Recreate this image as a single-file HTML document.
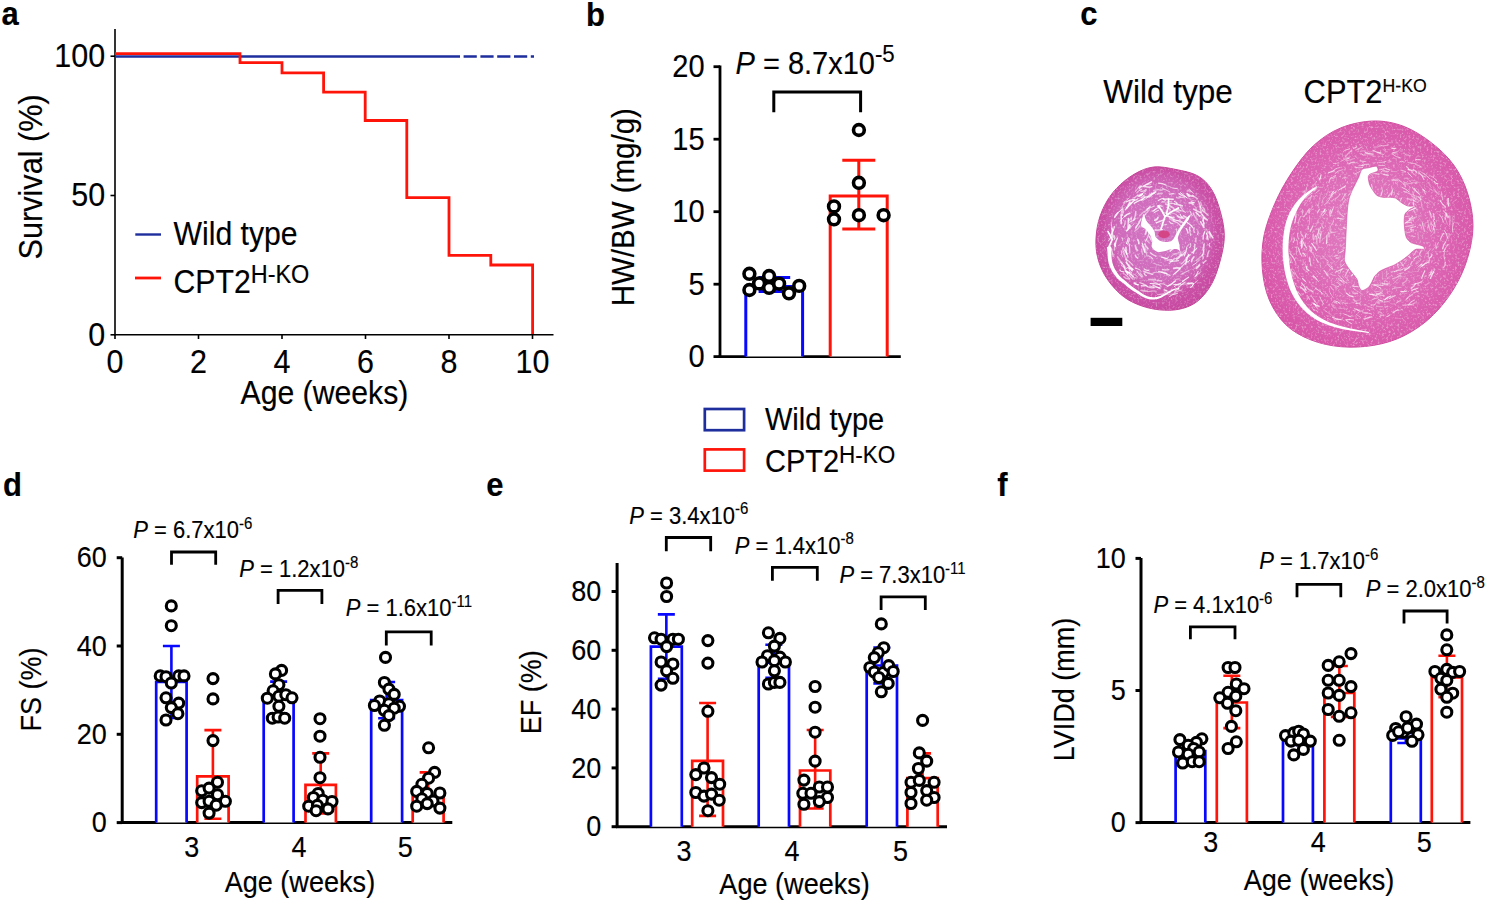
<!DOCTYPE html><html><head><meta charset="utf-8"><title>Figure</title>
<style>html,body{margin:0;padding:0;background:#fff;}svg{display:block;}text{font-family:"Liberation Sans",sans-serif;fill:#000;stroke:#000;stroke-width:0.15px;}</style></head><body>
<svg width="1500" height="908" viewBox="0 0 1500 908">
<rect width="1500" height="908" fill="#fff"/>
<text transform="translate(1.5,25.3) scale(1,1.08)" font-size="31" font-weight="bold" >a</text>
<line x1="115" y1="29" x2="115" y2="335.4" stroke="#000" stroke-width="1.6" />
<line x1="114.2" y1="334.8" x2="553.5" y2="334.8" stroke="#000" stroke-width="1.6" />
<line x1="110.5" y1="56.2" x2="115" y2="56.2" stroke="#000" stroke-width="1.6" />
<line x1="110.5" y1="195.5" x2="115" y2="195.5" stroke="#000" stroke-width="1.6" />
<line x1="110.5" y1="334.8" x2="115" y2="334.8" stroke="#000" stroke-width="1.6" />
<line x1="115" y1="334.8" x2="115" y2="339" stroke="#000" stroke-width="1.6" />
<line x1="198.5" y1="334.8" x2="198.5" y2="339" stroke="#000" stroke-width="1.6" />
<line x1="282" y1="334.8" x2="282" y2="339" stroke="#000" stroke-width="1.6" />
<line x1="365.5" y1="334.8" x2="365.5" y2="339" stroke="#000" stroke-width="1.6" />
<line x1="449" y1="334.8" x2="449" y2="339" stroke="#000" stroke-width="1.6" />
<line x1="532.5" y1="334.8" x2="532.5" y2="339" stroke="#000" stroke-width="1.6" />
<text transform="translate(105.2,67) scale(1,1.08)" font-size="30.5" text-anchor="end" >100</text>
<text transform="translate(105.2,206.3) scale(1,1.08)" font-size="30.5" text-anchor="end" >50</text>
<text transform="translate(105.2,345.6) scale(1,1.08)" font-size="30.5" text-anchor="end" >0</text>
<text transform="translate(115,372.8) scale(1,1.08)" font-size="30.5" text-anchor="middle" >0</text>
<text transform="translate(198.5,372.8) scale(1,1.08)" font-size="30.5" text-anchor="middle" >2</text>
<text transform="translate(282,372.8) scale(1,1.08)" font-size="30.5" text-anchor="middle" >4</text>
<text transform="translate(365.5,372.8) scale(1,1.08)" font-size="30.5" text-anchor="middle" >6</text>
<text transform="translate(449,372.8) scale(1,1.08)" font-size="30.5" text-anchor="middle" >8</text>
<text transform="translate(532.5,372.8) scale(1,1.08)" font-size="30.5" text-anchor="middle" >10</text>
<text transform="translate(324.4,403.8) scale(1,1.08)" font-size="30.2" text-anchor="middle" >Age (weeks)</text>
<text transform="translate(41.7,176.9) rotate(-90) scale(1,1.08)" font-size="30.7" text-anchor="middle">Survival (%)</text>
<path d="M115,56.5 H460" stroke="#1e2e9c" stroke-width="2.3" fill="none"/>
<path d="M463.6,56.5 H534" stroke="#1e2e9c" stroke-width="2.3" fill="none" stroke-dasharray="13.2 3.6"/>
<path d="M115,53.6 H240 V62.7 H282 V72.9 H323.6 V92.1 H365.2 V120.5 H406.8 V197.6 H449 V255.4 H490.8 V265 H532.6 V334" stroke="#ff140a" stroke-width="2.8" fill="none"/>
<line x1="135.3" y1="234.5" x2="161" y2="234.5" stroke="#1e2e9c" stroke-width="2.4" />
<line x1="135" y1="278" x2="161" y2="278" stroke="#ff140a" stroke-width="2.8" />
<text transform="translate(173.5,244.8) scale(1,1.08)" font-size="30.2" >Wild type</text>
<text transform="translate(173.5,293.4) scale(1,1.08)" font-size="30.2">CPT2<tspan font-size="23.5" dy="-9.63">H-KO</tspan></text>
<text transform="translate(586,25.6) scale(1,1.08)" font-size="31" font-weight="bold" >b</text>
<line x1="720" y1="65.5" x2="720" y2="357.8" stroke="#000" stroke-width="2.8" />
<line x1="718.6" y1="356.6" x2="900.8" y2="356.6" stroke="#000" stroke-width="2.8" />
<line x1="713.5" y1="66.7" x2="720" y2="66.7" stroke="#000" stroke-width="2.8" />
<text transform="translate(704.5,77.1) scale(1,1.08)" font-size="29" text-anchor="end" >20</text>
<line x1="713.5" y1="139.2" x2="720" y2="139.2" stroke="#000" stroke-width="2.8" />
<text transform="translate(704.5,149.6) scale(1,1.08)" font-size="29" text-anchor="end" >15</text>
<line x1="713.5" y1="211.7" x2="720" y2="211.7" stroke="#000" stroke-width="2.8" />
<text transform="translate(704.5,222.1) scale(1,1.08)" font-size="29" text-anchor="end" >10</text>
<line x1="713.5" y1="284.2" x2="720" y2="284.2" stroke="#000" stroke-width="2.8" />
<text transform="translate(704.5,294.6) scale(1,1.08)" font-size="29" text-anchor="end" >5</text>
<line x1="713.5" y1="356.6" x2="720" y2="356.6" stroke="#000" stroke-width="2.8" />
<text transform="translate(704.5,367) scale(1,1.08)" font-size="29" text-anchor="end" >0</text>
<text transform="translate(634.2,207.2) rotate(-90) scale(1,1.08)" font-size="29.5" text-anchor="middle">HW/BW (mg/g)</text>
<path d="M745.8,356.6 V286.4 H802.6 V356.6" fill="#fff" stroke="#0808ff" stroke-width="3"/>
<path d="M774.4,277.6 V291.5 M758.6,277.6 H790.2 M758.6,291.5 H790.2" fill="none" stroke="#0808ff" stroke-width="3"/>
<path d="M830.2,356.6 V196.1 H887.2 V356.6" fill="#fff" stroke="#ff140a" stroke-width="3"/>
<path d="M858.8,160.2 V228.9 M842.3,160.2 H875.3 M842.3,228.9 H875.3" fill="none" stroke="#ff140a" stroke-width="3"/>
<circle cx="749.4" cy="273.8" r="5.4" fill="#fff" stroke="#000" stroke-width="3.6"/>
<circle cx="749.4" cy="290" r="5.4" fill="#fff" stroke="#000" stroke-width="3.6"/>
<circle cx="759.1" cy="283.4" r="5.4" fill="#fff" stroke="#000" stroke-width="3.6"/>
<circle cx="769.1" cy="276" r="5.4" fill="#fff" stroke="#000" stroke-width="3.6"/>
<circle cx="769.1" cy="287.8" r="5.4" fill="#fff" stroke="#000" stroke-width="3.6"/>
<circle cx="779.1" cy="283.7" r="5.4" fill="#fff" stroke="#000" stroke-width="3.6"/>
<circle cx="789" cy="293.3" r="5.4" fill="#fff" stroke="#000" stroke-width="3.6"/>
<circle cx="799.2" cy="285.9" r="5.4" fill="#fff" stroke="#000" stroke-width="3.6"/>
<circle cx="858.9" cy="130" r="5.4" fill="#fff" stroke="#000" stroke-width="3.6"/>
<circle cx="858.9" cy="182.8" r="5.4" fill="#fff" stroke="#000" stroke-width="3.6"/>
<circle cx="834" cy="206.4" r="5.4" fill="#fff" stroke="#000" stroke-width="3.6"/>
<circle cx="834" cy="219.3" r="5.4" fill="#fff" stroke="#000" stroke-width="3.6"/>
<circle cx="858.9" cy="215.2" r="5.4" fill="#fff" stroke="#000" stroke-width="3.6"/>
<circle cx="883.6" cy="215.2" r="5.4" fill="#fff" stroke="#000" stroke-width="3.6"/>
<path d="M773.8,112.2 V92 H860.6 V112.2" fill="none" stroke="#000" stroke-width="3"/>
<text transform="translate(735.5,74) scale(1,1.08)" font-size="29"><tspan font-style="italic">P</tspan><tspan> = 8.7x10</tspan><tspan font-size="22.3" dy="-11.57">-5</tspan></text>
<rect x="704.8" y="409" width="39.3" height="21.2" fill="none" stroke="#1e2e9c" stroke-width="2.7"/>
<rect x="704.8" y="449.4" width="39.3" height="21.2" fill="none" stroke="#ff140a" stroke-width="2.7"/>
<text transform="translate(765,429.9) scale(1,1.08)" font-size="29" >Wild type</text>
<text transform="translate(765,472.1) scale(1,1.08)" font-size="29">CPT2<tspan font-size="22.5" dy="-8.52">H-KO</tspan></text>
<text transform="translate(1080.2,25.4) scale(1,1.08)" font-size="31" font-weight="bold" >c</text>
<text transform="translate(1103.3,102.8) scale(1,1.08)" font-size="31.5" >Wild type</text>
<text transform="translate(1303.6,102.5) scale(1,1.08)" font-size="30.9">CPT2<tspan font-size="17.7" dy="-9.54">H-KO</tspan></text>
<rect x="1090.6" y="317.8" width="31.7" height="8.2" fill="#000"/>
<defs><radialGradient id="gs" cx="0.5" cy="0.47" r="0.52"><stop offset="0" stop-color="#d277c4"/><stop offset="0.6" stop-color="#d06bbc"/><stop offset="0.76" stop-color="#cd5eb1"/><stop offset="0.86" stop-color="#ca50a6"/><stop offset="1" stop-color="#c84ba2"/></radialGradient><radialGradient id="gl" cx="0.5" cy="0.5" r="0.53"><stop offset="0" stop-color="#e07cc0"/><stop offset="0.45" stop-color="#de70ba"/><stop offset="0.72" stop-color="#dc63b2"/><stop offset="1" stop-color="#d856a8"/></radialGradient><clipPath id="cs"><path d="M1153.7,167 C1160.63,166.23 1168.65,168.02 1176,169.5 C1183.35,170.98 1191.82,172.48 1197.8,175.9 C1203.78,179.32 1208.08,183.83 1211.9,190 C1215.72,196.17 1218.63,205.27 1220.7,212.9 C1222.77,220.53 1224.3,228.17 1224.3,235.8 C1224.3,243.43 1222.77,250.77 1220.7,258.7 C1218.63,266.63 1215.72,276.35 1211.9,283.4 C1208.08,290.45 1203.08,296.73 1197.8,301 C1192.52,305.27 1186.67,307.53 1180.2,309 C1173.73,310.47 1166.05,310.55 1159,309.8 C1151.95,309.05 1144.35,307.13 1137.9,304.5 C1131.45,301.87 1125.88,298.98 1120.3,294 C1114.72,289.02 1108.37,281.65 1104.4,274.6 C1100.43,267.55 1097.68,259.63 1096.5,251.7 C1095.32,243.77 1095.98,234.65 1097.3,227 C1098.62,219.35 1101.17,212.27 1104.4,205.8 C1107.63,199.33 1111.7,193.48 1116.7,188.2 C1121.7,182.92 1128.23,177.63 1134.4,174.1 C1140.57,170.57 1146.77,167.77 1153.7,167Z"/></clipPath><clipPath id="cl"><path d="M1373.9,121 C1384.45,120.77 1394.47,122.83 1404.1,126.5 C1413.73,130.17 1423.43,136.58 1431.7,143 C1439.97,149.42 1447.75,156.73 1453.7,165 C1459.65,173.27 1464.18,182.5 1467.4,192.6 C1470.62,202.7 1473,214.6 1473,225.6 C1473,236.6 1470.62,248.05 1467.4,258.6 C1464.18,269.15 1459.65,279.27 1453.7,288.9 C1447.75,298.53 1439.97,308.6 1431.7,316.4 C1423.43,324.2 1413.73,330.88 1404.1,335.7 C1394.47,340.52 1384.45,343.47 1373.9,345.3 C1363.35,347.13 1351.35,347.62 1340.8,346.7 C1330.25,345.78 1319.77,343.47 1310.6,339.8 C1301.43,336.13 1292.68,331.35 1285.8,324.7 C1278.92,318.05 1273.2,309.08 1269.3,299.9 C1265.4,290.72 1263.32,280.15 1262.4,269.6 C1261.48,259.05 1261.73,247.6 1263.8,236.6 C1265.87,225.6 1270.22,214.15 1274.8,203.6 C1279.38,193.05 1284.88,182.93 1291.3,173.3 C1297.72,163.67 1305.05,153.37 1313.3,145.8 C1321.55,138.23 1330.7,132.03 1340.8,127.9 C1350.9,123.77 1363.35,121.23 1373.9,121Z"/></clipPath><filter id="spk" x="0" y="0" width="1" height="1" filterUnits="objectBoundingBox"><feTurbulence type="fractalNoise" baseFrequency="0.45" numOctaves="2" seed="11" result="n"/><feColorMatrix in="n" type="matrix" values="0 0 0 0 1  0 0 0 0 1  0 0 0 0 1  0 0 0 -3.2 1.55"/><feComposite in2="SourceGraphic" operator="in"/></filter></defs>
<path d="M1153.7,167 C1160.63,166.23 1168.65,168.02 1176,169.5 C1183.35,170.98 1191.82,172.48 1197.8,175.9 C1203.78,179.32 1208.08,183.83 1211.9,190 C1215.72,196.17 1218.63,205.27 1220.7,212.9 C1222.77,220.53 1224.3,228.17 1224.3,235.8 C1224.3,243.43 1222.77,250.77 1220.7,258.7 C1218.63,266.63 1215.72,276.35 1211.9,283.4 C1208.08,290.45 1203.08,296.73 1197.8,301 C1192.52,305.27 1186.67,307.53 1180.2,309 C1173.73,310.47 1166.05,310.55 1159,309.8 C1151.95,309.05 1144.35,307.13 1137.9,304.5 C1131.45,301.87 1125.88,298.98 1120.3,294 C1114.72,289.02 1108.37,281.65 1104.4,274.6 C1100.43,267.55 1097.68,259.63 1096.5,251.7 C1095.32,243.77 1095.98,234.65 1097.3,227 C1098.62,219.35 1101.17,212.27 1104.4,205.8 C1107.63,199.33 1111.7,193.48 1116.7,188.2 C1121.7,182.92 1128.23,177.63 1134.4,174.1 C1140.57,170.57 1146.77,167.77 1153.7,167Z" fill="url(#gs)" stroke="#c44498" stroke-width="1"/>
<path d="M1153.7,167 C1160.63,166.23 1168.65,168.02 1176,169.5 C1183.35,170.98 1191.82,172.48 1197.8,175.9 C1203.78,179.32 1208.08,183.83 1211.9,190 C1215.72,196.17 1218.63,205.27 1220.7,212.9 C1222.77,220.53 1224.3,228.17 1224.3,235.8 C1224.3,243.43 1222.77,250.77 1220.7,258.7 C1218.63,266.63 1215.72,276.35 1211.9,283.4 C1208.08,290.45 1203.08,296.73 1197.8,301 C1192.52,305.27 1186.67,307.53 1180.2,309 C1173.73,310.47 1166.05,310.55 1159,309.8 C1151.95,309.05 1144.35,307.13 1137.9,304.5 C1131.45,301.87 1125.88,298.98 1120.3,294 C1114.72,289.02 1108.37,281.65 1104.4,274.6 C1100.43,267.55 1097.68,259.63 1096.5,251.7 C1095.32,243.77 1095.98,234.65 1097.3,227 C1098.62,219.35 1101.17,212.27 1104.4,205.8 C1107.63,199.33 1111.7,193.48 1116.7,188.2 C1121.7,182.92 1128.23,177.63 1134.4,174.1 C1140.57,170.57 1146.77,167.77 1153.7,167Z" fill="#fff" opacity="0.35" filter="url(#spk)"/>
<g clip-path="url(#cs)">
<path d="M1135.41,191.39 Q1137.84,188.45 1140.37,185.69" stroke="#fff" stroke-width="1.13" stroke-opacity="0.48" fill="none" stroke-linecap="round"/>
<path d="M1126.84,261.06 Q1125.31,256.46 1123.22,252.14" stroke="#fff" stroke-width="1.68" stroke-opacity="0.47" fill="none" stroke-linecap="round"/>
<path d="M1137.67,284.76 Q1135.71,283.9 1134.18,282.32" stroke="#fff" stroke-width="1.14" stroke-opacity="0.7" fill="none" stroke-linecap="round"/>
<path d="M1124.85,266.37 Q1122.61,264.3 1120.79,261.96" stroke="#fff" stroke-width="1.21" stroke-opacity="0.58" fill="none" stroke-linecap="round"/>
<path d="M1199.64,265.1 Q1198.08,266.86 1196.41,268.53" stroke="#fff" stroke-width="1.59" stroke-opacity="0.78" fill="none" stroke-linecap="round"/>
<path d="M1111.99,230.84 Q1111.62,226.72 1111.19,222.58" stroke="#fff" stroke-width="0.84" stroke-opacity="0.75" fill="none" stroke-linecap="round"/>
<path d="M1194.97,244.33 Q1194.77,249.02 1193.46,253.33" stroke="#fff" stroke-width="1.33" stroke-opacity="0.71" fill="none" stroke-linecap="round"/>
<path d="M1159.56,287.63 Q1154.72,287.43 1150.05,286.26" stroke="#fff" stroke-width="0.85" stroke-opacity="0.77" fill="none" stroke-linecap="round"/>
<path d="M1200.14,205.16 Q1200.42,208.53 1202.95,210.12" stroke="#fff" stroke-width="1.22" stroke-opacity="0.53" fill="none" stroke-linecap="round"/>
<path d="M1127.99,227.38 Q1128.28,222.89 1128.3,218.28" stroke="#fff" stroke-width="1.29" stroke-opacity="0.85" fill="none" stroke-linecap="round"/>
<path d="M1130.29,228.4 Q1130.8,225.82 1133.87,224.21" stroke="#fff" stroke-width="0.94" stroke-opacity="0.53" fill="none" stroke-linecap="round"/>
<path d="M1123.69,202.37 Q1126.64,200.83 1128.6,198.27" stroke="#fff" stroke-width="0.8" stroke-opacity="0.64" fill="none" stroke-linecap="round"/>
<path d="M1145.13,252.49 Q1143.65,247.89 1142.26,243.26" stroke="#fff" stroke-width="1.36" stroke-opacity="0.75" fill="none" stroke-linecap="round"/>
<path d="M1196.48,220.92 Q1198.84,222.88 1200.46,225.14" stroke="#fff" stroke-width="0.86" stroke-opacity="0.48" fill="none" stroke-linecap="round"/>
<path d="M1172.61,187.98 Q1174.88,188.61 1177.35,188.45" stroke="#fff" stroke-width="0.91" stroke-opacity="0.83" fill="none" stroke-linecap="round"/>
<path d="M1115.41,246.15 Q1113.81,244.76 1115.06,242.98" stroke="#fff" stroke-width="1.58" stroke-opacity="0.76" fill="none" stroke-linecap="round"/>
<path d="M1128.44,220.88 Q1129.79,219.32 1131.3,217.85" stroke="#fff" stroke-width="1.5" stroke-opacity="0.6" fill="none" stroke-linecap="round"/>
<path d="M1188.15,197.8 Q1190.23,200.52 1193.96,200.96" stroke="#fff" stroke-width="0.83" stroke-opacity="0.58" fill="none" stroke-linecap="round"/>
<path d="M1132.9,269.46 Q1128.62,266.73 1126.34,262.32" stroke="#fff" stroke-width="1.69" stroke-opacity="0.88" fill="none" stroke-linecap="round"/>
<path d="M1141.41,200.03 Q1143.5,199.27 1144.8,196.94" stroke="#fff" stroke-width="1.36" stroke-opacity="0.86" fill="none" stroke-linecap="round"/>
<path d="M1204.69,231.76 Q1202.66,235.55 1203.13,239.17" stroke="#fff" stroke-width="1.39" stroke-opacity="0.86" fill="none" stroke-linecap="round"/>
<path d="M1198.09,271.39 Q1197.07,274.76 1194.86,276.85" stroke="#fff" stroke-width="1.1" stroke-opacity="0.81" fill="none" stroke-linecap="round"/>
<path d="M1187.22,190.9 Q1189.72,190.22 1191.04,191.66" stroke="#fff" stroke-width="1.53" stroke-opacity="0.52" fill="none" stroke-linecap="round"/>
<path d="M1177.3,215.82 Q1179.56,218.16 1183.7,218.25" stroke="#fff" stroke-width="1.67" stroke-opacity="0.74" fill="none" stroke-linecap="round"/>
<path d="M1156.33,291.24 Q1152.09,290.76 1147.56,291.73" stroke="#fff" stroke-width="1.06" stroke-opacity="0.56" fill="none" stroke-linecap="round"/>
<path d="M1168.49,204.3 Q1171.74,202.84 1174.4,203.78" stroke="#fff" stroke-width="1.12" stroke-opacity="0.66" fill="none" stroke-linecap="round"/>
<path d="M1151.24,193.08 Q1152.97,194.11 1154.26,193.22" stroke="#fff" stroke-width="1.23" stroke-opacity="0.78" fill="none" stroke-linecap="round"/>
<path d="M1164.4,212.77 Q1167.78,212.71 1170.84,214.33" stroke="#fff" stroke-width="0.9" stroke-opacity="0.7" fill="none" stroke-linecap="round"/>
<path d="M1125.42,209.64 Q1128.12,206.42 1131.1,203.45" stroke="#fff" stroke-width="1.48" stroke-opacity="0.86" fill="none" stroke-linecap="round"/>
<path d="M1155.93,256.18 Q1152.85,254.97 1150.36,252.76" stroke="#fff" stroke-width="1.21" stroke-opacity="0.69" fill="none" stroke-linecap="round"/>
<path d="M1112.18,231.88 Q1113.31,230.33 1111.9,228.39" stroke="#fff" stroke-width="1.4" stroke-opacity="0.8" fill="none" stroke-linecap="round"/>
<path d="M1189.8,260.37 Q1189.05,262.24 1186.24,262.2" stroke="#fff" stroke-width="1" stroke-opacity="0.88" fill="none" stroke-linecap="round"/>
<path d="M1145.51,241.17 Q1148.41,236.67 1149.28,231.99" stroke="#fff" stroke-width="1.19" stroke-opacity="0.68" fill="none" stroke-linecap="round"/>
<path d="M1137.34,195.71 Q1140.52,196.22 1142.34,194.2" stroke="#fff" stroke-width="1.3" stroke-opacity="0.65" fill="none" stroke-linecap="round"/>
<path d="M1200.47,202.03 Q1201.32,203.79 1201.86,205.83" stroke="#fff" stroke-width="1.43" stroke-opacity="0.49" fill="none" stroke-linecap="round"/>
<path d="M1206.51,229.12 Q1208.03,231.62 1207.01,234.47" stroke="#fff" stroke-width="1.04" stroke-opacity="0.51" fill="none" stroke-linecap="round"/>
<path d="M1162.03,201.57 Q1163.81,202.4 1165.65,200.52" stroke="#fff" stroke-width="0.98" stroke-opacity="0.59" fill="none" stroke-linecap="round"/>
<path d="M1137.51,276.95 Q1136.05,274.68 1133.45,273.97" stroke="#fff" stroke-width="1.11" stroke-opacity="0.46" fill="none" stroke-linecap="round"/>
<path d="M1190.73,243.6 Q1191.44,246.04 1189.65,247.78" stroke="#fff" stroke-width="0.9" stroke-opacity="0.82" fill="none" stroke-linecap="round"/>
<path d="M1202.56,219.92 Q1204.52,222.63 1203.77,226.35" stroke="#fff" stroke-width="1.11" stroke-opacity="0.82" fill="none" stroke-linecap="round"/>
<path d="M1188.36,255.34 Q1185.79,256.96 1185.28,260.29" stroke="#fff" stroke-width="0.92" stroke-opacity="0.48" fill="none" stroke-linecap="round"/>
<path d="M1189.21,202.86 Q1191.83,202.71 1193.16,204.13" stroke="#fff" stroke-width="1.58" stroke-opacity="0.75" fill="none" stroke-linecap="round"/>
<path d="M1130.65,203.28 Q1133.19,202.38 1134.41,199.9" stroke="#fff" stroke-width="1.2" stroke-opacity="0.57" fill="none" stroke-linecap="round"/>
<path d="M1161.55,202.28 Q1166.38,202.34 1171.28,201.53" stroke="#fff" stroke-width="0.8" stroke-opacity="0.62" fill="none" stroke-linecap="round"/>
<path d="M1122.54,240.55 Q1123.42,239.04 1121.83,237.6" stroke="#fff" stroke-width="1.16" stroke-opacity="0.47" fill="none" stroke-linecap="round"/>
<path d="M1126.61,253.95 Q1125.81,250.77 1125.9,247.29" stroke="#fff" stroke-width="1.44" stroke-opacity="0.85" fill="none" stroke-linecap="round"/>
<path d="M1143.27,217.49 Q1145.9,213.02 1149.29,209.65" stroke="#fff" stroke-width="1.38" stroke-opacity="0.47" fill="none" stroke-linecap="round"/>
<path d="M1179.97,268.97 Q1176.7,271.86 1173.38,274.62" stroke="#fff" stroke-width="1.25" stroke-opacity="0.83" fill="none" stroke-linecap="round"/>
<path d="M1175.03,294.62 Q1171.03,293.69 1167.25,294.38" stroke="#fff" stroke-width="0.83" stroke-opacity="0.51" fill="none" stroke-linecap="round"/>
<path d="M1204.51,243.26 Q1203.85,246.87 1202.13,250.26" stroke="#fff" stroke-width="1.24" stroke-opacity="0.45" fill="none" stroke-linecap="round"/>
<path d="M1200.84,271.63 Q1198.78,274.19 1196.06,276.07" stroke="#fff" stroke-width="0.86" stroke-opacity="0.78" fill="none" stroke-linecap="round"/>
<path d="M1131.65,273.01 Q1129.44,272.17 1129.23,269.29" stroke="#fff" stroke-width="1.24" stroke-opacity="0.62" fill="none" stroke-linecap="round"/>
<path d="M1161.71,265.87 Q1157.63,265.05 1153.72,263.39" stroke="#fff" stroke-width="0.87" stroke-opacity="0.52" fill="none" stroke-linecap="round"/>
<path d="M1130.68,275.03 Q1129.97,272.08 1127.22,271.24" stroke="#fff" stroke-width="0.85" stroke-opacity="0.57" fill="none" stroke-linecap="round"/>
<path d="M1185.08,263.08 Q1182.41,265.88 1179.68,268.61" stroke="#fff" stroke-width="1.22" stroke-opacity="0.66" fill="none" stroke-linecap="round"/>
<path d="M1160.01,284.68 Q1155.27,283.4 1150.31,283.48" stroke="#fff" stroke-width="0.99" stroke-opacity="0.88" fill="none" stroke-linecap="round"/>
<path d="M1123.97,251.96 Q1122.13,250.43 1122.89,248.11" stroke="#fff" stroke-width="0.92" stroke-opacity="0.82" fill="none" stroke-linecap="round"/>
<path d="M1165.39,292.8 Q1161.49,294.84 1157.65,294.49" stroke="#fff" stroke-width="1.24" stroke-opacity="0.46" fill="none" stroke-linecap="round"/>
<path d="M1152.31,210.98 Q1154.27,210.64 1155.9,209.25" stroke="#fff" stroke-width="1.56" stroke-opacity="0.45" fill="none" stroke-linecap="round"/>
<path d="M1131.13,221.72 Q1133.31,220.01 1135.95,218.58" stroke="#fff" stroke-width="1.12" stroke-opacity="0.64" fill="none" stroke-linecap="round"/>
<path d="M1126.84,207.86 Q1128.64,205.21 1129.89,202.03" stroke="#fff" stroke-width="1.66" stroke-opacity="0.85" fill="none" stroke-linecap="round"/>
<path d="M1203.86,254.06 Q1200.4,257.16 1196.68,260.12" stroke="#fff" stroke-width="1.45" stroke-opacity="0.47" fill="none" stroke-linecap="round"/>
<path d="M1189.64,227.27 Q1189.47,231.54 1190.55,235.49" stroke="#fff" stroke-width="0.84" stroke-opacity="0.87" fill="none" stroke-linecap="round"/>
<path d="M1113.07,237.11 Q1112.06,234.38 1112.47,231.74" stroke="#fff" stroke-width="1.68" stroke-opacity="0.57" fill="none" stroke-linecap="round"/>
<path d="M1177.24,208.43 Q1179.81,210.81 1183.43,211.49" stroke="#fff" stroke-width="0.95" stroke-opacity="0.54" fill="none" stroke-linecap="round"/>
<path d="M1129.86,252.93 Q1129.77,248.26 1129.17,243.75" stroke="#fff" stroke-width="1.17" stroke-opacity="0.69" fill="none" stroke-linecap="round"/>
<path d="M1143.57,216.62 Q1143.78,214.2 1145.76,213.97" stroke="#fff" stroke-width="0.91" stroke-opacity="0.68" fill="none" stroke-linecap="round"/>
<path d="M1178.98,289.2 Q1176.77,289.49 1174.95,291.23" stroke="#fff" stroke-width="1.16" stroke-opacity="0.65" fill="none" stroke-linecap="round"/>
<path d="M1209.2,231.5 Q1210.65,234.61 1212.74,237.67" stroke="#fff" stroke-width="1.63" stroke-opacity="0.82" fill="none" stroke-linecap="round"/>
<path d="M1115,245.28 Q1115.57,241.64 1117.45,237.9" stroke="#fff" stroke-width="1.38" stroke-opacity="0.79" fill="none" stroke-linecap="round"/>
<path d="M1177.14,209.8 Q1179.2,210.03 1180.86,210.96" stroke="#fff" stroke-width="1.43" stroke-opacity="0.5" fill="none" stroke-linecap="round"/>
<path d="M1169.07,221.2 Q1170.32,223.72 1172.92,223.64" stroke="#fff" stroke-width="1.07" stroke-opacity="0.66" fill="none" stroke-linecap="round"/>
<path d="M1208.77,232.65 Q1210.83,234.78 1210.12,237.09" stroke="#fff" stroke-width="1.43" stroke-opacity="0.59" fill="none" stroke-linecap="round"/>
<path d="M1133,265.35 Q1130.51,261.48 1125.75,259.25" stroke="#fff" stroke-width="1.1" stroke-opacity="0.64" fill="none" stroke-linecap="round"/>
<path d="M1180.36,192.63 Q1183.74,195.27 1187.1,197.94" stroke="#fff" stroke-width="0.98" stroke-opacity="0.89" fill="none" stroke-linecap="round"/>
<path d="M1138.56,284.72 Q1135.95,284.77 1134.12,283.47" stroke="#fff" stroke-width="1.07" stroke-opacity="0.88" fill="none" stroke-linecap="round"/>
<path d="M1157.6,194.08 Q1159.82,193.25 1162.12,193.42" stroke="#fff" stroke-width="1.65" stroke-opacity="0.52" fill="none" stroke-linecap="round"/>
<path d="M1143.04,200.58 Q1147.28,198.66 1150.53,194.24" stroke="#fff" stroke-width="0.85" stroke-opacity="0.63" fill="none" stroke-linecap="round"/>
<path d="M1179.22,219.31 Q1180.68,221.74 1183.61,222.82" stroke="#fff" stroke-width="0.8" stroke-opacity="0.58" fill="none" stroke-linecap="round"/>
<path d="M1120.01,221.11 Q1123.19,218.02 1126,214.74" stroke="#fff" stroke-width="0.84" stroke-opacity="0.66" fill="none" stroke-linecap="round"/>
<path d="M1121.15,223.65 Q1121.41,219.13 1121.18,214.38" stroke="#fff" stroke-width="1.53" stroke-opacity="0.8" fill="none" stroke-linecap="round"/>
<path d="M1133.15,276.38 Q1129.82,273.22 1125.54,271.05" stroke="#fff" stroke-width="1.66" stroke-opacity="0.73" fill="none" stroke-linecap="round"/>
<path d="M1132.14,270.83 Q1131.09,268.31 1127.87,267.84" stroke="#fff" stroke-width="1.48" stroke-opacity="0.86" fill="none" stroke-linecap="round"/>
<path d="M1126.61,230.95 Q1129.5,228.65 1130.56,225.84" stroke="#fff" stroke-width="1.52" stroke-opacity="0.78" fill="none" stroke-linecap="round"/>
<path d="M1171.61,213.02 Q1174.46,213.04 1176.6,214.6" stroke="#fff" stroke-width="0.87" stroke-opacity="0.54" fill="none" stroke-linecap="round"/>
<path d="M1191.06,201.85 Q1192.82,202.19 1194.38,202.78" stroke="#fff" stroke-width="1.09" stroke-opacity="0.89" fill="none" stroke-linecap="round"/>
<path d="M1186.39,228.66 Q1187.55,230.72 1188.03,232.99" stroke="#fff" stroke-width="1.41" stroke-opacity="0.79" fill="none" stroke-linecap="round"/>
<path d="M1206.16,260.58 Q1204.21,261.57 1203.33,263.18" stroke="#fff" stroke-width="1.31" stroke-opacity="0.62" fill="none" stroke-linecap="round"/>
<path d="M1188.6,194.63 Q1190.26,196.31 1193.05,196.26" stroke="#fff" stroke-width="1.6" stroke-opacity="0.71" fill="none" stroke-linecap="round"/>
<path d="M1135.67,227.84 Q1138.9,223.96 1140.74,219.28" stroke="#fff" stroke-width="1.53" stroke-opacity="0.74" fill="none" stroke-linecap="round"/>
<path d="M1161.08,286.09 Q1157.35,282.6 1153.27,281.84" stroke="#fff" stroke-width="1.06" stroke-opacity="0.5" fill="none" stroke-linecap="round"/>
<path d="M1147.12,291.08 Q1143.79,291.47 1141.03,290.29" stroke="#fff" stroke-width="1.65" stroke-opacity="0.5" fill="none" stroke-linecap="round"/>
<path d="M1174.52,254.21 Q1172.17,254.59 1170.85,256.85" stroke="#fff" stroke-width="0.98" stroke-opacity="0.56" fill="none" stroke-linecap="round"/>
<path d="M1174.53,258.36 Q1172.89,259.58 1171.68,261.74" stroke="#fff" stroke-width="1.41" stroke-opacity="0.53" fill="none" stroke-linecap="round"/>
<path d="M1132.69,198.18 Q1137.1,197.15 1140.11,193.91" stroke="#fff" stroke-width="0.89" stroke-opacity="0.63" fill="none" stroke-linecap="round"/>
<path d="M1168.41,257.42 Q1166.92,258.85 1165.2,259.13" stroke="#fff" stroke-width="1.17" stroke-opacity="0.58" fill="none" stroke-linecap="round"/>
<path d="M1137.57,250.4 Q1135.4,248.28 1135.27,245.4" stroke="#fff" stroke-width="1.7" stroke-opacity="0.61" fill="none" stroke-linecap="round"/>
<path d="M1123.69,271.93 Q1120.76,271.71 1119.71,270" stroke="#fff" stroke-width="1.18" stroke-opacity="0.82" fill="none" stroke-linecap="round"/>
<path d="M1153.86,190.38 Q1155.34,189.79 1156.95,190.04" stroke="#fff" stroke-width="1.62" stroke-opacity="0.49" fill="none" stroke-linecap="round"/>
<path d="M1172.9,218.97 Q1175.64,220.48 1179.13,220.94" stroke="#fff" stroke-width="1.27" stroke-opacity="0.87" fill="none" stroke-linecap="round"/>
<path d="M1108.57,240.95 Q1111.31,237.06 1112.24,233.14" stroke="#fff" stroke-width="0.91" stroke-opacity="0.87" fill="none" stroke-linecap="round"/>
<path d="M1177.84,284.73 Q1175.56,283.94 1173.72,284.77" stroke="#fff" stroke-width="1.16" stroke-opacity="0.83" fill="none" stroke-linecap="round"/>
<path d="M1123.59,227.3 Q1125.44,224.47 1125.17,220.87" stroke="#fff" stroke-width="1.02" stroke-opacity="0.78" fill="none" stroke-linecap="round"/>
<path d="M1169.98,275.43 Q1168.2,274.03 1166.76,274.9" stroke="#fff" stroke-width="1.34" stroke-opacity="0.7" fill="none" stroke-linecap="round"/>
<path d="M1174.09,209.21 Q1176.54,210.93 1179.19,212.25" stroke="#fff" stroke-width="1.39" stroke-opacity="0.65" fill="none" stroke-linecap="round"/>
<path d="M1129.73,278.85 Q1127.23,275.34 1123.4,273.23" stroke="#fff" stroke-width="1.23" stroke-opacity="0.5" fill="none" stroke-linecap="round"/>
<path d="M1112.67,230.29 Q1112.89,228.48 1113.16,226.69" stroke="#fff" stroke-width="0.84" stroke-opacity="0.74" fill="none" stroke-linecap="round"/>
<path d="M1195.99,238.35 Q1195.52,240.02 1195.77,241.73" stroke="#fff" stroke-width="1.66" stroke-opacity="0.51" fill="none" stroke-linecap="round"/>
<path d="M1192.23,283.15 Q1190.05,283.36 1187.89,283.61" stroke="#fff" stroke-width="1.66" stroke-opacity="0.86" fill="none" stroke-linecap="round"/>
<path d="M1142.64,276.58 Q1141.69,274.4 1140.05,273.39" stroke="#fff" stroke-width="1.53" stroke-opacity="0.51" fill="none" stroke-linecap="round"/>
<path d="M1121.46,207.35 Q1124.19,205.43 1124.79,201.72" stroke="#fff" stroke-width="0.96" stroke-opacity="0.52" fill="none" stroke-linecap="round"/>
<path d="M1166.99,258.6 Q1164.34,258.03 1161.67,257.13" stroke="#fff" stroke-width="1.32" stroke-opacity="0.85" fill="none" stroke-linecap="round"/>
<path d="M1173.32,221.06 Q1178,222.23 1180.65,225.54" stroke="#fff" stroke-width="1.32" stroke-opacity="0.61" fill="none" stroke-linecap="round"/>
<path d="M1194.16,228.04 Q1192.91,230.49 1194.28,232.28" stroke="#fff" stroke-width="1.54" stroke-opacity="0.56" fill="none" stroke-linecap="round"/>
<path d="M1173.21,259.94 Q1170.91,260.46 1169.54,263.61" stroke="#fff" stroke-width="0.93" stroke-opacity="0.73" fill="none" stroke-linecap="round"/>
<path d="M1154.06,244.22 Q1152.54,240.05 1149.42,236.2" stroke="#fff" stroke-width="1.39" stroke-opacity="0.46" fill="none" stroke-linecap="round"/>
<path d="M1127.12,253.31 Q1124.81,250.45 1123.2,247.36" stroke="#fff" stroke-width="1.23" stroke-opacity="0.51" fill="none" stroke-linecap="round"/>
<path d="M1182.02,289.91 Q1177.87,290.74 1174.1,292.92" stroke="#fff" stroke-width="0.81" stroke-opacity="0.74" fill="none" stroke-linecap="round"/>
<path d="M1164.68,216.28 Q1168.69,215.76 1172.05,217.77" stroke="#fff" stroke-width="1.46" stroke-opacity="0.56" fill="none" stroke-linecap="round"/>
<path d="M1162.19,225.64 Q1164.52,224.14 1166.66,224.31" stroke="#fff" stroke-width="0.81" stroke-opacity="0.7" fill="none" stroke-linecap="round"/>
<path d="M1122.78,257.01 Q1121.12,254.17 1121.22,250.65" stroke="#fff" stroke-width="0.96" stroke-opacity="0.59" fill="none" stroke-linecap="round"/>
<path d="M1159.04,272.78 Q1156.19,271.76 1152.88,273.07" stroke="#fff" stroke-width="1.01" stroke-opacity="0.47" fill="none" stroke-linecap="round"/>
<path d="M1141.85,277.11 Q1139.03,274.58 1136.91,270.99" stroke="#fff" stroke-width="1.04" stroke-opacity="0.7" fill="none" stroke-linecap="round"/>
<path d="M1155.56,279.73 Q1152.12,280 1148.9,279.45" stroke="#fff" stroke-width="1.67" stroke-opacity="0.55" fill="none" stroke-linecap="round"/>
<path d="M1125.89,202.04 Q1129.28,200.17 1133.66,199.4" stroke="#fff" stroke-width="1.09" stroke-opacity="0.85" fill="none" stroke-linecap="round"/>
<path d="M1134.32,203.27 Q1138.17,200.67 1142.66,199.04" stroke="#fff" stroke-width="1.4" stroke-opacity="0.89" fill="none" stroke-linecap="round"/>
<path d="M1160.04,288.64 Q1156.53,286.72 1152.96,285.18" stroke="#fff" stroke-width="1.45" stroke-opacity="0.71" fill="none" stroke-linecap="round"/>
<path d="M1133.75,200.3 Q1135.15,196.24 1137.92,194.24" stroke="#fff" stroke-width="0.93" stroke-opacity="0.46" fill="none" stroke-linecap="round"/>
<path d="M1139.49,188.43 Q1140.34,186.73 1141.66,186.08" stroke="#fff" stroke-width="1.37" stroke-opacity="0.76" fill="none" stroke-linecap="round"/>
<path d="M1168.7,216 Q1172.46,217.83 1175.22,221.79" stroke="#fff" stroke-width="0.86" stroke-opacity="0.84" fill="none" stroke-linecap="round"/>
<path d="M1180.82,283.06 Q1177.19,283.67 1174.28,286.57" stroke="#fff" stroke-width="0.89" stroke-opacity="0.79" fill="none" stroke-linecap="round"/>
<path d="M1122.31,215.53 Q1123.32,212.96 1123.09,209.62" stroke="#fff" stroke-width="1.05" stroke-opacity="0.77" fill="none" stroke-linecap="round"/>
<path d="M1139.67,215.78 Q1142.89,211.98 1147.4,209.85" stroke="#fff" stroke-width="1.36" stroke-opacity="0.46" fill="none" stroke-linecap="round"/>
<path d="M1193.21,213.14 Q1194.58,216.99 1197.38,219.9" stroke="#fff" stroke-width="1.58" stroke-opacity="0.49" fill="none" stroke-linecap="round"/>
<path d="M1161.45,280.95 Q1159.35,280.32 1157.17,280.61" stroke="#fff" stroke-width="1.55" stroke-opacity="0.57" fill="none" stroke-linecap="round"/>
<path d="M1126.65,268.67 Q1123.61,267.13 1121.23,265.1" stroke="#fff" stroke-width="0.87" stroke-opacity="0.8" fill="none" stroke-linecap="round"/>
<path d="M1188.59,277.2 Q1185.45,279.11 1182.61,281.55" stroke="#fff" stroke-width="1.16" stroke-opacity="0.85" fill="none" stroke-linecap="round"/>
<path d="M1156.29,222.89 Q1160.57,221.28 1164.81,219.44" stroke="#fff" stroke-width="1.28" stroke-opacity="0.79" fill="none" stroke-linecap="round"/>
<path d="M1193.95,256.86 Q1191.89,258.69 1191.51,261.72" stroke="#fff" stroke-width="1.56" stroke-opacity="0.75" fill="none" stroke-linecap="round"/>
<path d="M1189.19,189.05 Q1191.45,191.01 1193.46,193.37" stroke="#fff" stroke-width="0.91" stroke-opacity="0.66" fill="none" stroke-linecap="round"/>
<path d="M1117.89,212.53 Q1121.85,210.63 1124.08,207.58" stroke="#fff" stroke-width="0.94" stroke-opacity="0.56" fill="none" stroke-linecap="round"/>
<path d="M1138.84,243.54 Q1139.16,241.43 1137.63,239.59" stroke="#fff" stroke-width="1.68" stroke-opacity="0.78" fill="none" stroke-linecap="round"/>
<path d="M1189.8,226.96 Q1189.09,229.47 1190.63,231.25" stroke="#fff" stroke-width="0.99" stroke-opacity="0.62" fill="none" stroke-linecap="round"/>
<path d="M1199.92,263.76 Q1197.5,265.95 1195.26,268.29" stroke="#fff" stroke-width="0.93" stroke-opacity="0.72" fill="none" stroke-linecap="round"/>
<path d="M1152.63,274.36 Q1148.14,273.01 1143.81,271.25" stroke="#fff" stroke-width="1.47" stroke-opacity="0.64" fill="none" stroke-linecap="round"/>
<path d="M1127.76,274.23 Q1125.26,270.52 1123.66,266.04" stroke="#fff" stroke-width="1.57" stroke-opacity="0.76" fill="none" stroke-linecap="round"/>
<path d="M1137.67,258.14 Q1135.81,257.21 1135.33,255.29" stroke="#fff" stroke-width="1.44" stroke-opacity="0.73" fill="none" stroke-linecap="round"/>
<path d="M1127.24,230.33 Q1128.72,227.57 1129.68,224.64" stroke="#fff" stroke-width="1.41" stroke-opacity="0.87" fill="none" stroke-linecap="round"/>
<path d="M1122.21,263.99 Q1119.92,260.45 1117.58,256.93" stroke="#fff" stroke-width="1.68" stroke-opacity="0.47" fill="none" stroke-linecap="round"/>
<path d="M1162.14,188.1 Q1165.94,189.91 1169.74,191.84" stroke="#fff" stroke-width="0.89" stroke-opacity="0.71" fill="none" stroke-linecap="round"/>
<path d="M1168.93,269.57 Q1165.73,270.41 1162.35,269.29" stroke="#fff" stroke-width="1.27" stroke-opacity="0.63" fill="none" stroke-linecap="round"/>
<path d="M1183.71,215.95 Q1186.27,216.8 1187.76,218.62" stroke="#fff" stroke-width="1.65" stroke-opacity="0.69" fill="none" stroke-linecap="round"/>
<path d="M1144.66,197.54 Q1146.25,196.41 1148.53,197.01" stroke="#fff" stroke-width="1.37" stroke-opacity="0.66" fill="none" stroke-linecap="round"/>
<path d="M1163.46,199.25 Q1168.39,198.86 1173.2,199.29" stroke="#fff" stroke-width="1.54" stroke-opacity="0.82" fill="none" stroke-linecap="round"/>
<path d="M1153.43,210.86 Q1156.1,208.06 1159.21,207.2" stroke="#fff" stroke-width="1.12" stroke-opacity="0.83" fill="none" stroke-linecap="round"/>
<path d="M1129.69,222.89 Q1131.51,221.16 1131.66,218.54" stroke="#fff" stroke-width="0.8" stroke-opacity="0.77" fill="none" stroke-linecap="round"/>
<path d="M1130.52,203.67 Q1132.58,202.14 1134.36,200.29" stroke="#fff" stroke-width="1.37" stroke-opacity="0.75" fill="none" stroke-linecap="round"/>
<path d="M1202.77,255.86 Q1203.96,258.01 1202.72,258.97" stroke="#fff" stroke-width="1.39" stroke-opacity="0.56" fill="none" stroke-linecap="round"/>
<path d="M1128.82,278.99 Q1125.54,278.75 1123.89,276.72" stroke="#fff" stroke-width="1.51" stroke-opacity="0.53" fill="none" stroke-linecap="round"/>
<path d="M1199.95,259.55 Q1197.17,263.06 1192.75,265.36" stroke="#fff" stroke-width="0.98" stroke-opacity="0.76" fill="none" stroke-linecap="round"/>
<path d="M1167.23,273.86 Q1164.34,273.11 1161.44,272.03" stroke="#fff" stroke-width="1.04" stroke-opacity="0.56" fill="none" stroke-linecap="round"/>
<path d="M1114.34,239.12 Q1115.37,237.42 1114.28,235.71" stroke="#fff" stroke-width="1.24" stroke-opacity="0.67" fill="none" stroke-linecap="round"/>
<path d="M1166.93,290.61 Q1165.45,290.12 1163.98,289.83" stroke="#fff" stroke-width="1.31" stroke-opacity="0.75" fill="none" stroke-linecap="round"/>
<path d="M1203.96,217.58 Q1202.75,221.04 1203.89,223.51" stroke="#fff" stroke-width="1.37" stroke-opacity="0.74" fill="none" stroke-linecap="round"/>
<path d="M1190.47,254.73 Q1187.96,256.05 1186.1,257.85" stroke="#fff" stroke-width="1.23" stroke-opacity="0.69" fill="none" stroke-linecap="round"/>
<path d="M1192.47,195.4 Q1195.08,196.96 1197.49,198.78" stroke="#fff" stroke-width="1.54" stroke-opacity="0.58" fill="none" stroke-linecap="round"/>
<path d="M1200.63,221.84 Q1202.3,224.65 1203.94,227.46" stroke="#fff" stroke-width="1.68" stroke-opacity="0.74" fill="none" stroke-linecap="round"/>
<path d="M1195.87,212.4 Q1197.93,214.11 1199.55,216.11" stroke="#fff" stroke-width="1.37" stroke-opacity="0.8" fill="none" stroke-linecap="round"/>
<path d="M1209.62,243.21 Q1208.21,244.67 1209.74,246.56" stroke="#fff" stroke-width="0.97" stroke-opacity="0.86" fill="none" stroke-linecap="round"/>
<path d="M1178.54,260.59 Q1174.44,261.27 1170.04,261.34" stroke="#fff" stroke-width="1.36" stroke-opacity="0.73" fill="none" stroke-linecap="round"/>
<path d="M1186.66,248.45 Q1185.92,252.42 1184.34,255.86" stroke="#fff" stroke-width="1.21" stroke-opacity="0.79" fill="none" stroke-linecap="round"/>
<path d="M1147.47,286.32 Q1143.92,283.8 1139.81,282.62" stroke="#fff" stroke-width="1.07" stroke-opacity="0.64" fill="none" stroke-linecap="round"/>
<path d="M1134.67,231.26 Q1138.46,228.96 1139.74,225.74" stroke="#fff" stroke-width="1.31" stroke-opacity="0.47" fill="none" stroke-linecap="round"/>
<path d="M1147.11,256.18 Q1146.03,251.49 1144.84,246.89" stroke="#fff" stroke-width="1.17" stroke-opacity="0.5" fill="none" stroke-linecap="round"/>
<path d="M1176.84,197.44 Q1178.33,198.7 1180.89,197.18" stroke="#fff" stroke-width="1.42" stroke-opacity="0.5" fill="none" stroke-linecap="round"/>
<path d="M1129.44,272.6 Q1126.87,272.32 1125.48,270.9" stroke="#fff" stroke-width="1.44" stroke-opacity="0.83" fill="none" stroke-linecap="round"/>
<path d="M1179.95,268.16 Q1176.53,267.61 1173.73,268.4" stroke="#fff" stroke-width="1.67" stroke-opacity="0.77" fill="none" stroke-linecap="round"/>
<path d="M1181.2,282.83 Q1179.89,284.36 1178.11,284.6" stroke="#fff" stroke-width="0.95" stroke-opacity="0.84" fill="none" stroke-linecap="round"/>
<path d="M1144.54,251.95 Q1144.4,248.58 1142.41,246.26" stroke="#fff" stroke-width="1.52" stroke-opacity="0.61" fill="none" stroke-linecap="round"/>
<path d="M1180.98,254.79 Q1179.47,257.58 1176.86,259.05" stroke="#fff" stroke-width="1.65" stroke-opacity="0.8" fill="none" stroke-linecap="round"/>
<path d="M1167.55,207.75 Q1169.06,208.16 1170.33,209.76" stroke="#fff" stroke-width="1.54" stroke-opacity="0.6" fill="none" stroke-linecap="round"/>
<path d="M1203.48,250.37 Q1203.83,253.25 1201.99,255.31" stroke="#fff" stroke-width="1.14" stroke-opacity="0.76" fill="none" stroke-linecap="round"/>
<path d="M1177.43,293.38 Q1173.14,293.49 1169.38,296.55" stroke="#fff" stroke-width="1.04" stroke-opacity="0.64" fill="none" stroke-linecap="round"/>
<path d="M1175.28,280.94 Q1171.66,284.51 1167.66,286.11" stroke="#fff" stroke-width="1.53" stroke-opacity="0.84" fill="none" stroke-linecap="round"/>
<path d="M1165.62,204.04 Q1169.7,205.56 1173.56,208.17" stroke="#fff" stroke-width="1.62" stroke-opacity="0.61" fill="none" stroke-linecap="round"/>
<path d="M1128.04,257.18 Q1127.22,253.32 1124.78,250.15" stroke="#fff" stroke-width="1.03" stroke-opacity="0.79" fill="none" stroke-linecap="round"/>
<path d="M1197.9,230.85 Q1198.48,232.52 1197.45,234.44" stroke="#fff" stroke-width="1.01" stroke-opacity="0.71" fill="none" stroke-linecap="round"/>
<path d="M1169.65,194.21 Q1171.93,193.42 1173.98,193.82" stroke="#fff" stroke-width="1.13" stroke-opacity="0.7" fill="none" stroke-linecap="round"/>
<path d="M1149.08,242.53 Q1146.47,241.14 1146.8,239.19" stroke="#fff" stroke-width="1.14" stroke-opacity="0.5" fill="none" stroke-linecap="round"/>
<path d="M1179.35,278.93 Q1177.21,278.99 1175.38,279.93" stroke="#fff" stroke-width="1.27" stroke-opacity="0.46" fill="none" stroke-linecap="round"/>
<path d="M1206.32,233.07 Q1208.02,236.42 1208.05,239.82" stroke="#fff" stroke-width="1.18" stroke-opacity="0.88" fill="none" stroke-linecap="round"/>
<path d="M1197.87,280.36 Q1193.77,282.79 1191.24,287.5" stroke="#fff" stroke-width="0.98" stroke-opacity="0.53" fill="none" stroke-linecap="round"/>
<path d="M1170.69,292.29 Q1167.84,292.56 1164.78,290.37" stroke="#fff" stroke-width="0.86" stroke-opacity="0.72" fill="none" stroke-linecap="round"/>
<path d="M1143.03,186.46 Q1147.23,183.94 1151.54,181.79" stroke="#fff" stroke-width="1.38" stroke-opacity="0.88" fill="none" stroke-linecap="round"/>
<path d="M1179.56,221.4 Q1183.19,222.28 1184.62,224.88" stroke="#fff" stroke-width="1.69" stroke-opacity="0.55" fill="none" stroke-linecap="round"/>
<path d="M1188.76,254.65 Q1186.39,258.64 1185.62,264.04" stroke="#fff" stroke-width="1.48" stroke-opacity="0.87" fill="none" stroke-linecap="round"/>
<path d="M1180.64,206.99 Q1182.32,210.63 1185.37,212.34" stroke="#fff" stroke-width="1.09" stroke-opacity="0.57" fill="none" stroke-linecap="round"/>
<path d="M1112.76,237.78 Q1113.44,235.78 1111.97,233.68" stroke="#fff" stroke-width="1.41" stroke-opacity="0.46" fill="none" stroke-linecap="round"/>
<path d="M1187.17,193.57 Q1187.74,195.58 1189.16,196.15" stroke="#fff" stroke-width="1.64" stroke-opacity="0.84" fill="none" stroke-linecap="round"/>
<path d="M1176.42,228.93 Q1176.74,231.62 1177.19,234.25" stroke="#fff" stroke-width="1.37" stroke-opacity="0.51" fill="none" stroke-linecap="round"/>
<path d="M1188.92,244.42 Q1187.05,245.81 1186.5,247.62" stroke="#fff" stroke-width="1.17" stroke-opacity="0.52" fill="none" stroke-linecap="round"/>
<path d="M1136.65,192.86 Q1138.71,189.88 1141.85,189.06" stroke="#fff" stroke-width="0.9" stroke-opacity="0.89" fill="none" stroke-linecap="round"/>
<path d="M1178.83,196.4 Q1181.6,197.81 1184.99,197.91" stroke="#fff" stroke-width="0.98" stroke-opacity="0.61" fill="none" stroke-linecap="round"/>
<path d="M1138.57,187.2 Q1140.04,186.94 1141.56,186.83" stroke="#fff" stroke-width="0.97" stroke-opacity="0.65" fill="none" stroke-linecap="round"/>
<path d="M1167.53,185.95 Q1169.6,186.09 1171.5,187.49" stroke="#fff" stroke-width="0.98" stroke-opacity="0.49" fill="none" stroke-linecap="round"/>
<path d="M1157.6,206.11 Q1159.76,205.49 1162.04,206.12" stroke="#fff" stroke-width="1.53" stroke-opacity="0.71" fill="none" stroke-linecap="round"/>
<path d="M1187.15,222.59 Q1190.98,224.88 1193.13,227.97" stroke="#fff" stroke-width="1.1" stroke-opacity="0.83" fill="none" stroke-linecap="round"/>
<path d="M1207.52,235.95 Q1206.91,237.4 1206.44,238.86" stroke="#fff" stroke-width="1.58" stroke-opacity="0.57" fill="none" stroke-linecap="round"/>
<path d="M1140.75,191.19 Q1143.98,191.72 1146.09,189.51" stroke="#fff" stroke-width="1.27" stroke-opacity="0.65" fill="none" stroke-linecap="round"/>
<path d="M1158.54,183.16 Q1162.38,183.15 1166.25,185.33" stroke="#fff" stroke-width="1.09" stroke-opacity="0.77" fill="none" stroke-linecap="round"/>
<path d="M1146.45,275.51 Q1144.64,275.51 1144.04,273.07" stroke="#fff" stroke-width="1.25" stroke-opacity="0.68" fill="none" stroke-linecap="round"/>
<path d="M1175.95,247.59 Q1172.31,248.43 1170.26,251.05" stroke="#fff" stroke-width="1.58" stroke-opacity="0.77" fill="none" stroke-linecap="round"/>
<path d="M1144.77,186.39 Q1148.63,187.57 1151.91,186.73" stroke="#fff" stroke-width="1.32" stroke-opacity="0.79" fill="none" stroke-linecap="round"/>
<path d="M1153.53,287.45 Q1149.9,288.19 1146.94,286.38" stroke="#fff" stroke-width="1.5" stroke-opacity="0.6" fill="none" stroke-linecap="round"/>
<path d="M1124.66,216.47 Q1126.45,214.35 1129.78,213.23" stroke="#fff" stroke-width="1.62" stroke-opacity="0.82" fill="none" stroke-linecap="round"/>
<path d="M1152.73,258.92 Q1151.15,256.26 1148.16,255.77" stroke="#fff" stroke-width="1.19" stroke-opacity="0.68" fill="none" stroke-linecap="round"/>
<path d="M1174.72,204.05 Q1178.55,204.84 1182.26,205.85" stroke="#fff" stroke-width="1.63" stroke-opacity="0.73" fill="none" stroke-linecap="round"/>
<path d="M1127.6,244.17 Q1129.16,241.24 1129.45,238.43" stroke="#fff" stroke-width="1.07" stroke-opacity="0.74" fill="none" stroke-linecap="round"/>
<path d="M1113.1,256.56 Q1112.56,251.68 1110.67,247.17" stroke="#fff" stroke-width="1.22" stroke-opacity="0.69" fill="none" stroke-linecap="round"/>
<path d="M1146.86,209.9 Q1148.4,208.05 1150.05,206.44" stroke="#fff" stroke-width="1.56" stroke-opacity="0.72" fill="none" stroke-linecap="round"/>
<path d="M1171.56,259.66 Q1169.34,259.76 1167.17,260.08" stroke="#fff" stroke-width="1.29" stroke-opacity="0.73" fill="none" stroke-linecap="round"/>
<path d="M1154.36,212.45 Q1156.42,211.3 1158.5,210.23" stroke="#fff" stroke-width="1.14" stroke-opacity="0.71" fill="none" stroke-linecap="round"/>
<path d="M1136.26,277.75 Q1133.61,278.16 1132.27,276.77" stroke="#fff" stroke-width="1.2" stroke-opacity="0.48" fill="none" stroke-linecap="round"/>
<path d="M1145.67,233.87 Q1146.81,230.18 1146.47,225.76" stroke="#fff" stroke-width="1.66" stroke-opacity="0.78" fill="none" stroke-linecap="round"/>
<path d="M1114.68,217.36 Q1115.93,214.97 1117.82,212.89" stroke="#fff" stroke-width="1.56" stroke-opacity="0.82" fill="none" stroke-linecap="round"/>
<path d="M1166.65,273.48 Q1162.67,272.42 1158.69,271.51" stroke="#fff" stroke-width="1.51" stroke-opacity="0.77" fill="none" stroke-linecap="round"/>
<path d="M1196.68,248.4 Q1194.55,250.74 1192.03,252.92" stroke="#fff" stroke-width="1.18" stroke-opacity="0.8" fill="none" stroke-linecap="round"/>
<path d="M1208.86,251.02 Q1207.92,253.69 1207.22,256.44" stroke="#fff" stroke-width="1.45" stroke-opacity="0.58" fill="none" stroke-linecap="round"/>
<path d="M1148.09,248.61 Q1145.66,246.69 1144.76,244" stroke="#fff" stroke-width="1.56" stroke-opacity="0.67" fill="none" stroke-linecap="round"/>
<path d="M1151.04,194.61 Q1153.2,193.08 1155.45,192" stroke="#fff" stroke-width="1.32" stroke-opacity="0.49" fill="none" stroke-linecap="round"/>
<path d="M1142.72,254.61 Q1141.78,252.22 1141.71,249.24" stroke="#fff" stroke-width="1.27" stroke-opacity="0.49" fill="none" stroke-linecap="round"/>
<path d="M1155.02,230 Q1158.92,230.27 1162.39,229.71" stroke="#fff" stroke-width="1.28" stroke-opacity="0.82" fill="none" stroke-linecap="round"/>
<path d="M1114.74,215.8 Q1118.29,212.4 1121.9,209.04" stroke="#fff" stroke-width="0.9" stroke-opacity="0.85" fill="none" stroke-linecap="round"/>
<path d="M1189.61,283.73 Q1184.57,283.96 1179.72,284.62" stroke="#fff" stroke-width="0.94" stroke-opacity="0.58" fill="none" stroke-linecap="round"/>
<path d="M1179.64,252.31 Q1177.31,253.43 1174.42,253.94" stroke="#fff" stroke-width="0.84" stroke-opacity="0.64" fill="none" stroke-linecap="round"/>
<path d="M1193.64,209.09 Q1196.7,211.17 1200.68,212.51" stroke="#fff" stroke-width="1.56" stroke-opacity="0.71" fill="none" stroke-linecap="round"/>
<path d="M1178.98,193.64 Q1181.6,195.72 1184.79,196.53" stroke="#fff" stroke-width="1.38" stroke-opacity="0.69" fill="none" stroke-linecap="round"/>
<path d="M1146.99,184.39 Q1149.34,185.49 1151.09,184.31" stroke="#fff" stroke-width="0.89" stroke-opacity="0.53" fill="none" stroke-linecap="round"/>
<path d="M1166.79,285.52 Q1163.27,283.23 1159.76,283.57" stroke="#fff" stroke-width="0.81" stroke-opacity="0.8" fill="none" stroke-linecap="round"/>
<path d="M1140.3,270.19 Q1138.2,268.62 1135.22,268.14" stroke="#fff" stroke-width="0.89" stroke-opacity="0.86" fill="none" stroke-linecap="round"/>
<path d="M1167.94,216.05 Q1170.45,218.07 1173.89,217.6" stroke="#fff" stroke-width="1.6" stroke-opacity="0.71" fill="none" stroke-linecap="round"/>
<path d="M1174.53,201.5 Q1176.12,201.6 1176.99,203.71" stroke="#fff" stroke-width="1.08" stroke-opacity="0.85" fill="none" stroke-linecap="round"/>
<path d="M1199.99,206.84 Q1200.76,210.37 1201.55,213.89" stroke="#fff" stroke-width="1.65" stroke-opacity="0.56" fill="none" stroke-linecap="round"/>
<path d="M1148.48,270.3 Q1145.79,270.59 1144.15,268.89" stroke="#fff" stroke-width="1.24" stroke-opacity="0.81" fill="none" stroke-linecap="round"/>
<path d="M1138.33,196.51 Q1142.22,193.47 1146.28,190.77" stroke="#fff" stroke-width="0.9" stroke-opacity="0.69" fill="none" stroke-linecap="round"/>
<path d="M1200.4,215.46 Q1201.47,217.46 1203.68,218.85" stroke="#fff" stroke-width="1.01" stroke-opacity="0.47" fill="none" stroke-linecap="round"/>
<path d="M1180.08,214.18 Q1180.62,216.7 1182.7,217.33" stroke="#fff" stroke-width="1.04" stroke-opacity="0.83" fill="none" stroke-linecap="round"/>
<path d="M1111,234.33 Q1113.84,230.46 1114.66,226.27" stroke="#fff" stroke-width="1.12" stroke-opacity="0.78" fill="none" stroke-linecap="round"/>
<path d="M1158.16,200.61 Q1160.99,198.84 1163.88,198.3" stroke="#fff" stroke-width="1.03" stroke-opacity="0.85" fill="none" stroke-linecap="round"/>
<path d="M1169.56,218.35 Q1171.23,220.33 1173.62,220.75" stroke="#fff" stroke-width="1.59" stroke-opacity="0.51" fill="none" stroke-linecap="round"/>
<path d="M1132.99,279.3 Q1130.93,277.36 1129.13,275.11" stroke="#fff" stroke-width="1.08" stroke-opacity="0.63" fill="none" stroke-linecap="round"/>
<path d="M1202.29,210.44 Q1205.42,212.75 1208.22,215.25" stroke="#fff" stroke-width="1.13" stroke-opacity="0.68" fill="none" stroke-linecap="round"/>
<path d="M1134.5,200.11 Q1136.65,199.87 1138.06,198.56" stroke="#fff" stroke-width="1.16" stroke-opacity="0.86" fill="none" stroke-linecap="round"/>
<path d="M1185.28,259.83 Q1183.67,262.13 1181.43,263.7" stroke="#fff" stroke-width="1.43" stroke-opacity="0.56" fill="none" stroke-linecap="round"/>
<path d="M1202.19,214.57 Q1203.68,217.8 1207.23,220" stroke="#fff" stroke-width="1.62" stroke-opacity="0.78" fill="none" stroke-linecap="round"/>
<path d="M1121.31,213.07 Q1122.29,210.6 1122.32,207.49" stroke="#fff" stroke-width="1.37" stroke-opacity="0.53" fill="none" stroke-linecap="round"/>
<path d="M1203.9,244.41 Q1203.59,248.37 1203.67,252.43" stroke="#fff" stroke-width="1.42" stroke-opacity="0.61" fill="none" stroke-linecap="round"/>
<path d="M1195.05,206.39 Q1195.97,207.67 1196.41,209.39" stroke="#fff" stroke-width="0.84" stroke-opacity="0.56" fill="none" stroke-linecap="round"/>
<path d="M1193.54,283.37 Q1192.74,286.49 1190.53,287.32" stroke="#fff" stroke-width="1.18" stroke-opacity="0.87" fill="none" stroke-linecap="round"/>
<path d="M1188.85,270.56 Q1184.81,272.35 1180.92,274.39" stroke="#fff" stroke-width="0.85" stroke-opacity="0.76" fill="none" stroke-linecap="round"/>
<path d="M1153.57,244.24 Q1150.47,240.23 1148.92,235.96" stroke="#fff" stroke-width="0.84" stroke-opacity="0.77" fill="none" stroke-linecap="round"/>
<path d="M1198.39,201.06 Q1199.78,204.02 1200.56,207.53" stroke="#fff" stroke-width="1.29" stroke-opacity="0.56" fill="none" stroke-linecap="round"/>
<path d="M1147.04,197.32 Q1148.91,195.17 1151.17,194.21" stroke="#fff" stroke-width="1.4" stroke-opacity="0.56" fill="none" stroke-linecap="round"/>
<path d="M1126.43,243.5 Q1127.84,240.56 1128.35,237.69" stroke="#fff" stroke-width="1.07" stroke-opacity="0.85" fill="none" stroke-linecap="round"/>
<path d="M1114.39,250.09 Q1114.49,247.46 1114.88,244.78" stroke="#fff" stroke-width="1.48" stroke-opacity="0.53" fill="none" stroke-linecap="round"/>
<path d="M1184.12,250.55 Q1182.47,253.1 1179.24,254.43" stroke="#fff" stroke-width="0.9" stroke-opacity="0.58" fill="none" stroke-linecap="round"/>
<path d="M1141.21,197.52 Q1142.97,197.29 1143.93,195.44" stroke="#fff" stroke-width="1.43" stroke-opacity="0.65" fill="none" stroke-linecap="round"/>
<path d="M1154.82,220.21 Q1156.87,220.22 1157.97,217.46" stroke="#fff" stroke-width="1.69" stroke-opacity="0.79" fill="none" stroke-linecap="round"/>
<path d="M1111.17,239.73 Q1110.28,236.81 1109.64,233.89" stroke="#fff" stroke-width="0.81" stroke-opacity="0.86" fill="none" stroke-linecap="round"/>
<path d="M1182.89,254.07 Q1178.38,256.07 1174.84,259.21" stroke="#fff" stroke-width="1.02" stroke-opacity="0.51" fill="none" stroke-linecap="round"/>
<path d="M1202.79,207.42 Q1204.65,208.72 1204.81,211.21" stroke="#fff" stroke-width="1.63" stroke-opacity="0.53" fill="none" stroke-linecap="round"/>
<path d="M1190.5,211.69 Q1190.96,214 1192.24,215.61" stroke="#fff" stroke-width="1.13" stroke-opacity="0.7" fill="none" stroke-linecap="round"/>
<path d="M1146.03,285.66 Q1143.62,285.91 1141.36,285.79" stroke="#fff" stroke-width="1.37" stroke-opacity="0.82" fill="none" stroke-linecap="round"/>
<path d="M1157.79,189.44 Q1160.41,190.75 1162.89,189.53" stroke="#fff" stroke-width="1.42" stroke-opacity="0.52" fill="none" stroke-linecap="round"/>
<path d="M1149.53,196.78 Q1152.43,193.25 1155.8,191.72" stroke="#fff" stroke-width="1.57" stroke-opacity="0.8" fill="none" stroke-linecap="round"/>
<path d="M1147.31,208.81 Q1150.96,207.67 1154.44,206.09" stroke="#fff" stroke-width="1.1" stroke-opacity="0.65" fill="none" stroke-linecap="round"/>
<path d="M1185.26,282.03 Q1181.4,284.39 1178,287.89" stroke="#fff" stroke-width="1.2" stroke-opacity="0.7" fill="none" stroke-linecap="round"/>
<path d="M1139.54,195.97 Q1141.04,195.01 1142.44,193.84" stroke="#fff" stroke-width="1.67" stroke-opacity="0.86" fill="none" stroke-linecap="round"/>
<path d="M1184.66,252.11 Q1184.01,254.84 1181.24,255.86" stroke="#fff" stroke-width="1.23" stroke-opacity="0.74" fill="none" stroke-linecap="round"/>
<path d="M1133.68,220.51 Q1135.49,216.61 1135.83,211.57" stroke="#fff" stroke-width="1.41" stroke-opacity="0.65" fill="none" stroke-linecap="round"/>
</g>
<path d="M1373.9,121 C1384.45,120.77 1394.47,122.83 1404.1,126.5 C1413.73,130.17 1423.43,136.58 1431.7,143 C1439.97,149.42 1447.75,156.73 1453.7,165 C1459.65,173.27 1464.18,182.5 1467.4,192.6 C1470.62,202.7 1473,214.6 1473,225.6 C1473,236.6 1470.62,248.05 1467.4,258.6 C1464.18,269.15 1459.65,279.27 1453.7,288.9 C1447.75,298.53 1439.97,308.6 1431.7,316.4 C1423.43,324.2 1413.73,330.88 1404.1,335.7 C1394.47,340.52 1384.45,343.47 1373.9,345.3 C1363.35,347.13 1351.35,347.62 1340.8,346.7 C1330.25,345.78 1319.77,343.47 1310.6,339.8 C1301.43,336.13 1292.68,331.35 1285.8,324.7 C1278.92,318.05 1273.2,309.08 1269.3,299.9 C1265.4,290.72 1263.32,280.15 1262.4,269.6 C1261.48,259.05 1261.73,247.6 1263.8,236.6 C1265.87,225.6 1270.22,214.15 1274.8,203.6 C1279.38,193.05 1284.88,182.93 1291.3,173.3 C1297.72,163.67 1305.05,153.37 1313.3,145.8 C1321.55,138.23 1330.7,132.03 1340.8,127.9 C1350.9,123.77 1363.35,121.23 1373.9,121Z" fill="url(#gl)" stroke="#d04c9f" stroke-width="1"/>
<path d="M1373.9,121 C1384.45,120.77 1394.47,122.83 1404.1,126.5 C1413.73,130.17 1423.43,136.58 1431.7,143 C1439.97,149.42 1447.75,156.73 1453.7,165 C1459.65,173.27 1464.18,182.5 1467.4,192.6 C1470.62,202.7 1473,214.6 1473,225.6 C1473,236.6 1470.62,248.05 1467.4,258.6 C1464.18,269.15 1459.65,279.27 1453.7,288.9 C1447.75,298.53 1439.97,308.6 1431.7,316.4 C1423.43,324.2 1413.73,330.88 1404.1,335.7 C1394.47,340.52 1384.45,343.47 1373.9,345.3 C1363.35,347.13 1351.35,347.62 1340.8,346.7 C1330.25,345.78 1319.77,343.47 1310.6,339.8 C1301.43,336.13 1292.68,331.35 1285.8,324.7 C1278.92,318.05 1273.2,309.08 1269.3,299.9 C1265.4,290.72 1263.32,280.15 1262.4,269.6 C1261.48,259.05 1261.73,247.6 1263.8,236.6 C1265.87,225.6 1270.22,214.15 1274.8,203.6 C1279.38,193.05 1284.88,182.93 1291.3,173.3 C1297.72,163.67 1305.05,153.37 1313.3,145.8 C1321.55,138.23 1330.7,132.03 1340.8,127.9 C1350.9,123.77 1363.35,121.23 1373.9,121Z" fill="#fff" opacity="0.4" filter="url(#spk)"/>
<g clip-path="url(#cl)">
<path d="M1343.19,250.83 Q1340.57,252.17 1338.3,253.33" stroke="#fff" stroke-width="0.88" stroke-opacity="0.36" fill="none" stroke-linecap="round"/>
<path d="M1373.85,147.25 Q1377.84,147.55 1381.82,145.43" stroke="#fff" stroke-width="0.97" stroke-opacity="0.43" fill="none" stroke-linecap="round"/>
<path d="M1310.57,252.04 Q1309.86,250.33 1309.66,248.48" stroke="#fff" stroke-width="0.66" stroke-opacity="0.5" fill="none" stroke-linecap="round"/>
<path d="M1445.76,241.95 Q1443.11,245.04 1442.73,248.58" stroke="#fff" stroke-width="1.29" stroke-opacity="0.66" fill="none" stroke-linecap="round"/>
<path d="M1340.87,161.24 Q1344.6,158.9 1349.03,158.06" stroke="#fff" stroke-width="0.7" stroke-opacity="0.69" fill="none" stroke-linecap="round"/>
<path d="M1385.3,168.31 Q1387.53,169.32 1389.83,169.9" stroke="#fff" stroke-width="1.22" stroke-opacity="0.61" fill="none" stroke-linecap="round"/>
<path d="M1448.35,244.47 Q1445.1,247.83 1443.79,251.65" stroke="#fff" stroke-width="1.12" stroke-opacity="0.47" fill="none" stroke-linecap="round"/>
<path d="M1424.82,270.96 Q1422.94,274.33 1421.61,278.23" stroke="#fff" stroke-width="1.12" stroke-opacity="0.77" fill="none" stroke-linecap="round"/>
<path d="M1379.69,302.93 Q1377.98,302.77 1376.28,301.55" stroke="#fff" stroke-width="0.78" stroke-opacity="0.4" fill="none" stroke-linecap="round"/>
<path d="M1359.72,309.92 Q1356.87,308.79 1353.26,310.43" stroke="#fff" stroke-width="0.68" stroke-opacity="0.7" fill="none" stroke-linecap="round"/>
<path d="M1301.45,248.46 Q1301.77,246.03 1301.39,243.72" stroke="#fff" stroke-width="0.7" stroke-opacity="0.74" fill="none" stroke-linecap="round"/>
<path d="M1377.19,272.96 Q1375.87,275.17 1374.4,280.29" stroke="#fff" stroke-width="0.84" stroke-opacity="0.38" fill="none" stroke-linecap="round"/>
<path d="M1371.8,316.88 Q1368.18,317.1 1364.35,319.21" stroke="#fff" stroke-width="1.17" stroke-opacity="0.64" fill="none" stroke-linecap="round"/>
<path d="M1346.93,229.06 Q1345.39,228.41 1343.22,227.7" stroke="#fff" stroke-width="1.21" stroke-opacity="0.61" fill="none" stroke-linecap="round"/>
<path d="M1342.98,201.87 Q1344.45,201.16 1345.19,199.78" stroke="#fff" stroke-width="0.61" stroke-opacity="0.53" fill="none" stroke-linecap="round"/>
<path d="M1294.51,274.29 Q1293.11,272.44 1291.71,270.59" stroke="#fff" stroke-width="0.78" stroke-opacity="0.58" fill="none" stroke-linecap="round"/>
<path d="M1384.5,295.84 Q1380.48,295.39 1376.44,294.15" stroke="#fff" stroke-width="1.04" stroke-opacity="0.48" fill="none" stroke-linecap="round"/>
<path d="M1323.63,304.14 Q1321.36,300.92 1319.77,296.87" stroke="#fff" stroke-width="0.81" stroke-opacity="0.68" fill="none" stroke-linecap="round"/>
<path d="M1418.01,232.46 Q1418.3,235.87 1418.28,239.26" stroke="#fff" stroke-width="0.88" stroke-opacity="0.33" fill="none" stroke-linecap="round"/>
<path d="M1330.58,197.39 Q1333.72,194.2 1336.26,190.5" stroke="#fff" stroke-width="0.77" stroke-opacity="0.42" fill="none" stroke-linecap="round"/>
<path d="M1382.58,191.22 Q1382.12,189.85 1381.76,187.29" stroke="#fff" stroke-width="0.82" stroke-opacity="0.66" fill="none" stroke-linecap="round"/>
<path d="M1301.7,256.16 Q1299.25,252.22 1298.39,247.87" stroke="#fff" stroke-width="0.9" stroke-opacity="0.73" fill="none" stroke-linecap="round"/>
<path d="M1408.11,169.69 Q1410.89,170 1413.38,170.86" stroke="#fff" stroke-width="1.2" stroke-opacity="0.62" fill="none" stroke-linecap="round"/>
<path d="M1306.1,290.39 Q1304.84,285.89 1301.56,282.88" stroke="#fff" stroke-width="1.17" stroke-opacity="0.74" fill="none" stroke-linecap="round"/>
<path d="M1302.06,246.31 Q1300.77,242.36 1302,238.06" stroke="#fff" stroke-width="0.75" stroke-opacity="0.46" fill="none" stroke-linecap="round"/>
<path d="M1422.27,265.69 Q1419.84,267.15 1418.15,269.24" stroke="#fff" stroke-width="0.64" stroke-opacity="0.51" fill="none" stroke-linecap="round"/>
<path d="M1336.09,231.98 Q1332.96,232.58 1329.61,233.18" stroke="#fff" stroke-width="0.61" stroke-opacity="0.76" fill="none" stroke-linecap="round"/>
<path d="M1413.32,194.47 Q1414.14,196.05 1416.48,196.11" stroke="#fff" stroke-width="1.14" stroke-opacity="0.34" fill="none" stroke-linecap="round"/>
<path d="M1433.24,213.46 Q1433.99,216.48 1434.42,219.58" stroke="#fff" stroke-width="1.06" stroke-opacity="0.6" fill="none" stroke-linecap="round"/>
<path d="M1333.53,290.01 Q1331.58,288.87 1330.62,286.52" stroke="#fff" stroke-width="1.14" stroke-opacity="0.45" fill="none" stroke-linecap="round"/>
<path d="M1422.25,199.69 Q1426.09,202.41 1428.63,205.94" stroke="#fff" stroke-width="0.66" stroke-opacity="0.31" fill="none" stroke-linecap="round"/>
<path d="M1337.43,155.2 Q1338.83,153.57 1341.37,154.2" stroke="#fff" stroke-width="0.71" stroke-opacity="0.31" fill="none" stroke-linecap="round"/>
<path d="M1422.89,172.86 Q1426.53,175.44 1429.65,178.64" stroke="#fff" stroke-width="0.84" stroke-opacity="0.7" fill="none" stroke-linecap="round"/>
<path d="M1392.22,171.46 Q1394.42,171.77 1396.72,171.69" stroke="#fff" stroke-width="0.76" stroke-opacity="0.4" fill="none" stroke-linecap="round"/>
<path d="M1424.42,264.97 Q1421.61,265.54 1420.15,267.14" stroke="#fff" stroke-width="1" stroke-opacity="0.38" fill="none" stroke-linecap="round"/>
<path d="M1321.97,292.85 Q1319.05,290.27 1315.4,288.4" stroke="#fff" stroke-width="0.94" stroke-opacity="0.75" fill="none" stroke-linecap="round"/>
<path d="M1298.09,277.95 Q1296.22,275.21 1294.77,272.26" stroke="#fff" stroke-width="1.22" stroke-opacity="0.4" fill="none" stroke-linecap="round"/>
<path d="M1448.21,198.5 Q1447.6,202.7 1448.75,206.16" stroke="#fff" stroke-width="1.2" stroke-opacity="0.8" fill="none" stroke-linecap="round"/>
<path d="M1295.54,288.26 Q1293.7,287.42 1292.78,285.98" stroke="#fff" stroke-width="0.66" stroke-opacity="0.47" fill="none" stroke-linecap="round"/>
<path d="M1430.28,275.4 Q1428.61,276.08 1428.15,277.82" stroke="#fff" stroke-width="0.9" stroke-opacity="0.35" fill="none" stroke-linecap="round"/>
<path d="M1330.69,320.19 Q1329.59,318.34 1327.42,318.4" stroke="#fff" stroke-width="0.9" stroke-opacity="0.39" fill="none" stroke-linecap="round"/>
<path d="M1403.26,153.1 Q1406.34,155.48 1410.23,155.68" stroke="#fff" stroke-width="0.85" stroke-opacity="0.55" fill="none" stroke-linecap="round"/>
<path d="M1409.85,266.55 Q1407.68,268.85 1404.8,270.26" stroke="#fff" stroke-width="1.29" stroke-opacity="0.74" fill="none" stroke-linecap="round"/>
<path d="M1412.17,209.1 Q1414.78,210.4 1414.95,213.14" stroke="#fff" stroke-width="0.87" stroke-opacity="0.49" fill="none" stroke-linecap="round"/>
<path d="M1345.61,156.51 Q1348.63,152.98 1351.87,150.06" stroke="#fff" stroke-width="1.25" stroke-opacity="0.43" fill="none" stroke-linecap="round"/>
<path d="M1332.97,269.04 Q1329.57,267.69 1328.45,264.66" stroke="#fff" stroke-width="0.6" stroke-opacity="0.67" fill="none" stroke-linecap="round"/>
<path d="M1443.74,233.28 Q1441.35,236.08 1440.54,239" stroke="#fff" stroke-width="1.04" stroke-opacity="0.67" fill="none" stroke-linecap="round"/>
<path d="M1344.32,283.35 Q1341.99,282.01 1340.05,280.12" stroke="#fff" stroke-width="1.07" stroke-opacity="0.46" fill="none" stroke-linecap="round"/>
<path d="M1309.44,261.54 Q1309.49,259.22 1309.4,256.95" stroke="#fff" stroke-width="1.11" stroke-opacity="0.56" fill="none" stroke-linecap="round"/>
<path d="M1375.64,304.06 Q1373.43,305.54 1371.33,305.08" stroke="#fff" stroke-width="0.92" stroke-opacity="0.62" fill="none" stroke-linecap="round"/>
<path d="M1346.63,309.17 Q1343.13,307.87 1338.76,308.45" stroke="#fff" stroke-width="0.78" stroke-opacity="0.35" fill="none" stroke-linecap="round"/>
<path d="M1340.23,303.7 Q1338.13,301.21 1334.79,300.87" stroke="#fff" stroke-width="0.88" stroke-opacity="0.8" fill="none" stroke-linecap="round"/>
<path d="M1405.85,222.68 Q1409.51,222.18 1411.69,222.14" stroke="#fff" stroke-width="0.7" stroke-opacity="0.64" fill="none" stroke-linecap="round"/>
<path d="M1341.81,237.95 Q1340.15,238.44 1337.54,239.09" stroke="#fff" stroke-width="0.87" stroke-opacity="0.31" fill="none" stroke-linecap="round"/>
<path d="M1305.54,251.22 Q1304.06,249.93 1303.86,248.33" stroke="#fff" stroke-width="0.79" stroke-opacity="0.46" fill="none" stroke-linecap="round"/>
<path d="M1314.54,310.56 Q1312.64,310.09 1312.12,307.97" stroke="#fff" stroke-width="0.74" stroke-opacity="0.51" fill="none" stroke-linecap="round"/>
<path d="M1429.51,257.85 Q1429.11,260.37 1429.01,263.05" stroke="#fff" stroke-width="0.86" stroke-opacity="0.66" fill="none" stroke-linecap="round"/>
<path d="M1322.58,215.87 Q1325,213.22 1326.58,210.27" stroke="#fff" stroke-width="0.87" stroke-opacity="0.59" fill="none" stroke-linecap="round"/>
<path d="M1341.92,268.99 Q1340.29,271.78 1339.72,273.46" stroke="#fff" stroke-width="0.87" stroke-opacity="0.56" fill="none" stroke-linecap="round"/>
<path d="M1362.42,311.05 Q1359.47,311.63 1357.05,309.93" stroke="#fff" stroke-width="0.91" stroke-opacity="0.55" fill="none" stroke-linecap="round"/>
<path d="M1373.52,308.23 Q1370.21,306.83 1366.85,306.02" stroke="#fff" stroke-width="0.63" stroke-opacity="0.64" fill="none" stroke-linecap="round"/>
<path d="M1382.61,293.27 Q1379.03,293.78 1375.48,295.96" stroke="#fff" stroke-width="0.65" stroke-opacity="0.71" fill="none" stroke-linecap="round"/>
<path d="M1410.49,229.84 Q1411.9,229.98 1413.81,230.09" stroke="#fff" stroke-width="1.01" stroke-opacity="0.8" fill="none" stroke-linecap="round"/>
<path d="M1315.86,193.04 Q1317.51,191.56 1319.44,190.27" stroke="#fff" stroke-width="0.96" stroke-opacity="0.51" fill="none" stroke-linecap="round"/>
<path d="M1380.7,196.25 Q1381.32,194.65 1382.05,191.81" stroke="#fff" stroke-width="1.1" stroke-opacity="0.7" fill="none" stroke-linecap="round"/>
<path d="M1383.53,302.08 Q1380.58,302.24 1377.59,301.36" stroke="#fff" stroke-width="0.81" stroke-opacity="0.41" fill="none" stroke-linecap="round"/>
<path d="M1351.55,268.35 Q1349.4,270.16 1347.92,271.07" stroke="#fff" stroke-width="0.71" stroke-opacity="0.33" fill="none" stroke-linecap="round"/>
<path d="M1437.32,185.41 Q1438.05,187.6 1439.66,189.13" stroke="#fff" stroke-width="0.99" stroke-opacity="0.38" fill="none" stroke-linecap="round"/>
<path d="M1344.05,264.19 Q1343.31,264.79 1340.8,267.06" stroke="#fff" stroke-width="0.93" stroke-opacity="0.66" fill="none" stroke-linecap="round"/>
<path d="M1354.21,272.9 Q1353.51,273.25 1351.65,275.56" stroke="#fff" stroke-width="1.25" stroke-opacity="0.8" fill="none" stroke-linecap="round"/>
<path d="M1321.72,202.76 Q1322.53,198.87 1325.55,196.31" stroke="#fff" stroke-width="0.67" stroke-opacity="0.54" fill="none" stroke-linecap="round"/>
<path d="M1444.28,252.8 Q1443.34,255.55 1444.43,259.04" stroke="#fff" stroke-width="0.79" stroke-opacity="0.75" fill="none" stroke-linecap="round"/>
<path d="M1331.63,224.52 Q1333.5,222.68 1333.48,220.44" stroke="#fff" stroke-width="1.15" stroke-opacity="0.45" fill="none" stroke-linecap="round"/>
<path d="M1428.4,252.54 Q1428.39,255.44 1428.3,258.31" stroke="#fff" stroke-width="0.67" stroke-opacity="0.62" fill="none" stroke-linecap="round"/>
<path d="M1291.02,253.87 Q1289.71,251.56 1289.36,249.03" stroke="#fff" stroke-width="0.71" stroke-opacity="0.38" fill="none" stroke-linecap="round"/>
<path d="M1361.78,154.36 Q1363.75,155.77 1365.3,154.92" stroke="#fff" stroke-width="0.95" stroke-opacity="0.57" fill="none" stroke-linecap="round"/>
<path d="M1297.66,244.79 Q1297.84,241.75 1296.22,238.92" stroke="#fff" stroke-width="0.88" stroke-opacity="0.4" fill="none" stroke-linecap="round"/>
<path d="M1444.31,230.42 Q1447.27,234.3 1447.58,238.09" stroke="#fff" stroke-width="0.94" stroke-opacity="0.7" fill="none" stroke-linecap="round"/>
<path d="M1382.69,274.32 Q1382.42,275.46 1382.37,278.68" stroke="#fff" stroke-width="0.78" stroke-opacity="0.32" fill="none" stroke-linecap="round"/>
<path d="M1347.59,238.16 Q1346.45,237.72 1342.86,237.72" stroke="#fff" stroke-width="1" stroke-opacity="0.42" fill="none" stroke-linecap="round"/>
<path d="M1390.88,296.08 Q1387.66,297.2 1384.66,299.82" stroke="#fff" stroke-width="1.02" stroke-opacity="0.79" fill="none" stroke-linecap="round"/>
<path d="M1410.61,304.58 Q1408.06,304.76 1405.59,305.15" stroke="#fff" stroke-width="1.24" stroke-opacity="0.31" fill="none" stroke-linecap="round"/>
<path d="M1316.98,288.46 Q1314.32,286.31 1310.95,284.76" stroke="#fff" stroke-width="0.7" stroke-opacity="0.4" fill="none" stroke-linecap="round"/>
<path d="M1305.11,198.37 Q1307.88,195.31 1312.21,193.07" stroke="#fff" stroke-width="0.94" stroke-opacity="0.55" fill="none" stroke-linecap="round"/>
<path d="M1422.11,263.12 Q1421.48,265.26 1419.2,266.14" stroke="#fff" stroke-width="1.15" stroke-opacity="0.35" fill="none" stroke-linecap="round"/>
<path d="M1412.87,197.93 Q1413.88,199.47 1414.11,201.7" stroke="#fff" stroke-width="1.12" stroke-opacity="0.37" fill="none" stroke-linecap="round"/>
<path d="M1317.49,311.08 Q1315.55,310.12 1313.45,309.36" stroke="#fff" stroke-width="0.77" stroke-opacity="0.55" fill="none" stroke-linecap="round"/>
<path d="M1408.43,210.9 Q1412.47,209.17 1415.59,208.05" stroke="#fff" stroke-width="1.26" stroke-opacity="0.71" fill="none" stroke-linecap="round"/>
<path d="M1402.29,309.27 Q1400.08,310.71 1397.34,310.21" stroke="#fff" stroke-width="1.16" stroke-opacity="0.3" fill="none" stroke-linecap="round"/>
<path d="M1305.38,204.33 Q1307.97,201.09 1309.41,197.34" stroke="#fff" stroke-width="0.66" stroke-opacity="0.44" fill="none" stroke-linecap="round"/>
<path d="M1406.61,221.19 Q1408.99,221.14 1413.52,220.34" stroke="#fff" stroke-width="1.08" stroke-opacity="0.32" fill="none" stroke-linecap="round"/>
<path d="M1335.01,173.52 Q1338.07,170.61 1342.42,169.69" stroke="#fff" stroke-width="0.88" stroke-opacity="0.55" fill="none" stroke-linecap="round"/>
<path d="M1360.36,303.99 Q1358.45,302.53 1355.9,303.37" stroke="#fff" stroke-width="0.99" stroke-opacity="0.73" fill="none" stroke-linecap="round"/>
<path d="M1400.1,261.5 Q1401.96,264.05 1403.18,265.75" stroke="#fff" stroke-width="1.24" stroke-opacity="0.55" fill="none" stroke-linecap="round"/>
<path d="M1360.24,292.72 Q1356.44,291.22 1353.15,288.32" stroke="#fff" stroke-width="0.62" stroke-opacity="0.46" fill="none" stroke-linecap="round"/>
<path d="M1421.66,264.36 Q1419.31,265.39 1417.94,267.21" stroke="#fff" stroke-width="0.98" stroke-opacity="0.51" fill="none" stroke-linecap="round"/>
<path d="M1434.24,272.43 Q1432.41,274.07 1429.59,274.94" stroke="#fff" stroke-width="1.08" stroke-opacity="0.44" fill="none" stroke-linecap="round"/>
<path d="M1296.34,254.79 Q1296.94,250.71 1296.64,246.84" stroke="#fff" stroke-width="0.7" stroke-opacity="0.56" fill="none" stroke-linecap="round"/>
<path d="M1415.47,159.28 Q1417.6,160.05 1420.32,159.77" stroke="#fff" stroke-width="0.87" stroke-opacity="0.78" fill="none" stroke-linecap="round"/>
<path d="M1303.6,196.22 Q1304.6,193.76 1304.32,190.64" stroke="#fff" stroke-width="0.88" stroke-opacity="0.49" fill="none" stroke-linecap="round"/>
<path d="M1360.2,311.6 Q1357.36,309.4 1354.25,308.27" stroke="#fff" stroke-width="0.71" stroke-opacity="0.68" fill="none" stroke-linecap="round"/>
<path d="M1405.63,289.68 Q1404.13,292.02 1401.63,292.05" stroke="#fff" stroke-width="0.97" stroke-opacity="0.44" fill="none" stroke-linecap="round"/>
<path d="M1391.32,179.99 Q1395.42,178.69 1398.92,179.25" stroke="#fff" stroke-width="1" stroke-opacity="0.48" fill="none" stroke-linecap="round"/>
<path d="M1381.45,290.85 Q1377.92,292.04 1374.4,291.39" stroke="#fff" stroke-width="0.68" stroke-opacity="0.45" fill="none" stroke-linecap="round"/>
<path d="M1399.31,275.45 Q1396.39,278.42 1392.5,278.93" stroke="#fff" stroke-width="1.12" stroke-opacity="0.47" fill="none" stroke-linecap="round"/>
<path d="M1347.59,303.24 Q1344.61,303.86 1342.56,302.47" stroke="#fff" stroke-width="0.97" stroke-opacity="0.56" fill="none" stroke-linecap="round"/>
<path d="M1371.59,313.95 Q1368.18,312.99 1364.71,312.62" stroke="#fff" stroke-width="1" stroke-opacity="0.44" fill="none" stroke-linecap="round"/>
<path d="M1406.83,291.05 Q1404.31,292.3 1400.83,291.36" stroke="#fff" stroke-width="1.12" stroke-opacity="0.71" fill="none" stroke-linecap="round"/>
<path d="M1291.45,283.25 Q1290.64,279.59 1288.65,276.59" stroke="#fff" stroke-width="0.65" stroke-opacity="0.6" fill="none" stroke-linecap="round"/>
<path d="M1434.24,181.38 Q1435.06,183.41 1437.73,183.86" stroke="#fff" stroke-width="1.07" stroke-opacity="0.79" fill="none" stroke-linecap="round"/>
<path d="M1428.52,199.94 Q1432.21,201.69 1434.13,204.44" stroke="#fff" stroke-width="0.83" stroke-opacity="0.3" fill="none" stroke-linecap="round"/>
<path d="M1392.63,152.75 Q1394.88,152.48 1397.2,151.88" stroke="#fff" stroke-width="0.99" stroke-opacity="0.7" fill="none" stroke-linecap="round"/>
<path d="M1393.75,199.94 Q1394.59,198.52 1396.17,195.58" stroke="#fff" stroke-width="1.16" stroke-opacity="0.4" fill="none" stroke-linecap="round"/>
<path d="M1416.35,250.68 Q1415.22,253.15 1413.63,255.35" stroke="#fff" stroke-width="0.76" stroke-opacity="0.73" fill="none" stroke-linecap="round"/>
<path d="M1360.18,151.24 Q1362.93,150.57 1365.9,151.13" stroke="#fff" stroke-width="0.92" stroke-opacity="0.47" fill="none" stroke-linecap="round"/>
<path d="M1302.43,214.28 Q1301.71,211.75 1302.36,209.58" stroke="#fff" stroke-width="0.96" stroke-opacity="0.52" fill="none" stroke-linecap="round"/>
<path d="M1305.51,281.31 Q1303.88,279.93 1302.56,278.35" stroke="#fff" stroke-width="1.09" stroke-opacity="0.79" fill="none" stroke-linecap="round"/>
<path d="M1392.55,180.49 Q1395.24,180.16 1397.68,180.58" stroke="#fff" stroke-width="1.29" stroke-opacity="0.45" fill="none" stroke-linecap="round"/>
<path d="M1430.95,222.13 Q1430.8,223.86 1432.7,225.29" stroke="#fff" stroke-width="1.14" stroke-opacity="0.54" fill="none" stroke-linecap="round"/>
<path d="M1428.22,224.84 Q1428.6,228.57 1431.33,232.14" stroke="#fff" stroke-width="0.99" stroke-opacity="0.55" fill="none" stroke-linecap="round"/>
<path d="M1415.66,203.89 Q1415.72,208.29 1417.63,211.51" stroke="#fff" stroke-width="0.61" stroke-opacity="0.41" fill="none" stroke-linecap="round"/>
<path d="M1428.3,224.07 Q1428.04,225.65 1427.58,227.25" stroke="#fff" stroke-width="0.65" stroke-opacity="0.46" fill="none" stroke-linecap="round"/>
<path d="M1398.48,278.64 Q1396.66,281.2 1394.36,282.49" stroke="#fff" stroke-width="0.64" stroke-opacity="0.54" fill="none" stroke-linecap="round"/>
<path d="M1348.34,269.63 Q1346.41,273.23 1345.03,276.12" stroke="#fff" stroke-width="1.08" stroke-opacity="0.54" fill="none" stroke-linecap="round"/>
<path d="M1308.35,212.7 Q1310.19,209.42 1312.79,206.38" stroke="#fff" stroke-width="1.12" stroke-opacity="0.32" fill="none" stroke-linecap="round"/>
<path d="M1408.05,162.59 Q1411.94,163.16 1415.8,163.8" stroke="#fff" stroke-width="0.67" stroke-opacity="0.69" fill="none" stroke-linecap="round"/>
<path d="M1382.47,306.64 Q1379.48,306.66 1376.48,306.11" stroke="#fff" stroke-width="1.16" stroke-opacity="0.34" fill="none" stroke-linecap="round"/>
<path d="M1322.82,211.85 Q1325.01,211.12 1324.53,209.33" stroke="#fff" stroke-width="1.18" stroke-opacity="0.71" fill="none" stroke-linecap="round"/>
<path d="M1355.81,150.19 Q1358.9,148.78 1361.9,146.95" stroke="#fff" stroke-width="0.68" stroke-opacity="0.79" fill="none" stroke-linecap="round"/>
<path d="M1327.51,294.47 Q1325.22,294.17 1324.8,291.68" stroke="#fff" stroke-width="1.14" stroke-opacity="0.3" fill="none" stroke-linecap="round"/>
<path d="M1405.78,254.31 Q1408.02,255.97 1410.68,257.98" stroke="#fff" stroke-width="1.03" stroke-opacity="0.62" fill="none" stroke-linecap="round"/>
<path d="M1439.42,214.6 Q1442.7,217.94 1443.4,221.85" stroke="#fff" stroke-width="0.91" stroke-opacity="0.65" fill="none" stroke-linecap="round"/>
<path d="M1314.51,191.13 Q1316.61,189.52 1316.71,186.54" stroke="#fff" stroke-width="0.91" stroke-opacity="0.79" fill="none" stroke-linecap="round"/>
<path d="M1319.27,179.96 Q1320.73,177.92 1321.02,174.77" stroke="#fff" stroke-width="1.22" stroke-opacity="0.76" fill="none" stroke-linecap="round"/>
<path d="M1333.74,298.07 Q1331.1,295.59 1329.52,291.69" stroke="#fff" stroke-width="0.97" stroke-opacity="0.35" fill="none" stroke-linecap="round"/>
<path d="M1434,189.26 Q1436.33,191.73 1438.48,194.33" stroke="#fff" stroke-width="1.28" stroke-opacity="0.38" fill="none" stroke-linecap="round"/>
<path d="M1298.39,223.23 Q1298.79,219.74 1300.66,216.48" stroke="#fff" stroke-width="1.13" stroke-opacity="0.42" fill="none" stroke-linecap="round"/>
<path d="M1406.46,166.5 Q1408.14,167.83 1409.45,169.94" stroke="#fff" stroke-width="1.01" stroke-opacity="0.63" fill="none" stroke-linecap="round"/>
<path d="M1390.28,276.45 Q1388.02,276.58 1386.34,279.23" stroke="#fff" stroke-width="0.61" stroke-opacity="0.48" fill="none" stroke-linecap="round"/>
<path d="M1403.5,181.8 Q1406.58,183.75 1410.89,183.64" stroke="#fff" stroke-width="0.81" stroke-opacity="0.5" fill="none" stroke-linecap="round"/>
<path d="M1404.63,223.58 Q1408.83,220.98 1410.6,219.26" stroke="#fff" stroke-width="0.84" stroke-opacity="0.72" fill="none" stroke-linecap="round"/>
<path d="M1431.96,270.1 Q1430.74,271.82 1431.01,274.67" stroke="#fff" stroke-width="1.23" stroke-opacity="0.38" fill="none" stroke-linecap="round"/>
<path d="M1399.72,161.84 Q1402.12,160.39 1403.58,161.69" stroke="#fff" stroke-width="0.87" stroke-opacity="0.63" fill="none" stroke-linecap="round"/>
<path d="M1380.78,171.99 Q1382.44,170.33 1383.94,170.78" stroke="#fff" stroke-width="0.69" stroke-opacity="0.78" fill="none" stroke-linecap="round"/>
<path d="M1340.17,285.6 Q1339.43,283.5 1337.79,282.6" stroke="#fff" stroke-width="0.86" stroke-opacity="0.56" fill="none" stroke-linecap="round"/>
<path d="M1428.78,183.06 Q1429.41,185.94 1431.28,187.72" stroke="#fff" stroke-width="0.74" stroke-opacity="0.41" fill="none" stroke-linecap="round"/>
<path d="M1341.2,206.16 Q1342.45,202.75 1345.42,200.76" stroke="#fff" stroke-width="0.64" stroke-opacity="0.63" fill="none" stroke-linecap="round"/>
<path d="M1353.54,148.35 Q1355.14,147.79 1356.7,147.05" stroke="#fff" stroke-width="1.26" stroke-opacity="0.58" fill="none" stroke-linecap="round"/>
<path d="M1307.55,272.36 Q1304.36,271.31 1303.73,268.89" stroke="#fff" stroke-width="0.94" stroke-opacity="0.39" fill="none" stroke-linecap="round"/>
<path d="M1372.53,173.68 Q1375.5,173.38 1378.51,173.99" stroke="#fff" stroke-width="0.7" stroke-opacity="0.7" fill="none" stroke-linecap="round"/>
<path d="M1440.26,200.76 Q1442.2,204.32 1445.64,207.23" stroke="#fff" stroke-width="1.02" stroke-opacity="0.75" fill="none" stroke-linecap="round"/>
<path d="M1421.68,248.62 Q1420.61,252.89 1418.57,256.68" stroke="#fff" stroke-width="0.61" stroke-opacity="0.77" fill="none" stroke-linecap="round"/>
<path d="M1310.16,231.4 Q1311.51,228.67 1312.82,225.94" stroke="#fff" stroke-width="1.29" stroke-opacity="0.61" fill="none" stroke-linecap="round"/>
<path d="M1354.66,174.07 Q1358.64,172.34 1362.46,170.07" stroke="#fff" stroke-width="0.84" stroke-opacity="0.63" fill="none" stroke-linecap="round"/>
<path d="M1315.68,226.52 Q1317.78,223.65 1317.73,220.49" stroke="#fff" stroke-width="0.77" stroke-opacity="0.36" fill="none" stroke-linecap="round"/>
<path d="M1290.41,241.99 Q1292.59,238.76 1292.13,235.73" stroke="#fff" stroke-width="0.76" stroke-opacity="0.38" fill="none" stroke-linecap="round"/>
<path d="M1351.31,323.59 Q1348.09,322.81 1345.73,319.42" stroke="#fff" stroke-width="0.79" stroke-opacity="0.77" fill="none" stroke-linecap="round"/>
<path d="M1445.96,212.74 Q1446.61,215.6 1445.47,218.89" stroke="#fff" stroke-width="1.06" stroke-opacity="0.56" fill="none" stroke-linecap="round"/>
<path d="M1378.98,162.52 Q1382.46,162.76 1386.04,161.42" stroke="#fff" stroke-width="0.86" stroke-opacity="0.56" fill="none" stroke-linecap="round"/>
<path d="M1420.59,259.84 Q1419.24,262.43 1416.44,263.94" stroke="#fff" stroke-width="0.61" stroke-opacity="0.54" fill="none" stroke-linecap="round"/>
<path d="M1407.59,278.59 Q1405.84,282.25 1402.76,283.5" stroke="#fff" stroke-width="1.15" stroke-opacity="0.42" fill="none" stroke-linecap="round"/>
<path d="M1303.5,216.92 Q1306.8,213.54 1308.55,209.75" stroke="#fff" stroke-width="1.11" stroke-opacity="0.48" fill="none" stroke-linecap="round"/>
<path d="M1403.63,292.99 Q1401.79,293.29 1400.57,295.18" stroke="#fff" stroke-width="0.79" stroke-opacity="0.32" fill="none" stroke-linecap="round"/>
<path d="M1408.87,220.42 Q1409.4,220.19 1412.64,218.94" stroke="#fff" stroke-width="1.07" stroke-opacity="0.38" fill="none" stroke-linecap="round"/>
<path d="M1396.83,260.7 Q1397.15,263.45 1398.41,267.75" stroke="#fff" stroke-width="1.14" stroke-opacity="0.45" fill="none" stroke-linecap="round"/>
<path d="M1318.03,309.22 Q1315.55,307.3 1314.5,303.64" stroke="#fff" stroke-width="1.01" stroke-opacity="0.4" fill="none" stroke-linecap="round"/>
<path d="M1413.54,182.15 Q1414.63,183.27 1416.89,182.83" stroke="#fff" stroke-width="1.09" stroke-opacity="0.3" fill="none" stroke-linecap="round"/>
<path d="M1406.27,177.71 Q1408.86,180.75 1411.95,182.98" stroke="#fff" stroke-width="0.94" stroke-opacity="0.39" fill="none" stroke-linecap="round"/>
<path d="M1410.72,169.96 Q1412.78,173.82 1416.08,175.6" stroke="#fff" stroke-width="1.01" stroke-opacity="0.4" fill="none" stroke-linecap="round"/>
<path d="M1414.45,300.01 Q1410.93,301.36 1408.46,304.92" stroke="#fff" stroke-width="1.06" stroke-opacity="0.58" fill="none" stroke-linecap="round"/>
<path d="M1381.71,145.87 Q1385.01,146.07 1388.44,144.84" stroke="#fff" stroke-width="0.9" stroke-opacity="0.57" fill="none" stroke-linecap="round"/>
<path d="M1413.09,169.4 Q1415.25,170.38 1416.81,172.35" stroke="#fff" stroke-width="1.03" stroke-opacity="0.75" fill="none" stroke-linecap="round"/>
<path d="M1304.48,194.56 Q1306.39,191.73 1306.52,187.89" stroke="#fff" stroke-width="0.76" stroke-opacity="0.69" fill="none" stroke-linecap="round"/>
<path d="M1326.65,195.73 Q1327.36,192 1328.59,188.67" stroke="#fff" stroke-width="0.66" stroke-opacity="0.32" fill="none" stroke-linecap="round"/>
<path d="M1366.43,154.1 Q1370.6,155.25 1374.76,156.17" stroke="#fff" stroke-width="0.74" stroke-opacity="0.36" fill="none" stroke-linecap="round"/>
<path d="M1340.72,285.1 Q1339.54,281.74 1336.91,280.24" stroke="#fff" stroke-width="0.65" stroke-opacity="0.49" fill="none" stroke-linecap="round"/>
<path d="M1400.91,170.19 Q1403.44,170.49 1405.48,171.97" stroke="#fff" stroke-width="1.14" stroke-opacity="0.49" fill="none" stroke-linecap="round"/>
<path d="M1395.39,182.72 Q1396.95,182.73 1397.63,185.03" stroke="#fff" stroke-width="0.69" stroke-opacity="0.53" fill="none" stroke-linecap="round"/>
<path d="M1391.39,187.8 Q1393.1,187.94 1394.28,189.6" stroke="#fff" stroke-width="0.91" stroke-opacity="0.34" fill="none" stroke-linecap="round"/>
<path d="M1324.84,295.01 Q1323.91,293.35 1321.28,293.63" stroke="#fff" stroke-width="0.71" stroke-opacity="0.57" fill="none" stroke-linecap="round"/>
<path d="M1300.99,295.57 Q1299.87,292.96 1296.97,291.73" stroke="#fff" stroke-width="0.77" stroke-opacity="0.79" fill="none" stroke-linecap="round"/>
<path d="M1452.99,223.34 Q1452.2,227.74 1452.68,232.07" stroke="#fff" stroke-width="0.93" stroke-opacity="0.66" fill="none" stroke-linecap="round"/>
<path d="M1332.04,178.42 Q1332.84,175.81 1335.49,175.49" stroke="#fff" stroke-width="0.7" stroke-opacity="0.73" fill="none" stroke-linecap="round"/>
<path d="M1417.82,196.61 Q1419.99,197.49 1420.67,199.59" stroke="#fff" stroke-width="1.2" stroke-opacity="0.59" fill="none" stroke-linecap="round"/>
<path d="M1317.61,206.07 Q1318.74,203.73 1319.22,201.07" stroke="#fff" stroke-width="0.68" stroke-opacity="0.41" fill="none" stroke-linecap="round"/>
<path d="M1419,172.73 Q1422.43,174.99 1424.05,179.58" stroke="#fff" stroke-width="1.11" stroke-opacity="0.68" fill="none" stroke-linecap="round"/>
<path d="M1430.96,175.93 Q1434.35,177.44 1436.29,180.37" stroke="#fff" stroke-width="0.69" stroke-opacity="0.57" fill="none" stroke-linecap="round"/>
<path d="M1334.92,308.12 Q1332.71,307.11 1331.58,304.3" stroke="#fff" stroke-width="1.22" stroke-opacity="0.37" fill="none" stroke-linecap="round"/>
<path d="M1406.53,267.76 Q1405.05,268.37 1403.39,268.76" stroke="#fff" stroke-width="0.92" stroke-opacity="0.47" fill="none" stroke-linecap="round"/>
<path d="M1332.88,178.61 Q1334.99,178.39 1335.31,175.95" stroke="#fff" stroke-width="1.16" stroke-opacity="0.41" fill="none" stroke-linecap="round"/>
<path d="M1415.89,164.51 Q1418.95,165.01 1421.06,167.07" stroke="#fff" stroke-width="1.27" stroke-opacity="0.45" fill="none" stroke-linecap="round"/>
<path d="M1414.14,188.27 Q1416.11,192.17 1419.71,194.35" stroke="#fff" stroke-width="1.01" stroke-opacity="0.71" fill="none" stroke-linecap="round"/>
<path d="M1353.59,319.88 Q1350.22,319.33 1346.6,319.56" stroke="#fff" stroke-width="0.85" stroke-opacity="0.78" fill="none" stroke-linecap="round"/>
<path d="M1411.84,218.53 Q1414.39,217.54 1415.16,217.27" stroke="#fff" stroke-width="1.15" stroke-opacity="0.48" fill="none" stroke-linecap="round"/>
<path d="M1312.39,291.39 Q1308.34,289.84 1306.06,286.82" stroke="#fff" stroke-width="1.29" stroke-opacity="0.52" fill="none" stroke-linecap="round"/>
<path d="M1346.57,282.71 Q1342.9,280.73 1338.53,279.72" stroke="#fff" stroke-width="0.83" stroke-opacity="0.67" fill="none" stroke-linecap="round"/>
<path d="M1301.77,247.43 Q1302.8,244.26 1301.71,241.43" stroke="#fff" stroke-width="1.27" stroke-opacity="0.8" fill="none" stroke-linecap="round"/>
<path d="M1382.51,301.15 Q1380.57,300.63 1378.63,299.81" stroke="#fff" stroke-width="1.13" stroke-opacity="0.73" fill="none" stroke-linecap="round"/>
<path d="M1377.09,152.42 Q1380.32,153.66 1383.57,154.44" stroke="#fff" stroke-width="1.02" stroke-opacity="0.43" fill="none" stroke-linecap="round"/>
<path d="M1319.79,218.8 Q1321.71,216.19 1321.27,212.91" stroke="#fff" stroke-width="0.6" stroke-opacity="0.47" fill="none" stroke-linecap="round"/>
<path d="M1414.97,288.37 Q1413.41,289.95 1411.79,291.44" stroke="#fff" stroke-width="0.72" stroke-opacity="0.6" fill="none" stroke-linecap="round"/>
<path d="M1389.45,283.84 Q1385.8,284.31 1381.96,283.52" stroke="#fff" stroke-width="0.79" stroke-opacity="0.72" fill="none" stroke-linecap="round"/>
<path d="M1431.37,272.4 Q1430.54,274.2 1429.07,275.49" stroke="#fff" stroke-width="1.3" stroke-opacity="0.47" fill="none" stroke-linecap="round"/>
<path d="M1421.9,175.54 Q1423.67,176.53 1425.79,177.11" stroke="#fff" stroke-width="1.03" stroke-opacity="0.45" fill="none" stroke-linecap="round"/>
<path d="M1329.06,236.92 Q1329.09,234.87 1328.75,232.83" stroke="#fff" stroke-width="1.28" stroke-opacity="0.54" fill="none" stroke-linecap="round"/>
<path d="M1305.17,256.21 Q1305.31,254.23 1303.01,253" stroke="#fff" stroke-width="1.09" stroke-opacity="0.78" fill="none" stroke-linecap="round"/>
<path d="M1349.5,202.68 Q1346.95,200.51 1345.21,199.15" stroke="#fff" stroke-width="0.87" stroke-opacity="0.38" fill="none" stroke-linecap="round"/>
<path d="M1445.27,248.96 Q1445.09,250.41 1443.59,251.5" stroke="#fff" stroke-width="0.85" stroke-opacity="0.61" fill="none" stroke-linecap="round"/>
<path d="M1386.93,271.35 Q1386.69,274 1386.39,276.36" stroke="#fff" stroke-width="0.88" stroke-opacity="0.39" fill="none" stroke-linecap="round"/>
<path d="M1330.66,232.23 Q1329.29,229.18 1330.27,226.27" stroke="#fff" stroke-width="0.84" stroke-opacity="0.57" fill="none" stroke-linecap="round"/>
<path d="M1346.54,255.64 Q1344.23,258.25 1341.32,261.33" stroke="#fff" stroke-width="0.87" stroke-opacity="0.48" fill="none" stroke-linecap="round"/>
<path d="M1319.49,199.85 Q1320,195.71 1321.48,192.18" stroke="#fff" stroke-width="0.62" stroke-opacity="0.4" fill="none" stroke-linecap="round"/>
<path d="M1420.96,282.51 Q1416.95,283.66 1412.75,284.56" stroke="#fff" stroke-width="1.25" stroke-opacity="0.34" fill="none" stroke-linecap="round"/>
<path d="M1305.84,292.79 Q1304,289.09 1300.22,286.88" stroke="#fff" stroke-width="1.21" stroke-opacity="0.68" fill="none" stroke-linecap="round"/>
<path d="M1412.36,261.56 Q1410.86,262.56 1410.77,264.87" stroke="#fff" stroke-width="1.03" stroke-opacity="0.64" fill="none" stroke-linecap="round"/>
<path d="M1342.54,178.45 Q1343.94,176.91 1346.9,177.9" stroke="#fff" stroke-width="1.09" stroke-opacity="0.39" fill="none" stroke-linecap="round"/>
<path d="M1337.64,288.42 Q1336,287.81 1335.01,286.34" stroke="#fff" stroke-width="0.62" stroke-opacity="0.52" fill="none" stroke-linecap="round"/>
<path d="M1430.8,248.75 Q1429.25,251.04 1427.13,253.12" stroke="#fff" stroke-width="0.84" stroke-opacity="0.5" fill="none" stroke-linecap="round"/>
<path d="M1344.03,278.1 Q1342.6,277.56 1342.22,275.67" stroke="#fff" stroke-width="0.96" stroke-opacity="0.3" fill="none" stroke-linecap="round"/>
<path d="M1429.58,211.07 Q1431.13,214.25 1431.38,217.85" stroke="#fff" stroke-width="0.89" stroke-opacity="0.78" fill="none" stroke-linecap="round"/>
<path d="M1391.5,194.99 Q1392.36,191.26 1392.42,189.81" stroke="#fff" stroke-width="1.15" stroke-opacity="0.69" fill="none" stroke-linecap="round"/>
<path d="M1403.86,191.27 Q1407.49,192.57 1410.73,194.4" stroke="#fff" stroke-width="0.71" stroke-opacity="0.73" fill="none" stroke-linecap="round"/>
<path d="M1444.51,217.3 Q1446.57,220.6 1447.27,224.13" stroke="#fff" stroke-width="1.05" stroke-opacity="0.35" fill="none" stroke-linecap="round"/>
<path d="M1308.89,270.61 Q1306.46,269.26 1306.26,266.75" stroke="#fff" stroke-width="1.26" stroke-opacity="0.8" fill="none" stroke-linecap="round"/>
<path d="M1360.66,317.51 Q1358.5,315.83 1356.3,314.31" stroke="#fff" stroke-width="0.68" stroke-opacity="0.67" fill="none" stroke-linecap="round"/>
<path d="M1292.95,276.03 Q1292.81,274.43 1292.88,272.71" stroke="#fff" stroke-width="1.12" stroke-opacity="0.37" fill="none" stroke-linecap="round"/>
<path d="M1316.09,305.95 Q1315.67,303.99 1313.63,303.91" stroke="#fff" stroke-width="1.2" stroke-opacity="0.75" fill="none" stroke-linecap="round"/>
<path d="M1412.32,196.17 Q1415.14,199.19 1419.59,200.76" stroke="#fff" stroke-width="1.17" stroke-opacity="0.36" fill="none" stroke-linecap="round"/>
<path d="M1302.36,236.26 Q1300.27,233.91 1300.75,231.51" stroke="#fff" stroke-width="0.93" stroke-opacity="0.69" fill="none" stroke-linecap="round"/>
<path d="M1427.25,261.47 Q1424.67,263.28 1422.36,265.28" stroke="#fff" stroke-width="0.67" stroke-opacity="0.76" fill="none" stroke-linecap="round"/>
<path d="M1433.62,271.53 Q1431.97,274.86 1430.5,278.32" stroke="#fff" stroke-width="1.18" stroke-opacity="0.78" fill="none" stroke-linecap="round"/>
<path d="M1345.98,159.64 Q1347.73,158.88 1349.47,158.08" stroke="#fff" stroke-width="0.79" stroke-opacity="0.48" fill="none" stroke-linecap="round"/>
<path d="M1382.18,291.92 Q1379.1,294.11 1375.98,293.99" stroke="#fff" stroke-width="0.86" stroke-opacity="0.78" fill="none" stroke-linecap="round"/>
<path d="M1345.39,243.03 Q1344.32,244.26 1341.59,246.1" stroke="#fff" stroke-width="0.69" stroke-opacity="0.44" fill="none" stroke-linecap="round"/>
<path d="M1340.62,256.93 Q1338.93,257.09 1335.96,258.08" stroke="#fff" stroke-width="1.28" stroke-opacity="0.33" fill="none" stroke-linecap="round"/>
<path d="M1305.27,237.33 Q1305.23,235.56 1306.2,233.74" stroke="#fff" stroke-width="1.08" stroke-opacity="0.76" fill="none" stroke-linecap="round"/>
<path d="M1387.98,306.48 Q1386.44,306.1 1385.12,307.63" stroke="#fff" stroke-width="1.18" stroke-opacity="0.35" fill="none" stroke-linecap="round"/>
<path d="M1449.01,235.19 Q1447.55,237.34 1446.65,239.53" stroke="#fff" stroke-width="1.09" stroke-opacity="0.33" fill="none" stroke-linecap="round"/>
<path d="M1343.06,268.54 Q1338.05,271.41 1335.15,272.2" stroke="#fff" stroke-width="1.04" stroke-opacity="0.63" fill="none" stroke-linecap="round"/>
<path d="M1298.37,287.28 Q1295.33,285.53 1294.3,282.46" stroke="#fff" stroke-width="0.78" stroke-opacity="0.37" fill="none" stroke-linecap="round"/>
<path d="M1388.31,301.53 Q1386.37,301.98 1384.38,301.99" stroke="#fff" stroke-width="0.99" stroke-opacity="0.51" fill="none" stroke-linecap="round"/>
<path d="M1313.22,293.82 Q1312.83,291.3 1311.3,289.81" stroke="#fff" stroke-width="0.66" stroke-opacity="0.54" fill="none" stroke-linecap="round"/>
<path d="M1342.02,199.95 Q1343.66,196.36 1346.01,193.5" stroke="#fff" stroke-width="1.18" stroke-opacity="0.53" fill="none" stroke-linecap="round"/>
<path d="M1387.94,162.19 Q1389.53,162.33 1391.28,161.47" stroke="#fff" stroke-width="0.66" stroke-opacity="0.62" fill="none" stroke-linecap="round"/>
<path d="M1348.62,191.16 Q1352.02,191.28 1354.6,190.1" stroke="#fff" stroke-width="0.71" stroke-opacity="0.45" fill="none" stroke-linecap="round"/>
<path d="M1409.63,219.11 Q1410.09,218.24 1412.62,216.47" stroke="#fff" stroke-width="1.19" stroke-opacity="0.62" fill="none" stroke-linecap="round"/>
<path d="M1295.94,263.68 Q1295.84,261.94 1294.81,260.53" stroke="#fff" stroke-width="0.67" stroke-opacity="0.67" fill="none" stroke-linecap="round"/>
<path d="M1411.4,235.78 Q1413.15,236.23 1415.3,236.72" stroke="#fff" stroke-width="1.06" stroke-opacity="0.35" fill="none" stroke-linecap="round"/>
<path d="M1309.46,213 Q1308.77,210.75 1309.15,208.82" stroke="#fff" stroke-width="1.3" stroke-opacity="0.47" fill="none" stroke-linecap="round"/>
<path d="M1319.84,274.05 Q1318,272.69 1317.09,270.69" stroke="#fff" stroke-width="0.9" stroke-opacity="0.38" fill="none" stroke-linecap="round"/>
<path d="M1361.82,165.46 Q1365.09,163.88 1368.71,164.12" stroke="#fff" stroke-width="0.8" stroke-opacity="0.77" fill="none" stroke-linecap="round"/>
<path d="M1433.77,225.96 Q1432.82,227.95 1434.11,229.79" stroke="#fff" stroke-width="1.08" stroke-opacity="0.65" fill="none" stroke-linecap="round"/>
<path d="M1387.72,284.28 Q1385.13,283.79 1382.64,284.08" stroke="#fff" stroke-width="1.1" stroke-opacity="0.44" fill="none" stroke-linecap="round"/>
<path d="M1392.76,154.34 Q1396.22,157.19 1400.23,157.8" stroke="#fff" stroke-width="0.87" stroke-opacity="0.64" fill="none" stroke-linecap="round"/>
<path d="M1341.19,319.65 Q1336.35,319.52 1332.56,317.17" stroke="#fff" stroke-width="1.15" stroke-opacity="0.73" fill="none" stroke-linecap="round"/>
<path d="M1378.51,165.24 Q1381.54,165.85 1384.62,165.48" stroke="#fff" stroke-width="0.86" stroke-opacity="0.56" fill="none" stroke-linecap="round"/>
<path d="M1383.93,170.91 Q1386.24,171.22 1388.55,171.55" stroke="#fff" stroke-width="0.89" stroke-opacity="0.63" fill="none" stroke-linecap="round"/>
<path d="M1301.16,243.34 Q1300.85,241.11 1301.74,238.72" stroke="#fff" stroke-width="1.15" stroke-opacity="0.56" fill="none" stroke-linecap="round"/>
<path d="M1321.38,214.64 Q1323.61,211.76 1325.73,208.84" stroke="#fff" stroke-width="1.11" stroke-opacity="0.41" fill="none" stroke-linecap="round"/>
<path d="M1324.39,204.91 Q1327.68,202.57 1329.46,199.35" stroke="#fff" stroke-width="0.76" stroke-opacity="0.69" fill="none" stroke-linecap="round"/>
<path d="M1403.49,272.55 Q1399.94,273.01 1397.02,274.67" stroke="#fff" stroke-width="0.64" stroke-opacity="0.48" fill="none" stroke-linecap="round"/>
<path d="M1309.45,198.38 Q1310.06,196.71 1311.93,195.7" stroke="#fff" stroke-width="0.94" stroke-opacity="0.48" fill="none" stroke-linecap="round"/>
<path d="M1317.91,234.35 Q1318.19,230.94 1320.56,227.58" stroke="#fff" stroke-width="1.21" stroke-opacity="0.52" fill="none" stroke-linecap="round"/>
<path d="M1348.28,195.28 Q1351.68,192.73 1353.94,188.48" stroke="#fff" stroke-width="0.8" stroke-opacity="0.76" fill="none" stroke-linecap="round"/>
<path d="M1441.33,191.82 Q1441.8,195.93 1442.64,199.82" stroke="#fff" stroke-width="0.73" stroke-opacity="0.69" fill="none" stroke-linecap="round"/>
<path d="M1452.34,217.52 Q1451.8,220.32 1452.72,222.89" stroke="#fff" stroke-width="0.61" stroke-opacity="0.5" fill="none" stroke-linecap="round"/>
<path d="M1342.59,294.45 Q1340.5,293.13 1338.8,291.18" stroke="#fff" stroke-width="0.73" stroke-opacity="0.31" fill="none" stroke-linecap="round"/>
<path d="M1402.43,257.59 Q1405.16,259.66 1406.4,260.21" stroke="#fff" stroke-width="1.24" stroke-opacity="0.42" fill="none" stroke-linecap="round"/>
<path d="M1332.84,269.13 Q1331.83,265.77 1328.99,263.75" stroke="#fff" stroke-width="0.75" stroke-opacity="0.46" fill="none" stroke-linecap="round"/>
<path d="M1430.45,178.97 Q1434.16,180.77 1435.72,184.53" stroke="#fff" stroke-width="0.64" stroke-opacity="0.49" fill="none" stroke-linecap="round"/>
<path d="M1310.8,265.86 Q1310.25,262.11 1309.96,258.24" stroke="#fff" stroke-width="0.87" stroke-opacity="0.7" fill="none" stroke-linecap="round"/>
<path d="M1418.27,216.79 Q1420.8,220.43 1423.56,224.02" stroke="#fff" stroke-width="0.75" stroke-opacity="0.3" fill="none" stroke-linecap="round"/>
<path d="M1343.06,219.21 Q1339.53,218.43 1337.13,218.06" stroke="#fff" stroke-width="0.96" stroke-opacity="0.79" fill="none" stroke-linecap="round"/>
<path d="M1298.54,239.18 Q1296.96,236.3 1297.54,233.3" stroke="#fff" stroke-width="0.75" stroke-opacity="0.74" fill="none" stroke-linecap="round"/>
<path d="M1335.4,199.1 Q1338.23,197.14 1340.09,194.33" stroke="#fff" stroke-width="0.66" stroke-opacity="0.78" fill="none" stroke-linecap="round"/>
<path d="M1329.37,198.62 Q1331.58,195.28 1333.4,191.63" stroke="#fff" stroke-width="1.27" stroke-opacity="0.48" fill="none" stroke-linecap="round"/>
<path d="M1343.68,158.41 Q1347.13,157.71 1350.45,156.71" stroke="#fff" stroke-width="0.88" stroke-opacity="0.42" fill="none" stroke-linecap="round"/>
<path d="M1427.72,220.35 Q1429.46,224.1 1429.81,228.06" stroke="#fff" stroke-width="0.62" stroke-opacity="0.41" fill="none" stroke-linecap="round"/>
<path d="M1359.87,165.8 Q1361.74,165.02 1363.88,165.36" stroke="#fff" stroke-width="0.78" stroke-opacity="0.62" fill="none" stroke-linecap="round"/>
<path d="M1291.66,261.29 Q1291.61,259.2 1290.49,257.44" stroke="#fff" stroke-width="0.99" stroke-opacity="0.37" fill="none" stroke-linecap="round"/>
<path d="M1395.15,295.59 Q1392.24,296.86 1389.41,298.47" stroke="#fff" stroke-width="1.18" stroke-opacity="0.58" fill="none" stroke-linecap="round"/>
<path d="M1420.53,200.35 Q1421.81,202.62 1421.48,205.96" stroke="#fff" stroke-width="1.06" stroke-opacity="0.35" fill="none" stroke-linecap="round"/>
<path d="M1411.94,180.01 Q1416.32,180.6 1419.53,182.78" stroke="#fff" stroke-width="0.96" stroke-opacity="0.31" fill="none" stroke-linecap="round"/>
<path d="M1449.92,216.32 Q1449.99,220.3 1449.86,224.3" stroke="#fff" stroke-width="1.2" stroke-opacity="0.4" fill="none" stroke-linecap="round"/>
<path d="M1391.87,148.27 Q1393.72,148.92 1395.83,148.27" stroke="#fff" stroke-width="1.24" stroke-opacity="0.75" fill="none" stroke-linecap="round"/>
<path d="M1356.89,302.13 Q1354.81,301.5 1353.32,299.09" stroke="#fff" stroke-width="1.11" stroke-opacity="0.41" fill="none" stroke-linecap="round"/>
<path d="M1405.92,226.59 Q1408.78,225.9 1413.44,224.86" stroke="#fff" stroke-width="1.27" stroke-opacity="0.44" fill="none" stroke-linecap="round"/>
<path d="M1316.65,279.59 Q1315.27,277.37 1312.52,276.14" stroke="#fff" stroke-width="1.27" stroke-opacity="0.48" fill="none" stroke-linecap="round"/>
<path d="M1335.19,169.23 Q1337.32,167.94 1339.95,167.45" stroke="#fff" stroke-width="0.88" stroke-opacity="0.56" fill="none" stroke-linecap="round"/>
<path d="M1411.1,198.86 Q1414.04,201.18 1418.01,202.62" stroke="#fff" stroke-width="1.04" stroke-opacity="0.54" fill="none" stroke-linecap="round"/>
<path d="M1343.62,250.49 Q1343.09,250.89 1339.92,252.71" stroke="#fff" stroke-width="1.16" stroke-opacity="0.43" fill="none" stroke-linecap="round"/>
<path d="M1438.45,242.5 Q1436.25,245.37 1436.25,248.74" stroke="#fff" stroke-width="1.14" stroke-opacity="0.45" fill="none" stroke-linecap="round"/>
<path d="M1407.97,304.43 Q1405.69,306.26 1402.47,305.55" stroke="#fff" stroke-width="0.73" stroke-opacity="0.35" fill="none" stroke-linecap="round"/>
<path d="M1443.76,206.99 Q1445.12,208.49 1446.03,210.15" stroke="#fff" stroke-width="0.73" stroke-opacity="0.54" fill="none" stroke-linecap="round"/>
<path d="M1369.83,310.62 Q1368.59,308.97 1367.13,309.11" stroke="#fff" stroke-width="0.63" stroke-opacity="0.68" fill="none" stroke-linecap="round"/>
<path d="M1309.49,299.35 Q1308.83,296.73 1306.97,295.22" stroke="#fff" stroke-width="1" stroke-opacity="0.62" fill="none" stroke-linecap="round"/>
<path d="M1342.34,229.61 Q1340.1,229.28 1339,229.03" stroke="#fff" stroke-width="0.71" stroke-opacity="0.58" fill="none" stroke-linecap="round"/>
<path d="M1313.78,191.29 Q1314.41,188.25 1316.48,186.19" stroke="#fff" stroke-width="1.11" stroke-opacity="0.36" fill="none" stroke-linecap="round"/>
<path d="M1412.63,294.2 Q1408.62,295.87 1405.82,300.04" stroke="#fff" stroke-width="1.13" stroke-opacity="0.51" fill="none" stroke-linecap="round"/>
<path d="M1359.95,160.84 Q1362.7,161.48 1365.34,161.59" stroke="#fff" stroke-width="1.06" stroke-opacity="0.58" fill="none" stroke-linecap="round"/>
<path d="M1316.35,250.18 Q1314.4,246.72 1311.69,243.44" stroke="#fff" stroke-width="1.22" stroke-opacity="0.79" fill="none" stroke-linecap="round"/>
<path d="M1397.99,309.76 Q1395.38,310.7 1393.03,312.8" stroke="#fff" stroke-width="1.1" stroke-opacity="0.66" fill="none" stroke-linecap="round"/>
<path d="M1306.5,269.36 Q1306.78,265.43 1304.47,262.72" stroke="#fff" stroke-width="0.91" stroke-opacity="0.46" fill="none" stroke-linecap="round"/>
<path d="M1387.43,198.73 Q1387.99,197.61 1388.91,195.26" stroke="#fff" stroke-width="1.15" stroke-opacity="0.45" fill="none" stroke-linecap="round"/>
<path d="M1379.16,303.79 Q1377.37,302.1 1375.55,302.99" stroke="#fff" stroke-width="1.26" stroke-opacity="0.31" fill="none" stroke-linecap="round"/>
<path d="M1413.51,202.71 Q1414.89,204.21 1416.26,205.72" stroke="#fff" stroke-width="0.89" stroke-opacity="0.36" fill="none" stroke-linecap="round"/>
<path d="M1373.41,193.04 Q1372.52,188.93 1371.59,184.43" stroke="#fff" stroke-width="0.76" stroke-opacity="0.78" fill="none" stroke-linecap="round"/>
<path d="M1332.82,269.85 Q1329.55,267.31 1327.51,263.87" stroke="#fff" stroke-width="0.8" stroke-opacity="0.35" fill="none" stroke-linecap="round"/>
<path d="M1357.49,293.27 Q1355.15,293.22 1352.84,293.06" stroke="#fff" stroke-width="0.9" stroke-opacity="0.77" fill="none" stroke-linecap="round"/>
<path d="M1387.49,281.7 Q1385.65,280.17 1384.19,280.95" stroke="#fff" stroke-width="0.81" stroke-opacity="0.66" fill="none" stroke-linecap="round"/>
<path d="M1289.48,229.33 Q1289.9,227.88 1288.66,226.35" stroke="#fff" stroke-width="0.66" stroke-opacity="0.35" fill="none" stroke-linecap="round"/>
<path d="M1302.96,239.7 Q1303.61,237.82 1303.76,235.97" stroke="#fff" stroke-width="0.78" stroke-opacity="0.42" fill="none" stroke-linecap="round"/>
<path d="M1389.83,314.95 Q1388.33,316.42 1386.69,316.73" stroke="#fff" stroke-width="1.01" stroke-opacity="0.66" fill="none" stroke-linecap="round"/>
<path d="M1321.07,235.2 Q1321.56,233.13 1320.75,231.09" stroke="#fff" stroke-width="1.01" stroke-opacity="0.45" fill="none" stroke-linecap="round"/>
<path d="M1320.73,267.71 Q1320.29,266 1319.82,264.31" stroke="#fff" stroke-width="0.76" stroke-opacity="0.36" fill="none" stroke-linecap="round"/>
<path d="M1413.16,202.76 Q1413.38,205.79 1414.7,208.01" stroke="#fff" stroke-width="1.29" stroke-opacity="0.75" fill="none" stroke-linecap="round"/>
<path d="M1319.59,306.2 Q1315.6,305.94 1313.54,303.39" stroke="#fff" stroke-width="1.05" stroke-opacity="0.7" fill="none" stroke-linecap="round"/>
<path d="M1317.9,261.94 Q1316.39,260.35 1316.04,258.22" stroke="#fff" stroke-width="0.67" stroke-opacity="0.63" fill="none" stroke-linecap="round"/>
<path d="M1400.39,275.05 Q1399.77,277.37 1397.96,277.21" stroke="#fff" stroke-width="0.87" stroke-opacity="0.51" fill="none" stroke-linecap="round"/>
<path d="M1343.86,280.82 Q1341.47,277.9 1338.72,275.44" stroke="#fff" stroke-width="1" stroke-opacity="0.56" fill="none" stroke-linecap="round"/>
<path d="M1422.82,280.76 Q1419.53,283.25 1414.81,283.97" stroke="#fff" stroke-width="0.79" stroke-opacity="0.69" fill="none" stroke-linecap="round"/>
<path d="M1342.77,304.23 Q1339.75,301.75 1337.22,298.39" stroke="#fff" stroke-width="0.72" stroke-opacity="0.38" fill="none" stroke-linecap="round"/>
<path d="M1379.62,169.58 Q1381.95,169.89 1384.42,168.12" stroke="#fff" stroke-width="1.1" stroke-opacity="0.41" fill="none" stroke-linecap="round"/>
<path d="M1438.34,192.2 Q1440.37,195.63 1443.59,198.36" stroke="#fff" stroke-width="0.88" stroke-opacity="0.31" fill="none" stroke-linecap="round"/>
<path d="M1312.08,189.56 Q1313.06,184.85 1316.41,181.87" stroke="#fff" stroke-width="1.22" stroke-opacity="0.36" fill="none" stroke-linecap="round"/>
<path d="M1415.44,302.33 Q1412.54,304.57 1408.84,305.12" stroke="#fff" stroke-width="0.71" stroke-opacity="0.57" fill="none" stroke-linecap="round"/>
<path d="M1317.35,212.89 Q1318.18,211.02 1319.43,209.3" stroke="#fff" stroke-width="1.15" stroke-opacity="0.61" fill="none" stroke-linecap="round"/>
<path d="M1435.06,246.99 Q1433.13,248.8 1431.94,250.84" stroke="#fff" stroke-width="0.67" stroke-opacity="0.47" fill="none" stroke-linecap="round"/>
<path d="M1402.57,269.52 Q1398.31,270.38 1394.19,271.54" stroke="#fff" stroke-width="0.92" stroke-opacity="0.68" fill="none" stroke-linecap="round"/>
<path d="M1395.14,303.5 Q1393.14,304.74 1390.66,303.67" stroke="#fff" stroke-width="0.69" stroke-opacity="0.37" fill="none" stroke-linecap="round"/>
<path d="M1359.64,300.06 Q1355.82,301.35 1352.85,299.95" stroke="#fff" stroke-width="0.72" stroke-opacity="0.34" fill="none" stroke-linecap="round"/>
<path d="M1383.48,174.36 Q1385.83,174.98 1388.27,174.98" stroke="#fff" stroke-width="1.05" stroke-opacity="0.55" fill="none" stroke-linecap="round"/>
<path d="M1333.54,261.19 Q1330.86,257.72 1327.31,254.73" stroke="#fff" stroke-width="0.61" stroke-opacity="0.35" fill="none" stroke-linecap="round"/>
<path d="M1318.18,262.65 Q1317.84,260.93 1316.83,259.54" stroke="#fff" stroke-width="0.94" stroke-opacity="0.5" fill="none" stroke-linecap="round"/>
<path d="M1431.86,254.4 Q1431.97,256.47 1430.05,257.62" stroke="#fff" stroke-width="1.29" stroke-opacity="0.68" fill="none" stroke-linecap="round"/>
<path d="M1399.36,180.48 Q1402.99,182.36 1405.54,186.35" stroke="#fff" stroke-width="0.77" stroke-opacity="0.59" fill="none" stroke-linecap="round"/>
<path d="M1339.02,189.86 Q1342.51,188.19 1345.37,185.74" stroke="#fff" stroke-width="0.98" stroke-opacity="0.76" fill="none" stroke-linecap="round"/>
<path d="M1383.09,285.47 Q1378.71,284.98 1374.32,284.61" stroke="#fff" stroke-width="1.04" stroke-opacity="0.57" fill="none" stroke-linecap="round"/>
<path d="M1400.95,300.77 Q1398.67,300.85 1396.87,302.49" stroke="#fff" stroke-width="1.09" stroke-opacity="0.56" fill="none" stroke-linecap="round"/>
<path d="M1388.03,197.11 Q1390.2,193.67 1391.85,191.82" stroke="#fff" stroke-width="1.27" stroke-opacity="0.42" fill="none" stroke-linecap="round"/>
<path d="M1336.96,303.47 Q1334.86,303.03 1333.61,301.19" stroke="#fff" stroke-width="1.25" stroke-opacity="0.31" fill="none" stroke-linecap="round"/>
<path d="M1320.72,236.39 Q1318.39,232.29 1318.11,228.18" stroke="#fff" stroke-width="0.88" stroke-opacity="0.57" fill="none" stroke-linecap="round"/>
<path d="M1365.34,152.61 Q1369.33,154.16 1373.14,154.01" stroke="#fff" stroke-width="1.26" stroke-opacity="0.71" fill="none" stroke-linecap="round"/>
<path d="M1428.66,261.98 Q1424.8,263.74 1421.79,266.08" stroke="#fff" stroke-width="1.18" stroke-opacity="0.76" fill="none" stroke-linecap="round"/>
<path d="M1329.83,278.53 Q1328.28,275.4 1327.04,272" stroke="#fff" stroke-width="0.79" stroke-opacity="0.43" fill="none" stroke-linecap="round"/>
<path d="M1372.86,150.21 Q1376.72,152.32 1380.56,152.88" stroke="#fff" stroke-width="1.09" stroke-opacity="0.64" fill="none" stroke-linecap="round"/>
<path d="M1422.34,189.08 Q1424.39,189.59 1425.23,191.2" stroke="#fff" stroke-width="0.93" stroke-opacity="0.71" fill="none" stroke-linecap="round"/>
<path d="M1337.88,319.71 Q1335.57,320.27 1333.92,319.46" stroke="#fff" stroke-width="0.66" stroke-opacity="0.63" fill="none" stroke-linecap="round"/>
<path d="M1315.27,302.12 Q1313.31,299.07 1311.48,295.9" stroke="#fff" stroke-width="1.09" stroke-opacity="0.36" fill="none" stroke-linecap="round"/>
<path d="M1341.37,188.12 Q1344.02,187.8 1345.62,186.12" stroke="#fff" stroke-width="0.83" stroke-opacity="0.44" fill="none" stroke-linecap="round"/>
<path d="M1445.38,262.35 Q1445.49,265.67 1443.34,267.87" stroke="#fff" stroke-width="1.26" stroke-opacity="0.52" fill="none" stroke-linecap="round"/>
<path d="M1383.97,315.08 Q1381.72,314.48 1379.58,316.26" stroke="#fff" stroke-width="0.95" stroke-opacity="0.68" fill="none" stroke-linecap="round"/>
<path d="M1294.73,223.03 Q1295.72,218.66 1296.01,214.18" stroke="#fff" stroke-width="1.19" stroke-opacity="0.75" fill="none" stroke-linecap="round"/>
<path d="M1400.66,287.37 Q1396.28,287.56 1392.25,288.85" stroke="#fff" stroke-width="0.96" stroke-opacity="0.44" fill="none" stroke-linecap="round"/>
<path d="M1443.33,210.82 Q1447.16,214.03 1448.97,217.77" stroke="#fff" stroke-width="1.17" stroke-opacity="0.49" fill="none" stroke-linecap="round"/>
<path d="M1419.83,224.21 Q1421.77,226.62 1421.93,229.25" stroke="#fff" stroke-width="1.11" stroke-opacity="0.34" fill="none" stroke-linecap="round"/>
<path d="M1343.86,216.72 Q1340.22,214.02 1338.99,212.47" stroke="#fff" stroke-width="1.04" stroke-opacity="0.48" fill="none" stroke-linecap="round"/>
<path d="M1346.31,160.97 Q1350.41,159.65 1354.6,158.56" stroke="#fff" stroke-width="0.9" stroke-opacity="0.43" fill="none" stroke-linecap="round"/>
<path d="M1327.66,234.99 Q1328.64,232.4 1329.99,229.81" stroke="#fff" stroke-width="0.74" stroke-opacity="0.33" fill="none" stroke-linecap="round"/>
<path d="M1314.1,299.19 Q1312.11,297.18 1310.27,295.04" stroke="#fff" stroke-width="0.63" stroke-opacity="0.33" fill="none" stroke-linecap="round"/>
<path d="M1405.6,276.18 Q1403.45,277.37 1400.37,276.88" stroke="#fff" stroke-width="0.81" stroke-opacity="0.33" fill="none" stroke-linecap="round"/>
<path d="M1418.88,260.25 Q1416.92,261.69 1416.23,264.11" stroke="#fff" stroke-width="0.73" stroke-opacity="0.39" fill="none" stroke-linecap="round"/>
<path d="M1433.13,219.82 Q1435.09,223.17 1435.22,226.8" stroke="#fff" stroke-width="1.02" stroke-opacity="0.63" fill="none" stroke-linecap="round"/>
<path d="M1347.17,247.56 Q1344.64,248.02 1343.05,248.04" stroke="#fff" stroke-width="0.97" stroke-opacity="0.62" fill="none" stroke-linecap="round"/>
<path d="M1412.38,187.36 Q1413.4,189.52 1415.19,190.74" stroke="#fff" stroke-width="1.11" stroke-opacity="0.47" fill="none" stroke-linecap="round"/>
<path d="M1425.49,247.66 Q1422.25,250.19 1419.68,253" stroke="#fff" stroke-width="1.29" stroke-opacity="0.3" fill="none" stroke-linecap="round"/>
<path d="M1423.6,190.19 Q1424.65,192 1425.46,194.01" stroke="#fff" stroke-width="1.13" stroke-opacity="0.54" fill="none" stroke-linecap="round"/>
<path d="M1308.56,228.97 Q1307.84,227.46 1308.11,226.01" stroke="#fff" stroke-width="1.13" stroke-opacity="0.62" fill="none" stroke-linecap="round"/>
<path d="M1359.22,286.81 Q1355.7,286.48 1352.26,285.95" stroke="#fff" stroke-width="1.02" stroke-opacity="0.66" fill="none" stroke-linecap="round"/>
<path d="M1338.8,286.84 Q1335.36,286.21 1332.78,284.48" stroke="#fff" stroke-width="0.68" stroke-opacity="0.68" fill="none" stroke-linecap="round"/>
<path d="M1314.82,239.47 Q1314.1,237.34 1316.01,235" stroke="#fff" stroke-width="0.8" stroke-opacity="0.67" fill="none" stroke-linecap="round"/>
<path d="M1330.68,195.14 Q1331,192.69 1333.16,191.77" stroke="#fff" stroke-width="0.62" stroke-opacity="0.72" fill="none" stroke-linecap="round"/>
<path d="M1326.44,243.52 Q1327.1,239.63 1326.84,235.89" stroke="#fff" stroke-width="1.24" stroke-opacity="0.7" fill="none" stroke-linecap="round"/>
<path d="M1407.8,172.51 Q1409.72,175.15 1412.09,177.01" stroke="#fff" stroke-width="0.95" stroke-opacity="0.63" fill="none" stroke-linecap="round"/>
<path d="M1302.77,265.17 Q1303.77,262.04 1303.04,259.62" stroke="#fff" stroke-width="1.1" stroke-opacity="0.32" fill="none" stroke-linecap="round"/>
<path d="M1293.42,242.22 Q1294.97,240.11 1294.1,238.23" stroke="#fff" stroke-width="1.04" stroke-opacity="0.73" fill="none" stroke-linecap="round"/>
<path d="M1422.42,222.97 Q1423.18,227.16 1424.56,231.29" stroke="#fff" stroke-width="1.27" stroke-opacity="0.47" fill="none" stroke-linecap="round"/>
<path d="M1306.69,247.96 Q1303.55,244.36 1302.47,240.41" stroke="#fff" stroke-width="1.14" stroke-opacity="0.67" fill="none" stroke-linecap="round"/>
<path d="M1429.45,282.87 Q1427.23,284.04 1425.38,285.6" stroke="#fff" stroke-width="1.13" stroke-opacity="0.32" fill="none" stroke-linecap="round"/>
<path d="M1430.53,223.63 Q1431.69,227.42 1432.58,231.24" stroke="#fff" stroke-width="0.62" stroke-opacity="0.54" fill="none" stroke-linecap="round"/>
<path d="M1400.7,217.8 Q1406.24,216.27 1409.38,216.08" stroke="#fff" stroke-width="0.66" stroke-opacity="0.65" fill="none" stroke-linecap="round"/>
<path d="M1416.91,256.9 Q1415.47,257.65 1414.33,258.62" stroke="#fff" stroke-width="1.02" stroke-opacity="0.71" fill="none" stroke-linecap="round"/>
<path d="M1382.77,149.32 Q1385.05,152.09 1387.6,151.89" stroke="#fff" stroke-width="0.89" stroke-opacity="0.33" fill="none" stroke-linecap="round"/>
<path d="M1405.96,232.97 Q1408.89,232.27 1411.74,231.56" stroke="#fff" stroke-width="1.16" stroke-opacity="0.37" fill="none" stroke-linecap="round"/>
<path d="M1445.88,213.73 Q1446.79,215.81 1447.94,217.84" stroke="#fff" stroke-width="1.05" stroke-opacity="0.58" fill="none" stroke-linecap="round"/>
<path d="M1451.3,233.77 Q1448.99,236.38 1448.38,239.1" stroke="#fff" stroke-width="0.61" stroke-opacity="0.46" fill="none" stroke-linecap="round"/>
<path d="M1418.36,291.36 Q1415.63,291.46 1413.85,293.05" stroke="#fff" stroke-width="0.99" stroke-opacity="0.6" fill="none" stroke-linecap="round"/>
<path d="M1337.13,310.23 Q1335.43,306.05 1332.59,303.85" stroke="#fff" stroke-width="0.75" stroke-opacity="0.35" fill="none" stroke-linecap="round"/>
<path d="M1418.08,288.16 Q1414.84,289.29 1411.54,290.33" stroke="#fff" stroke-width="0.99" stroke-opacity="0.76" fill="none" stroke-linecap="round"/>
<path d="M1401.76,267.44 Q1399.31,269.73 1396.09,270.68" stroke="#fff" stroke-width="1" stroke-opacity="0.36" fill="none" stroke-linecap="round"/>
<path d="M1337.48,211.83 Q1337.35,208.57 1339.68,206.73" stroke="#fff" stroke-width="0.66" stroke-opacity="0.31" fill="none" stroke-linecap="round"/>
<path d="M1413.09,207.65 Q1414,210.4 1415.6,212.75" stroke="#fff" stroke-width="0.77" stroke-opacity="0.31" fill="none" stroke-linecap="round"/>
<path d="M1323.32,228.37 Q1321.44,225.87 1321.91,223.63" stroke="#fff" stroke-width="1.19" stroke-opacity="0.42" fill="none" stroke-linecap="round"/>
<path d="M1318.49,281.62 Q1316.34,278.38 1313.64,275.54" stroke="#fff" stroke-width="0.76" stroke-opacity="0.7" fill="none" stroke-linecap="round"/>
<path d="M1286.72,259.46 Q1286.6,254.98 1286.25,250.56" stroke="#fff" stroke-width="0.7" stroke-opacity="0.33" fill="none" stroke-linecap="round"/>
<path d="M1435.18,269.6 Q1433.82,271.99 1430.35,272.88" stroke="#fff" stroke-width="1.03" stroke-opacity="0.35" fill="none" stroke-linecap="round"/>
<path d="M1309.65,201.4 Q1310.78,198.41 1311.58,195.26" stroke="#fff" stroke-width="1.17" stroke-opacity="0.39" fill="none" stroke-linecap="round"/>
<path d="M1412.44,191.61 Q1413.69,195.99 1415.68,199.65" stroke="#fff" stroke-width="1.02" stroke-opacity="0.36" fill="none" stroke-linecap="round"/>
<path d="M1396.41,199.87 Q1396.89,198.16 1397.19,196.77" stroke="#fff" stroke-width="0.72" stroke-opacity="0.45" fill="none" stroke-linecap="round"/>
<path d="M1367.84,179.54 Q1370.8,177.64 1373.99,177.41" stroke="#fff" stroke-width="0.71" stroke-opacity="0.43" fill="none" stroke-linecap="round"/>
<path d="M1331.04,213.71 Q1332.44,210.21 1333.7,206.64" stroke="#fff" stroke-width="0.88" stroke-opacity="0.69" fill="none" stroke-linecap="round"/>
<path d="M1447.34,198.89 Q1448.93,202.12 1450.36,205.42" stroke="#fff" stroke-width="0.74" stroke-opacity="0.39" fill="none" stroke-linecap="round"/>
<path d="M1336.14,275.92 Q1332.76,275.25 1330.29,273.71" stroke="#fff" stroke-width="0.9" stroke-opacity="0.33" fill="none" stroke-linecap="round"/>
<path d="M1435.69,242.66 Q1435.08,245 1435.7,247.62" stroke="#fff" stroke-width="0.8" stroke-opacity="0.47" fill="none" stroke-linecap="round"/>
<path d="M1316.98,244.2 Q1316.96,240.21 1316.53,236.28" stroke="#fff" stroke-width="0.77" stroke-opacity="0.79" fill="none" stroke-linecap="round"/>
<path d="M1420.68,196.42 Q1420.48,198.47 1421.44,199.61" stroke="#fff" stroke-width="1.19" stroke-opacity="0.36" fill="none" stroke-linecap="round"/>
<path d="M1398.01,205.14 Q1399.24,202.42 1401.86,197.75" stroke="#fff" stroke-width="0.74" stroke-opacity="0.7" fill="none" stroke-linecap="round"/>
<path d="M1403.7,184.3 Q1406.72,183.42 1408.27,185.04" stroke="#fff" stroke-width="0.63" stroke-opacity="0.61" fill="none" stroke-linecap="round"/>
<path d="M1333.32,163.58 Q1336.49,163.79 1338.87,162.69" stroke="#fff" stroke-width="0.72" stroke-opacity="0.61" fill="none" stroke-linecap="round"/>
<path d="M1313.4,239.89 Q1312.64,237.02 1313.23,234.04" stroke="#fff" stroke-width="1.23" stroke-opacity="0.53" fill="none" stroke-linecap="round"/>
<path d="M1294.76,260.06 Q1293.13,256.75 1290.31,253.79" stroke="#fff" stroke-width="1.2" stroke-opacity="0.64" fill="none" stroke-linecap="round"/>
<path d="M1429.22,211.29 Q1429.12,213.4 1430.03,215.14" stroke="#fff" stroke-width="0.69" stroke-opacity="0.38" fill="none" stroke-linecap="round"/>
<path d="M1344.64,150.46 Q1347.11,149.5 1349.69,148.83" stroke="#fff" stroke-width="0.88" stroke-opacity="0.7" fill="none" stroke-linecap="round"/>
<path d="M1378.3,297.79 Q1375.26,298.02 1372.16,299.71" stroke="#fff" stroke-width="0.67" stroke-opacity="0.74" fill="none" stroke-linecap="round"/>
<path d="M1330.16,216.08 Q1329.65,212.74 1330.28,209.86" stroke="#fff" stroke-width="1.16" stroke-opacity="0.7" fill="none" stroke-linecap="round"/>
<path d="M1406.96,206.95 Q1409.13,204.2 1409.81,202.77" stroke="#fff" stroke-width="0.92" stroke-opacity="0.71" fill="none" stroke-linecap="round"/>
<path d="M1331.49,195.29 Q1333.08,192.74 1336.4,191.7" stroke="#fff" stroke-width="0.85" stroke-opacity="0.65" fill="none" stroke-linecap="round"/>
<path d="M1350.9,316.91 Q1347.56,315.05 1343.94,313.96" stroke="#fff" stroke-width="0.79" stroke-opacity="0.74" fill="none" stroke-linecap="round"/>
<path d="M1429.65,188.85 Q1432.16,189.01 1432.49,190.9" stroke="#fff" stroke-width="0.63" stroke-opacity="0.7" fill="none" stroke-linecap="round"/>
<path d="M1292.19,276.16 Q1291.1,273.03 1291.06,269.41" stroke="#fff" stroke-width="1.25" stroke-opacity="0.33" fill="none" stroke-linecap="round"/>
<path d="M1376.24,295.03 Q1374.21,296.07 1372.32,294.7" stroke="#fff" stroke-width="1.12" stroke-opacity="0.5" fill="none" stroke-linecap="round"/>
<path d="M1402.58,187.67 Q1406.18,188.91 1408.81,191.64" stroke="#fff" stroke-width="0.85" stroke-opacity="0.74" fill="none" stroke-linecap="round"/>
<path d="M1403.41,223.03 Q1406.67,222.68 1409.76,222.39" stroke="#fff" stroke-width="1.27" stroke-opacity="0.3" fill="none" stroke-linecap="round"/>
<path d="M1367.41,312.83 Q1365.37,313.45 1363.52,312.8" stroke="#fff" stroke-width="1.18" stroke-opacity="0.49" fill="none" stroke-linecap="round"/>
<path d="M1328.96,182.49 Q1329.36,179.03 1331.42,177.37" stroke="#fff" stroke-width="1.19" stroke-opacity="0.58" fill="none" stroke-linecap="round"/>
<path d="M1327.44,275.74 Q1326.18,272.7 1323.96,270.4" stroke="#fff" stroke-width="1.11" stroke-opacity="0.64" fill="none" stroke-linecap="round"/>
<path d="M1410.05,228.14 Q1411.46,227.51 1415.6,226.52" stroke="#fff" stroke-width="0.93" stroke-opacity="0.61" fill="none" stroke-linecap="round"/>
<path d="M1433.83,229.24 Q1434.98,231.21 1434.71,233.2" stroke="#fff" stroke-width="1.29" stroke-opacity="0.36" fill="none" stroke-linecap="round"/>
<path d="M1337.72,255.39 Q1336.38,255.65 1334.19,256.4" stroke="#fff" stroke-width="1.24" stroke-opacity="0.46" fill="none" stroke-linecap="round"/>
<path d="M1380.81,288.25 Q1376.77,285.26 1372.67,284.65" stroke="#fff" stroke-width="0.86" stroke-opacity="0.8" fill="none" stroke-linecap="round"/>
<path d="M1317.74,307.19 Q1315.62,307.32 1315.2,305.4" stroke="#fff" stroke-width="0.78" stroke-opacity="0.48" fill="none" stroke-linecap="round"/>
<path d="M1381.42,173.48 Q1384.78,175.61 1388.43,175.33" stroke="#fff" stroke-width="1.24" stroke-opacity="0.34" fill="none" stroke-linecap="round"/>
<path d="M1407.3,198.9 Q1410.12,198.55 1410.88,200.36" stroke="#fff" stroke-width="1.16" stroke-opacity="0.53" fill="none" stroke-linecap="round"/>
<path d="M1319.84,242.45 Q1319.79,238.08 1320.75,233.61" stroke="#fff" stroke-width="1.19" stroke-opacity="0.5" fill="none" stroke-linecap="round"/>
<path d="M1382.11,313.18 Q1380.07,311.14 1378.1,311.95" stroke="#fff" stroke-width="0.98" stroke-opacity="0.59" fill="none" stroke-linecap="round"/>
<path d="M1352.27,163.42 Q1355,162.97 1357.59,162.12" stroke="#fff" stroke-width="0.6" stroke-opacity="0.35" fill="none" stroke-linecap="round"/>
<path d="M1318.2,306.82 Q1316.84,302.52 1314.2,299.7" stroke="#fff" stroke-width="0.6" stroke-opacity="0.68" fill="none" stroke-linecap="round"/>
<path d="M1314.78,257.42 Q1313.55,253.3 1309.91,249.99" stroke="#fff" stroke-width="1.09" stroke-opacity="0.35" fill="none" stroke-linecap="round"/>
<path d="M1309.3,224.58 Q1309.9,220.22 1309.41,215.67" stroke="#fff" stroke-width="0.93" stroke-opacity="0.38" fill="none" stroke-linecap="round"/>
<path d="M1348.76,280.91 Q1347.64,278.26 1345.49,277.2" stroke="#fff" stroke-width="0.67" stroke-opacity="0.61" fill="none" stroke-linecap="round"/>
<path d="M1290.61,262.68 Q1289.5,259.07 1288.23,255.52" stroke="#fff" stroke-width="1.08" stroke-opacity="0.6" fill="none" stroke-linecap="round"/>
<path d="M1348.81,163.91 Q1351.13,161.89 1354.29,162.09" stroke="#fff" stroke-width="1.3" stroke-opacity="0.58" fill="none" stroke-linecap="round"/>
<path d="M1328.52,172.71 Q1332.05,171.87 1334.67,169.83" stroke="#fff" stroke-width="1.08" stroke-opacity="0.8" fill="none" stroke-linecap="round"/>
<path d="M1339.96,258.71 Q1337.07,261.42 1335.55,263.14" stroke="#fff" stroke-width="0.6" stroke-opacity="0.42" fill="none" stroke-linecap="round"/>
<path d="M1328.25,261.26 Q1324.63,258.96 1322.51,255.9" stroke="#fff" stroke-width="0.87" stroke-opacity="0.56" fill="none" stroke-linecap="round"/>
<path d="M1405.65,261.42 Q1404.95,264.31 1402.64,265.26" stroke="#fff" stroke-width="0.97" stroke-opacity="0.31" fill="none" stroke-linecap="round"/>
<path d="M1332.62,200.57 Q1333.13,199.03 1335.59,198.92" stroke="#fff" stroke-width="1.17" stroke-opacity="0.3" fill="none" stroke-linecap="round"/>
<path d="M1419.03,302.85 Q1414.73,302.68 1411.48,304.52" stroke="#fff" stroke-width="0.61" stroke-opacity="0.35" fill="none" stroke-linecap="round"/>
<path d="M1367.45,175.76 Q1371.16,174.47 1374.75,172.15" stroke="#fff" stroke-width="0.6" stroke-opacity="0.79" fill="none" stroke-linecap="round"/>
<path d="M1353.24,296.9 Q1349.2,296.38 1346.36,293.2" stroke="#fff" stroke-width="1.14" stroke-opacity="0.76" fill="none" stroke-linecap="round"/>
<path d="M1418.28,170.94 Q1421.32,170.87 1422.68,173.2" stroke="#fff" stroke-width="0.64" stroke-opacity="0.52" fill="none" stroke-linecap="round"/>
<path d="M1374.45,294.2 Q1371.87,294.89 1369.43,294.11" stroke="#fff" stroke-width="1.09" stroke-opacity="0.74" fill="none" stroke-linecap="round"/>
<path d="M1330.54,314.63 Q1327.68,312.22 1324.52,310.28" stroke="#fff" stroke-width="1" stroke-opacity="0.34" fill="none" stroke-linecap="round"/>
<path d="M1415.59,283.57 Q1413.73,286.63 1411.14,288.57" stroke="#fff" stroke-width="1.18" stroke-opacity="0.61" fill="none" stroke-linecap="round"/>
<path d="M1311.46,250.85 Q1311.32,248.18 1309.14,246.01" stroke="#fff" stroke-width="1.21" stroke-opacity="0.62" fill="none" stroke-linecap="round"/>
<path d="M1318.44,237.58 Q1317.92,235.96 1317.63,234.33" stroke="#fff" stroke-width="0.94" stroke-opacity="0.75" fill="none" stroke-linecap="round"/>
<path d="M1387.83,296.86 Q1385.8,299.68 1383.44,299.64" stroke="#fff" stroke-width="1.15" stroke-opacity="0.36" fill="none" stroke-linecap="round"/>
<path d="M1399.48,150.16 Q1400.58,152 1402.49,150.99" stroke="#fff" stroke-width="0.78" stroke-opacity="0.49" fill="none" stroke-linecap="round"/>
<path d="M1315.62,177.96 Q1317.46,176.3 1318.68,174.07" stroke="#fff" stroke-width="0.83" stroke-opacity="0.31" fill="none" stroke-linecap="round"/>
<path d="M1354.74,167.1 Q1359.02,168.43 1362.64,167.59" stroke="#fff" stroke-width="0.95" stroke-opacity="0.58" fill="none" stroke-linecap="round"/>
</g>
<path d="M1143.5,214.3 C1143.12,215.19 1140.61,224.04 1140.8,225.5 C1140.99,226.96 1144.48,227.94 1145.4,228.9 C1146.32,229.86 1149.3,233.86 1150,235.1 C1150.7,236.34 1152.24,240.22 1152.4,241.3 C1152.56,242.38 1151.53,245.13 1151.6,245.9 C1151.67,246.67 1152.48,248.38 1153.1,249 C1153.72,249.62 1156.72,251.87 1157.8,252.1 C1158.88,252.33 1162.67,251.57 1163.9,251.3 C1165.13,251.03 1168.86,249.63 1170.1,249.4 C1171.34,249.17 1175.38,248.89 1176.3,249 C1177.22,249.11 1178.69,249.73 1179.3,250.5 C1179.91,251.27 1182.32,256.7 1182.4,256.7 C1182.48,256.7 1180.41,251.74 1180.1,250.5 C1179.79,249.26 1179.53,245.53 1179.3,244.3 C1179.07,243.07 1177.72,239.43 1177.8,238.2 C1177.88,236.97 1179.48,233.24 1180.1,232 C1180.72,230.76 1183.15,227.03 1184,225.8 C1184.85,224.57 1187.91,220.85 1188.6,219.7 C1189.29,218.55 1191.05,214.53 1190.9,214.3 C1190.75,214.07 1187.87,216.55 1187.1,217.4 C1186.33,218.25 1183.98,221.72 1183.2,222.8 C1182.42,223.88 1179.99,227.12 1179.3,228.2 C1178.61,229.28 1176.84,232.6 1176.3,233.6 C1175.76,234.6 1174.44,237.43 1173.9,238.2 C1173.36,238.97 1171.74,240.92 1170.9,241.3 C1170.06,241.68 1166.66,242.08 1165.5,242 C1164.34,241.92 1160.31,241.04 1159.3,240.5 C1158.29,239.96 1155.86,237.45 1155.4,236.6 C1154.94,235.75 1154.93,232.77 1154.7,232 C1154.47,231.23 1153.64,229.67 1153.1,228.9 C1152.56,228.13 1149.99,225.15 1149.3,224.3 C1148.61,223.45 1146.67,221.17 1146.2,220.4 C1145.73,219.63 1144.87,217.21 1144.6,216.6 C1144.33,215.99 1143.88,213.41 1143.5,214.3Z" fill="#fff"/>
<path d="M1161,229 L1163.5,221 L1165,216.5 L1162,211 L1158.5,206 M1165,216.5 L1171,212 L1178.5,208 M1166.5,213.5 L1168.5,206 L1168.6,199" stroke="#fff" stroke-width="1.7" fill="none" stroke-linecap="round" stroke-linejoin="round"/>
<ellipse cx="1164" cy="234.3" rx="5.8" ry="3.9" fill="#d4407f" opacity="0.9"/>
<path d="M1107.9,231.4 L1112.3,239.3 L1108.9,246.8" stroke="#fff" stroke-width="1.6" fill="none" stroke-linecap="round" stroke-linejoin="round"/>
<path d="M1106.86,247.02 L1106.91,247.38 L1106.97,247.84 L1107.04,248.37 L1107.12,248.97 L1107.2,249.63 L1107.28,250.34 L1107.36,251.08 L1107.43,251.85 L1107.49,252.67 L1107.54,253.6 L1107.6,254.61 L1107.65,255.67 L1107.71,256.75 L1107.79,257.83 L1107.89,258.88 L1108.01,259.86 L1108.16,260.75 L1108.32,261.59 L1108.5,262.4 L1108.69,263.18 L1108.91,263.95 L1109.14,264.7 L1109.4,265.46 L1109.69,266.23 L1110,267.01 L1110.33,267.79 L1110.68,268.56 L1111.06,269.34 L1111.46,270.11 L1111.88,270.88 L1112.34,271.65 L1112.81,272.42 L1113.31,273.2 L1113.84,273.98 L1114.4,274.78 L1114.99,275.58 L1115.6,276.37 L1116.24,277.15 L1116.9,277.91 L1117.6,278.66 L1118.33,279.37 L1119.09,280.04 L1119.87,280.68 L1120.65,281.29 L1121.43,281.88 L1122.2,282.46 L1122.95,283.04 L1123.69,283.62 L1124.43,284.23 L1125.18,284.86 L1125.93,285.49 L1126.7,286.13 L1127.47,286.77 L1128.24,287.4 L1129.02,288.01 L1129.79,288.6 L1130.57,289.16 L1131.33,289.69 L1132.09,290.2 L1132.84,290.69 L1133.59,291.16 L1134.34,291.64 L1135.08,292.11 L1135.82,292.58 L1136.56,293.06 L1137.31,293.56 L1138.07,294.07 L1138.83,294.58 L1139.61,295.08 L1140.39,295.57 L1141.18,296.03 L1141.96,296.46 L1142.74,296.86 L1143.5,297.24 L1144.27,297.6 L1145.04,297.93 L1145.82,298.25 L1146.6,298.53 L1147.4,298.78 L1148.2,298.99 L1149.02,299.16 L1149.84,299.29 L1150.66,299.39 L1151.48,299.45 L1152.28,299.48 L1153.07,299.48 L1153.82,299.47 L1154.55,299.43 L1155.26,299.37 L1155.94,299.29 L1156.59,299.18 L1157.23,299.04 L1157.86,298.88 L1158.49,298.7 L1159.11,298.5 L1159.75,298.26 L1160.4,298 L1161.04,297.71 L1161.66,297.39 L1162.29,297.06 L1162.91,296.71 L1163.54,296.35 L1164.18,295.98 L1164.84,295.6 L1165.55,295.19 L1166.3,294.74 L1167.07,294.28 L1167.84,293.8 L1168.61,293.33 L1169.35,292.88 L1170.04,292.46 L1170.68,292.09 L1171.26,291.75 L1171.78,291.43 L1172.26,291.14 L1172.7,290.88 L1173.13,290.64 L1173.56,290.42 L1174.01,290.21 L1174.5,290.01 L1175.06,289.81 L1175.71,289.64 L1176.4,289.47 L1177.1,289.31 L1177.77,289.17 L1178.38,289.04 L1178.89,288.92 L1179.27,288.79 L1179.13,288.01 L1178.74,288.02 L1178.22,288.07 L1177.6,288.15 L1176.9,288.24 L1176.18,288.35 L1175.45,288.48 L1174.74,288.63 L1174.1,288.79 L1173.53,288.98 L1173.01,289.18 L1172.51,289.39 L1172.03,289.62 L1171.54,289.86 L1171.04,290.12 L1170.51,290.41 L1169.92,290.71 L1169.25,291.07 L1168.53,291.47 L1167.76,291.89 L1166.98,292.34 L1166.19,292.78 L1165.42,293.22 L1164.67,293.63 L1163.96,294 L1163.29,294.35 L1162.63,294.7 L1162,295.03 L1161.39,295.34 L1160.79,295.63 L1160.21,295.89 L1159.63,296.13 L1159.05,296.34 L1158.47,296.52 L1157.9,296.68 L1157.34,296.82 L1156.79,296.93 L1156.23,297.02 L1155.66,297.09 L1155.07,297.14 L1154.45,297.17 L1153.78,297.18 L1153.08,297.17 L1152.37,297.14 L1151.65,297.09 L1150.92,297.01 L1150.2,296.91 L1149.49,296.77 L1148.8,296.61 L1148.12,296.4 L1147.44,296.17 L1146.75,295.89 L1146.06,295.59 L1145.36,295.26 L1144.66,294.91 L1143.95,294.53 L1143.24,294.14 L1142.53,293.73 L1141.82,293.28 L1141.1,292.81 L1140.37,292.31 L1139.63,291.79 L1138.88,291.27 L1138.13,290.74 L1137.38,290.22 L1136.64,289.72 L1135.91,289.23 L1135.18,288.74 L1134.46,288.25 L1133.74,287.76 L1133.03,287.26 L1132.32,286.74 L1131.61,286.2 L1130.89,285.63 L1130.17,285.04 L1129.44,284.42 L1128.7,283.78 L1127.96,283.13 L1127.21,282.48 L1126.47,281.82 L1125.71,281.18 L1124.94,280.54 L1124.17,279.92 L1123.41,279.32 L1122.66,278.73 L1121.94,278.15 L1121.26,277.56 L1120.61,276.96 L1120,276.34 L1119.42,275.69 L1118.84,275 L1118.28,274.28 L1117.74,273.55 L1117.22,272.8 L1116.72,272.06 L1116.24,271.31 L1115.79,270.58 L1115.37,269.87 L1114.98,269.16 L1114.61,268.46 L1114.27,267.76 L1113.95,267.07 L1113.65,266.37 L1113.37,265.67 L1113.11,264.97 L1112.88,264.27 L1112.66,263.6 L1112.48,262.94 L1112.31,262.27 L1112.16,261.59 L1112.02,260.88 L1111.9,260.13 L1111.79,259.34 L1111.69,258.49 L1111.62,257.55 L1111.57,256.54 L1111.53,255.49 L1111.49,254.45 L1111.46,253.42 L1111.42,252.45 L1111.37,251.55 L1111.31,250.74 L1111.25,249.96 L1111.18,249.22 L1111.12,248.54 L1111.06,247.92 L1111.01,247.38 L1110.97,246.93 L1110.94,246.58Z" fill="#fff"/>
<path d="M1361.9,169.4 C1363.02,168.29 1366.62,168.17 1368.3,167.8 C1369.98,167.43 1375.18,165.83 1376.3,166.2 C1377.42,166.57 1378.65,170.07 1377.9,171 C1377.15,171.93 1371.02,173.46 1369.9,174.2 C1368.78,174.94 1368.3,176 1368.3,177.3 C1368.3,178.6 1368.97,183.25 1369.9,185.3 C1370.83,187.35 1374.81,193.5 1376.3,194.9 C1377.79,196.3 1381.21,197.02 1382.7,197.3 C1384.19,197.58 1387.61,197.21 1389.1,197.3 C1390.59,197.39 1394.02,197.45 1395.5,198.1 C1396.98,198.75 1400.32,201.97 1401.8,202.9 C1403.28,203.83 1406.52,205.73 1408.2,206.1 C1409.88,206.47 1416.01,205.73 1416.2,206.1 C1416.39,206.47 1411.11,208.37 1409.8,209.3 C1408.49,210.23 1405.65,212.62 1405,214.1 C1404.35,215.58 1404.2,219.96 1404.2,222 C1404.2,224.04 1404.72,229.73 1405,231.6 C1405.28,233.47 1405.85,236.69 1406.6,238 C1407.35,239.31 1409.53,241.87 1411.4,242.8 C1413.27,243.73 1421.11,245.25 1422.6,246 C1424.09,246.75 1424.95,248.83 1424.2,249.2 C1423.45,249.57 1417.69,248.83 1416.2,249.2 C1414.71,249.57 1412.33,251.65 1411.4,252.4 C1410.47,253.15 1409.32,254.67 1408.2,255.6 C1407.08,256.53 1403.47,259.28 1401.8,260.4 C1400.13,261.52 1395.76,264.28 1393.9,265.2 C1392.05,266.12 1387.58,267.56 1385.9,268.3 C1384.22,269.04 1380.81,270.57 1379.5,271.5 C1378.19,272.43 1375.63,274.99 1374.7,276.3 C1373.77,277.61 1372.25,281.39 1371.5,282.7 C1370.75,284.01 1369.42,286.57 1368.3,287.5 C1367.18,288.43 1363.02,290.89 1361.9,290.7 C1360.78,290.51 1359.26,287.21 1358.7,285.9 C1358.14,284.59 1357.85,280.99 1357.1,279.5 C1356.35,278.01 1353.41,274.58 1352.3,273.1 C1351.19,271.62 1348.52,268.28 1347.6,266.8 C1346.68,265.32 1344.68,262.27 1344.4,260.4 C1344.12,258.53 1345.01,253.79 1345.2,250.8 C1345.39,247.81 1345.81,238.52 1346,234.8 C1346.19,231.08 1346.61,222.06 1346.8,218.9 C1346.99,215.74 1347.32,210.13 1347.6,207.7 C1347.88,205.27 1348.65,200.15 1349.2,198.1 C1349.75,196.05 1351.57,191.78 1352.3,190.1 C1353.03,188.42 1354.75,185.19 1355.5,183.7 C1356.25,182.21 1357.95,178.97 1358.7,177.3 C1359.45,175.63 1360.78,170.51 1361.9,169.4Z" fill="#fff" stroke="#cf4b9f" stroke-width="0.9" stroke-opacity="0.7"/>
<path d="M1315.36,186.89 L1314.49,187.41 L1313.35,188.11 L1311.98,188.96 L1310.47,189.92 L1308.89,190.96 L1307.32,192.04 L1305.82,193.13 L1304.48,194.18 L1303.27,195.19 L1302.12,196.21 L1301,197.24 L1299.92,198.31 L1298.87,199.41 L1297.83,200.55 L1296.82,201.75 L1295.82,203.01 L1294.82,204.33 L1293.83,205.71 L1292.86,207.14 L1291.92,208.62 L1291,210.13 L1290.12,211.68 L1289.33,213.27 L1288.63,214.88 L1287.98,216.48 L1287.37,218.09 L1286.81,219.72 L1286.29,221.37 L1285.8,223.04 L1285.35,224.76 L1284.94,226.52 L1284.56,228.33 L1284.2,230.22 L1283.88,232.17 L1283.6,234.17 L1283.34,236.21 L1283.13,238.26 L1282.95,240.32 L1282.81,242.36 L1282.7,244.38 L1282.64,246.38 L1282.61,248.37 L1282.63,250.37 L1282.68,252.35 L1282.76,254.34 L1282.88,256.32 L1283.03,258.31 L1283.21,260.29 L1283.43,262.27 L1283.67,264.25 L1283.94,266.23 L1284.25,268.22 L1284.6,270.2 L1284.98,272.2 L1285.41,274.2 L1285.88,276.19 L1286.39,278.2 L1286.94,280.23 L1287.53,282.29 L1288.16,284.34 L1288.84,286.39 L1289.58,288.4 L1290.39,290.35 L1291.26,292.24 L1292.17,294.06 L1293.12,295.83 L1294.11,297.55 L1295.15,299.22 L1296.23,300.85 L1297.35,302.44 L1298.51,303.98 L1299.71,305.48 L1300.95,306.94 L1302.23,308.37 L1303.55,309.75 L1304.91,311.09 L1306.32,312.39 L1307.76,313.64 L1309.24,314.84 L1310.76,316 L1312.31,317.11 L1313.9,318.17 L1315.53,319.18 L1317.19,320.15 L1318.89,321.07 L1320.63,321.96 L1322.41,322.8 L1324.22,323.6 L1326.1,324.36 L1328.04,325.07 L1330.02,325.74 L1332.03,326.37 L1334.05,326.96 L1336.08,327.51 L1338.09,328.03 L1340.08,328.52 L1342.08,328.98 L1344.11,329.39 L1346.14,329.76 L1348.17,330.1 L1350.16,330.41 L1352.12,330.71 L1354.02,330.99 L1355.85,331.27 L1357.69,331.55 L1359.59,331.82 L1361.48,332.08 L1363.32,332.33 L1365.03,332.55 L1366.55,332.73 L1367.84,332.89 L1368.82,332.99 L1368.98,332.01 L1368.01,331.8 L1366.74,331.56 L1365.23,331.28 L1363.53,330.96 L1361.72,330.62 L1359.85,330.27 L1357.97,329.9 L1356.15,329.53 L1354.34,329.16 L1352.46,328.78 L1350.52,328.4 L1348.56,327.99 L1346.58,327.56 L1344.6,327.11 L1342.65,326.61 L1340.72,326.08 L1338.79,325.51 L1336.84,324.9 L1334.88,324.27 L1332.93,323.61 L1331.01,322.91 L1329.14,322.18 L1327.32,321.41 L1325.58,320.6 L1323.89,319.76 L1322.24,318.87 L1320.63,317.95 L1319.07,317 L1317.55,316.01 L1316.07,314.98 L1314.64,313.91 L1313.24,312.8 L1311.88,311.65 L1310.57,310.46 L1309.29,309.23 L1308.05,307.96 L1306.85,306.65 L1305.69,305.31 L1304.57,303.93 L1303.49,302.52 L1302.46,301.07 L1301.46,299.59 L1300.5,298.08 L1299.59,296.53 L1298.71,294.94 L1297.88,293.32 L1297.09,291.66 L1296.34,289.96 L1295.64,288.2 L1294.97,286.38 L1294.32,284.5 L1293.69,282.58 L1293.09,280.64 L1292.53,278.68 L1292,276.73 L1291.52,274.81 L1291.07,272.92 L1290.67,271.04 L1290.3,269.16 L1289.97,267.27 L1289.68,265.39 L1289.42,263.5 L1289.19,261.61 L1288.99,259.71 L1288.81,257.82 L1288.67,255.93 L1288.55,254.04 L1288.47,252.16 L1288.43,250.27 L1288.41,248.39 L1288.44,246.51 L1288.5,244.62 L1288.6,242.71 L1288.73,240.77 L1288.9,238.82 L1289.11,236.87 L1289.34,234.94 L1289.61,233.05 L1289.92,231.22 L1290.24,229.47 L1290.6,227.78 L1290.98,226.16 L1291.4,224.58 L1291.84,223.05 L1292.31,221.54 L1292.83,220.06 L1293.38,218.59 L1293.97,217.12 L1294.61,215.66 L1295.27,214.18 L1295.91,212.68 L1296.6,211.19 L1297.31,209.73 L1298.05,208.3 L1298.81,206.92 L1299.58,205.59 L1300.36,204.32 L1301.15,203.11 L1301.96,201.94 L1302.79,200.8 L1303.66,199.69 L1304.57,198.6 L1305.52,197.51 L1306.52,196.42 L1307.65,195.3 L1308.96,194.13 L1310.37,192.93 L1311.8,191.75 L1313.18,190.65 L1314.44,189.64 L1315.48,188.78 L1316.24,188.11Z" fill="#fff"/>
<text transform="translate(3,496.1) scale(1,1.08)" font-size="31" font-weight="bold" >d</text>
<line x1="122.2" y1="557.5" x2="122.2" y2="823.8" stroke="#000" stroke-width="3.0" />
<line x1="121" y1="822.6" x2="452.3" y2="822.6" stroke="#000" stroke-width="3.0" />
<line x1="116.7" y1="822.6" x2="122.2" y2="822.6" stroke="#000" stroke-width="3.0" />
<text transform="translate(106.8,832.2) scale(1,1.08)" font-size="27" text-anchor="end" >0</text>
<line x1="116.7" y1="734.3" x2="122.2" y2="734.3" stroke="#000" stroke-width="3.0" />
<text transform="translate(106.8,743.9) scale(1,1.08)" font-size="27" text-anchor="end" >20</text>
<line x1="116.7" y1="646" x2="122.2" y2="646" stroke="#000" stroke-width="3.0" />
<text transform="translate(106.8,655.6) scale(1,1.08)" font-size="27" text-anchor="end" >40</text>
<line x1="116.7" y1="557.7" x2="122.2" y2="557.7" stroke="#000" stroke-width="3.0" />
<text transform="translate(106.8,567.3) scale(1,1.08)" font-size="27" text-anchor="end" >60</text>
<text transform="translate(191.7,856.9) scale(1,1.08)" font-size="27" text-anchor="middle" >3</text>
<text transform="translate(299,856.9) scale(1,1.08)" font-size="27" text-anchor="middle" >4</text>
<text transform="translate(405.3,856.9) scale(1,1.08)" font-size="27" text-anchor="middle" >5</text>
<text transform="translate(299.9,892.1) scale(1,1.08)" font-size="27.1" text-anchor="middle" >Age (weeks)</text>
<text transform="translate(40.5,689.6) rotate(-90) scale(1,1.08)" font-size="27" text-anchor="middle">FS (%)</text>
<path d="M156.2,822.6 V682 H186.6 V822.6" fill="#fff" stroke="#0808ff" stroke-width="2.7"/>
<path d="M171.4,646 V718 M162.9,646 H179.9 M162.9,718 H179.9" fill="none" stroke="#0808ff" stroke-width="2.6"/>
<path d="M197.2,822.6 V776.4 H228.6 V822.6" fill="#fff" stroke="#ff140a" stroke-width="2.7"/>
<path d="M212.9,730.1 V818.7 M204.4,730.1 H221.4 M204.4,818.7 H221.4" fill="none" stroke="#ff140a" stroke-width="2.6"/>
<circle cx="171.3" cy="605.9" r="5.0" fill="#fff" stroke="#000" stroke-width="3.1"/>
<circle cx="171.3" cy="625.7" r="5.0" fill="#fff" stroke="#000" stroke-width="3.1"/>
<circle cx="160.2" cy="675.9" r="5.0" fill="#fff" stroke="#000" stroke-width="3.1"/>
<circle cx="166" cy="676.7" r="5.0" fill="#fff" stroke="#000" stroke-width="3.1"/>
<circle cx="178.7" cy="675.9" r="5.0" fill="#fff" stroke="#000" stroke-width="3.1"/>
<circle cx="184" cy="675.9" r="5.0" fill="#fff" stroke="#000" stroke-width="3.1"/>
<circle cx="171.3" cy="683" r="5.0" fill="#fff" stroke="#000" stroke-width="3.1"/>
<circle cx="166" cy="697.8" r="5.0" fill="#fff" stroke="#000" stroke-width="3.1"/>
<circle cx="178.7" cy="703.1" r="5.0" fill="#fff" stroke="#000" stroke-width="3.1"/>
<circle cx="171.3" cy="707.6" r="5.0" fill="#fff" stroke="#000" stroke-width="3.1"/>
<circle cx="177.9" cy="713.7" r="5.0" fill="#fff" stroke="#000" stroke-width="3.1"/>
<circle cx="166" cy="720" r="5.0" fill="#fff" stroke="#000" stroke-width="3.1"/>
<circle cx="213" cy="678.6" r="5.0" fill="#fff" stroke="#000" stroke-width="3.1"/>
<circle cx="213" cy="698.9" r="5.0" fill="#fff" stroke="#000" stroke-width="3.1"/>
<circle cx="213" cy="740.6" r="5.0" fill="#fff" stroke="#000" stroke-width="3.1"/>
<circle cx="217.5" cy="782.3" r="5.0" fill="#fff" stroke="#000" stroke-width="3.1"/>
<circle cx="201.7" cy="790.8" r="5.0" fill="#fff" stroke="#000" stroke-width="3.1"/>
<circle cx="209.1" cy="788.1" r="5.0" fill="#fff" stroke="#000" stroke-width="3.1"/>
<circle cx="217.5" cy="794.7" r="5.0" fill="#fff" stroke="#000" stroke-width="3.1"/>
<circle cx="201.7" cy="802.6" r="5.0" fill="#fff" stroke="#000" stroke-width="3.1"/>
<circle cx="209.1" cy="801.3" r="5.0" fill="#fff" stroke="#000" stroke-width="3.1"/>
<circle cx="225.4" cy="801.3" r="5.0" fill="#fff" stroke="#000" stroke-width="3.1"/>
<circle cx="216.2" cy="805.2" r="5.0" fill="#fff" stroke="#000" stroke-width="3.1"/>
<circle cx="209.1" cy="813.1" r="5.0" fill="#fff" stroke="#000" stroke-width="3.1"/>
<path d="M171.5,564.8 V552 H215.7 V564.8" fill="none" stroke="#000" stroke-width="2.8"/>
<text transform="translate(133.2,538.1) scale(1,1.08)" font-size="22"><tspan font-style="italic">P</tspan><tspan> = 6.7x10</tspan><tspan font-size="15" dy="-8.61">-6</tspan></text>
<path d="M263.7,822.6 V697.4 H293.6 V822.6" fill="#fff" stroke="#0808ff" stroke-width="2.7"/>
<path d="M278.65,681.6 V713.2 M270.15,681.6 H287.15 M270.15,713.2 H287.15" fill="none" stroke="#0808ff" stroke-width="2.6"/>
<path d="M305.5,822.6 V784.8 H335.9 V822.6" fill="#fff" stroke="#ff140a" stroke-width="2.7"/>
<path d="M320.7,753.4 V813.4 M312.2,753.4 H329.2 M312.2,813.4 H329.2" fill="none" stroke="#ff140a" stroke-width="2.6"/>
<circle cx="281.6" cy="670.4" r="5.0" fill="#fff" stroke="#000" stroke-width="3.1"/>
<circle cx="275.4" cy="673.9" r="5.0" fill="#fff" stroke="#000" stroke-width="3.1"/>
<circle cx="278.9" cy="684.7" r="5.0" fill="#fff" stroke="#000" stroke-width="3.1"/>
<circle cx="273.1" cy="690.8" r="5.0" fill="#fff" stroke="#000" stroke-width="3.1"/>
<circle cx="267.3" cy="698.2" r="5.0" fill="#fff" stroke="#000" stroke-width="3.1"/>
<circle cx="278.9" cy="696.2" r="5.0" fill="#fff" stroke="#000" stroke-width="3.1"/>
<circle cx="285.8" cy="694.7" r="5.0" fill="#fff" stroke="#000" stroke-width="3.1"/>
<circle cx="292" cy="697.8" r="5.0" fill="#fff" stroke="#000" stroke-width="3.1"/>
<circle cx="278.9" cy="706.3" r="5.0" fill="#fff" stroke="#000" stroke-width="3.1"/>
<circle cx="272.3" cy="718.2" r="5.0" fill="#fff" stroke="#000" stroke-width="3.1"/>
<circle cx="278.1" cy="717" r="5.0" fill="#fff" stroke="#000" stroke-width="3.1"/>
<circle cx="284.7" cy="718.2" r="5.0" fill="#fff" stroke="#000" stroke-width="3.1"/>
<circle cx="320" cy="718.7" r="5.0" fill="#fff" stroke="#000" stroke-width="3.1"/>
<circle cx="320" cy="736.2" r="5.0" fill="#fff" stroke="#000" stroke-width="3.1"/>
<circle cx="320" cy="757.3" r="5.0" fill="#fff" stroke="#000" stroke-width="3.1"/>
<circle cx="320" cy="777.7" r="5.0" fill="#fff" stroke="#000" stroke-width="3.1"/>
<circle cx="318.2" cy="793.5" r="5.0" fill="#fff" stroke="#000" stroke-width="3.1"/>
<circle cx="313.4" cy="797.5" r="5.0" fill="#fff" stroke="#000" stroke-width="3.1"/>
<circle cx="322.7" cy="800.2" r="5.0" fill="#fff" stroke="#000" stroke-width="3.1"/>
<circle cx="308.7" cy="806.2" r="5.0" fill="#fff" stroke="#000" stroke-width="3.1"/>
<circle cx="317.4" cy="805.4" r="5.0" fill="#fff" stroke="#000" stroke-width="3.1"/>
<circle cx="332" cy="801.5" r="5.0" fill="#fff" stroke="#000" stroke-width="3.1"/>
<circle cx="328" cy="808.9" r="5.0" fill="#fff" stroke="#000" stroke-width="3.1"/>
<circle cx="316.1" cy="810.7" r="5.0" fill="#fff" stroke="#000" stroke-width="3.1"/>
<path d="M278.1,604 V590.4 H321.9 V604" fill="none" stroke="#000" stroke-width="2.8"/>
<text transform="translate(239.2,576.8) scale(1,1.08)" font-size="22"><tspan font-style="italic">P</tspan><tspan> = 1.2x10</tspan><tspan font-size="15" dy="-8.61">-8</tspan></text>
<path d="M371.2,822.6 V700.1 H402.1 V822.6" fill="#fff" stroke="#0808ff" stroke-width="2.7"/>
<path d="M386.65,682 V718.2 M378.15,682 H395.15 M378.15,718.2 H395.15" fill="none" stroke="#0808ff" stroke-width="2.6"/>
<path d="M412.7,822.6 V796.2 H443.6 V822.6" fill="#fff" stroke="#ff140a" stroke-width="2.7"/>
<path d="M428.15,772.4 V796.2 M419.65,772.4 H436.65" fill="none" stroke="#ff140a" stroke-width="2.6"/>
<circle cx="385.5" cy="657.4" r="5.0" fill="#fff" stroke="#000" stroke-width="3.1"/>
<circle cx="384.4" cy="682.5" r="5.0" fill="#fff" stroke="#000" stroke-width="3.1"/>
<circle cx="388.9" cy="689.1" r="5.0" fill="#fff" stroke="#000" stroke-width="3.1"/>
<circle cx="394.2" cy="694.4" r="5.0" fill="#fff" stroke="#000" stroke-width="3.1"/>
<circle cx="379.7" cy="701" r="5.0" fill="#fff" stroke="#000" stroke-width="3.1"/>
<circle cx="374.4" cy="705.5" r="5.0" fill="#fff" stroke="#000" stroke-width="3.1"/>
<circle cx="388.9" cy="703.7" r="5.0" fill="#fff" stroke="#000" stroke-width="3.1"/>
<circle cx="399.5" cy="706.3" r="5.0" fill="#fff" stroke="#000" stroke-width="3.1"/>
<circle cx="384.4" cy="710.3" r="5.0" fill="#fff" stroke="#000" stroke-width="3.1"/>
<circle cx="394.2" cy="708.2" r="5.0" fill="#fff" stroke="#000" stroke-width="3.1"/>
<circle cx="388.9" cy="715.6" r="5.0" fill="#fff" stroke="#000" stroke-width="3.1"/>
<circle cx="384.4" cy="725.3" r="5.0" fill="#fff" stroke="#000" stroke-width="3.1"/>
<circle cx="428.6" cy="747.8" r="5.0" fill="#fff" stroke="#000" stroke-width="3.1"/>
<circle cx="434.6" cy="772.4" r="5.0" fill="#fff" stroke="#000" stroke-width="3.1"/>
<circle cx="428.6" cy="778.2" r="5.0" fill="#fff" stroke="#000" stroke-width="3.1"/>
<circle cx="421.9" cy="784.3" r="5.0" fill="#fff" stroke="#000" stroke-width="3.1"/>
<circle cx="416.7" cy="791.4" r="5.0" fill="#fff" stroke="#000" stroke-width="3.1"/>
<circle cx="427.2" cy="793.5" r="5.0" fill="#fff" stroke="#000" stroke-width="3.1"/>
<circle cx="439.9" cy="793" r="5.0" fill="#fff" stroke="#000" stroke-width="3.1"/>
<circle cx="421.9" cy="798.8" r="5.0" fill="#fff" stroke="#000" stroke-width="3.1"/>
<circle cx="433" cy="800.9" r="5.0" fill="#fff" stroke="#000" stroke-width="3.1"/>
<circle cx="416.7" cy="806.2" r="5.0" fill="#fff" stroke="#000" stroke-width="3.1"/>
<circle cx="427.2" cy="803.6" r="5.0" fill="#fff" stroke="#000" stroke-width="3.1"/>
<circle cx="439.9" cy="808.1" r="5.0" fill="#fff" stroke="#000" stroke-width="3.1"/>
<path d="M386.3,645.5 V631.8 H431.2 V645.5" fill="none" stroke="#000" stroke-width="2.8"/>
<text transform="translate(345.8,616.4) scale(1,1.08)" font-size="22"><tspan font-style="italic">P</tspan><tspan> = 1.6x10</tspan><tspan font-size="15" dy="-8.61">-11</tspan></text>
<text transform="translate(486.3,496.4) scale(1,1.08)" font-size="31" font-weight="bold" >e</text>
<line x1="617.1" y1="563.1" x2="617.1" y2="827.9" stroke="#000" stroke-width="3.0" />
<line x1="615.9" y1="826.7" x2="947" y2="826.7" stroke="#000" stroke-width="3.0" />
<line x1="611.6" y1="826.7" x2="617.1" y2="826.7" stroke="#000" stroke-width="3.0" />
<text transform="translate(601.2,836.3) scale(1,1.08)" font-size="27" text-anchor="end" >0</text>
<line x1="611.6" y1="767.9" x2="617.1" y2="767.9" stroke="#000" stroke-width="3.0" />
<text transform="translate(601.2,777.5) scale(1,1.08)" font-size="27" text-anchor="end" >20</text>
<line x1="611.6" y1="709.1" x2="617.1" y2="709.1" stroke="#000" stroke-width="3.0" />
<text transform="translate(601.2,718.7) scale(1,1.08)" font-size="27" text-anchor="end" >40</text>
<line x1="611.6" y1="650.3" x2="617.1" y2="650.3" stroke="#000" stroke-width="3.0" />
<text transform="translate(601.2,659.9) scale(1,1.08)" font-size="27" text-anchor="end" >60</text>
<line x1="611.6" y1="591.5" x2="617.1" y2="591.5" stroke="#000" stroke-width="3.0" />
<text transform="translate(601.2,601.1) scale(1,1.08)" font-size="27" text-anchor="end" >80</text>
<text transform="translate(683.9,860.8) scale(1,1.08)" font-size="27" text-anchor="middle" >3</text>
<text transform="translate(791.9,860.8) scale(1,1.08)" font-size="27" text-anchor="middle" >4</text>
<text transform="translate(900.6,860.8) scale(1,1.08)" font-size="27" text-anchor="middle" >5</text>
<text transform="translate(794.6,894.3) scale(1,1.08)" font-size="27.1" text-anchor="middle" >Age (weeks)</text>
<text transform="translate(540.5,692.2) rotate(-90) scale(1,1.08)" font-size="27" text-anchor="middle">EF (%)</text>
<path d="M650.9,826.7 V646.6 H681.8 V826.7" fill="#fff" stroke="#0808ff" stroke-width="2.7"/>
<path d="M666.35,614.4 V678.8 M657.85,614.4 H674.85 M657.85,678.8 H674.85" fill="none" stroke="#0808ff" stroke-width="2.6"/>
<path d="M692.2,826.7 V760.8 H723 V826.7" fill="#fff" stroke="#ff140a" stroke-width="2.7"/>
<path d="M707.6,703 V815.9 M699.1,703 H716.1 M699.1,815.9 H716.1" fill="none" stroke="#ff140a" stroke-width="2.6"/>
<circle cx="666.6" cy="583" r="5.0" fill="#fff" stroke="#000" stroke-width="3.1"/>
<circle cx="666.6" cy="596.5" r="5.0" fill="#fff" stroke="#000" stroke-width="3.1"/>
<circle cx="654.5" cy="637.8" r="5.0" fill="#fff" stroke="#000" stroke-width="3.1"/>
<circle cx="661.1" cy="639.2" r="5.0" fill="#fff" stroke="#000" stroke-width="3.1"/>
<circle cx="672.9" cy="639.2" r="5.0" fill="#fff" stroke="#000" stroke-width="3.1"/>
<circle cx="678.4" cy="639.2" r="5.0" fill="#fff" stroke="#000" stroke-width="3.1"/>
<circle cx="666.6" cy="646.6" r="5.0" fill="#fff" stroke="#000" stroke-width="3.1"/>
<circle cx="661.1" cy="662" r="5.0" fill="#fff" stroke="#000" stroke-width="3.1"/>
<circle cx="672.9" cy="664" r="5.0" fill="#fff" stroke="#000" stroke-width="3.1"/>
<circle cx="666.6" cy="670.8" r="5.0" fill="#fff" stroke="#000" stroke-width="3.1"/>
<circle cx="672.9" cy="678.3" r="5.0" fill="#fff" stroke="#000" stroke-width="3.1"/>
<circle cx="661.1" cy="685.1" r="5.0" fill="#fff" stroke="#000" stroke-width="3.1"/>
<circle cx="707.9" cy="640.6" r="5.0" fill="#fff" stroke="#000" stroke-width="3.1"/>
<circle cx="707.9" cy="663.1" r="5.0" fill="#fff" stroke="#000" stroke-width="3.1"/>
<circle cx="707.9" cy="711.3" r="5.0" fill="#fff" stroke="#000" stroke-width="3.1"/>
<circle cx="704" cy="768" r="5.0" fill="#fff" stroke="#000" stroke-width="3.1"/>
<circle cx="695.8" cy="774.6" r="5.0" fill="#fff" stroke="#000" stroke-width="3.1"/>
<circle cx="711.5" cy="777.6" r="5.0" fill="#fff" stroke="#000" stroke-width="3.1"/>
<circle cx="719.7" cy="784.2" r="5.0" fill="#fff" stroke="#000" stroke-width="3.1"/>
<circle cx="695.8" cy="792.5" r="5.0" fill="#fff" stroke="#000" stroke-width="3.1"/>
<circle cx="704" cy="796.1" r="5.0" fill="#fff" stroke="#000" stroke-width="3.1"/>
<circle cx="711.5" cy="794.1" r="5.0" fill="#fff" stroke="#000" stroke-width="3.1"/>
<circle cx="719.2" cy="800.2" r="5.0" fill="#fff" stroke="#000" stroke-width="3.1"/>
<circle cx="707.9" cy="810.7" r="5.0" fill="#fff" stroke="#000" stroke-width="3.1"/>
<path d="M666.3,551.2 V537.5 H710.7 V551.2" fill="none" stroke="#000" stroke-width="2.8"/>
<text transform="translate(629.2,523.6) scale(1,1.08)" font-size="22"><tspan font-style="italic">P</tspan><tspan> = 3.4x10</tspan><tspan font-size="15" dy="-8.61">-6</tspan></text>
<path d="M758.7,826.7 V662.6 H789 V826.7" fill="#fff" stroke="#0808ff" stroke-width="2.7"/>
<path d="M773.85,644.7 V677.7 M765.35,644.7 H782.35 M765.35,677.7 H782.35" fill="none" stroke="#0808ff" stroke-width="2.6"/>
<path d="M800,826.7 V770.5 H830.3 V826.7" fill="#fff" stroke="#ff140a" stroke-width="2.7"/>
<path d="M815.15,730 V808.5 M806.65,730 H823.65 M806.65,808.5 H823.65" fill="none" stroke="#ff140a" stroke-width="2.6"/>
<circle cx="768.4" cy="632.8" r="5.0" fill="#fff" stroke="#000" stroke-width="3.1"/>
<circle cx="779.9" cy="638.4" r="5.0" fill="#fff" stroke="#000" stroke-width="3.1"/>
<circle cx="774.4" cy="646.1" r="5.0" fill="#fff" stroke="#000" stroke-width="3.1"/>
<circle cx="767.5" cy="655.7" r="5.0" fill="#fff" stroke="#000" stroke-width="3.1"/>
<circle cx="779.9" cy="657.1" r="5.0" fill="#fff" stroke="#000" stroke-width="3.1"/>
<circle cx="762" cy="662" r="5.0" fill="#fff" stroke="#000" stroke-width="3.1"/>
<circle cx="774.4" cy="660.7" r="5.0" fill="#fff" stroke="#000" stroke-width="3.1"/>
<circle cx="785.4" cy="662" r="5.0" fill="#fff" stroke="#000" stroke-width="3.1"/>
<circle cx="774.4" cy="670.8" r="5.0" fill="#fff" stroke="#000" stroke-width="3.1"/>
<circle cx="768.4" cy="684" r="5.0" fill="#fff" stroke="#000" stroke-width="3.1"/>
<circle cx="774.4" cy="682.4" r="5.0" fill="#fff" stroke="#000" stroke-width="3.1"/>
<circle cx="779.9" cy="682.4" r="5.0" fill="#fff" stroke="#000" stroke-width="3.1"/>
<circle cx="815.1" cy="686.5" r="5.0" fill="#fff" stroke="#000" stroke-width="3.1"/>
<circle cx="815.1" cy="707.2" r="5.0" fill="#fff" stroke="#000" stroke-width="3.1"/>
<circle cx="815.1" cy="732.2" r="5.0" fill="#fff" stroke="#000" stroke-width="3.1"/>
<circle cx="815.1" cy="761.1" r="5.0" fill="#fff" stroke="#000" stroke-width="3.1"/>
<circle cx="803.9" cy="780.1" r="5.0" fill="#fff" stroke="#000" stroke-width="3.1"/>
<circle cx="819.3" cy="787" r="5.0" fill="#fff" stroke="#000" stroke-width="3.1"/>
<circle cx="827.5" cy="787" r="5.0" fill="#fff" stroke="#000" stroke-width="3.1"/>
<circle cx="802.8" cy="793.3" r="5.0" fill="#fff" stroke="#000" stroke-width="3.1"/>
<circle cx="811" cy="793.3" r="5.0" fill="#fff" stroke="#000" stroke-width="3.1"/>
<circle cx="827.5" cy="797.5" r="5.0" fill="#fff" stroke="#000" stroke-width="3.1"/>
<circle cx="819.3" cy="801.6" r="5.0" fill="#fff" stroke="#000" stroke-width="3.1"/>
<circle cx="803.9" cy="804.3" r="5.0" fill="#fff" stroke="#000" stroke-width="3.1"/>
<path d="M772.4,580.7 V567.3 H817.3 V580.7" fill="none" stroke="#000" stroke-width="2.8"/>
<text transform="translate(734.8,553.6) scale(1,1.08)" font-size="22"><tspan font-style="italic">P</tspan><tspan> = 1.4x10</tspan><tspan font-size="15" dy="-8.61">-8</tspan></text>
<path d="M866.7,826.7 V665.5 H897 V826.7" fill="#fff" stroke="#0808ff" stroke-width="2.7"/>
<path d="M881.85,647.5 V683.4 M873.35,647.5 H890.35 M873.35,683.4 H890.35" fill="none" stroke="#0808ff" stroke-width="2.6"/>
<path d="M907.4,826.7 V778.2 H937.7 V826.7" fill="#fff" stroke="#ff140a" stroke-width="2.7"/>
<path d="M922.55,753.4 V778.2 M914.05,753.4 H931.05" fill="none" stroke="#ff140a" stroke-width="2.6"/>
<circle cx="881.3" cy="623.9" r="5.0" fill="#fff" stroke="#000" stroke-width="3.1"/>
<circle cx="883.8" cy="647.7" r="5.0" fill="#fff" stroke="#000" stroke-width="3.1"/>
<circle cx="878.3" cy="652.7" r="5.0" fill="#fff" stroke="#000" stroke-width="3.1"/>
<circle cx="874.3" cy="657.6" r="5.0" fill="#fff" stroke="#000" stroke-width="3.1"/>
<circle cx="869.9" cy="667.5" r="5.0" fill="#fff" stroke="#000" stroke-width="3.1"/>
<circle cx="874.3" cy="672" r="5.0" fill="#fff" stroke="#000" stroke-width="3.1"/>
<circle cx="883.3" cy="672.5" r="5.0" fill="#fff" stroke="#000" stroke-width="3.1"/>
<circle cx="888.7" cy="665.6" r="5.0" fill="#fff" stroke="#000" stroke-width="3.1"/>
<circle cx="893.2" cy="671.5" r="5.0" fill="#fff" stroke="#000" stroke-width="3.1"/>
<circle cx="878.8" cy="677.5" r="5.0" fill="#fff" stroke="#000" stroke-width="3.1"/>
<circle cx="888.2" cy="683.4" r="5.0" fill="#fff" stroke="#000" stroke-width="3.1"/>
<circle cx="881.3" cy="691.8" r="5.0" fill="#fff" stroke="#000" stroke-width="3.1"/>
<circle cx="922.6" cy="720.4" r="5.0" fill="#fff" stroke="#000" stroke-width="3.1"/>
<circle cx="919.3" cy="752.9" r="5.0" fill="#fff" stroke="#000" stroke-width="3.1"/>
<circle cx="926.7" cy="761.1" r="5.0" fill="#fff" stroke="#000" stroke-width="3.1"/>
<circle cx="918.4" cy="768.5" r="5.0" fill="#fff" stroke="#000" stroke-width="3.1"/>
<circle cx="911" cy="782.3" r="5.0" fill="#fff" stroke="#000" stroke-width="3.1"/>
<circle cx="919.3" cy="780.4" r="5.0" fill="#fff" stroke="#000" stroke-width="3.1"/>
<circle cx="934.1" cy="782.3" r="5.0" fill="#fff" stroke="#000" stroke-width="3.1"/>
<circle cx="911" cy="792.5" r="5.0" fill="#fff" stroke="#000" stroke-width="3.1"/>
<circle cx="926.7" cy="790.6" r="5.0" fill="#fff" stroke="#000" stroke-width="3.1"/>
<circle cx="934.1" cy="797.5" r="5.0" fill="#fff" stroke="#000" stroke-width="3.1"/>
<circle cx="926.7" cy="800.2" r="5.0" fill="#fff" stroke="#000" stroke-width="3.1"/>
<circle cx="911" cy="803.5" r="5.0" fill="#fff" stroke="#000" stroke-width="3.1"/>
<path d="M881.1,610 V596.8 H925.3 V610" fill="none" stroke="#000" stroke-width="2.8"/>
<text transform="translate(839.4,583.1) scale(1,1.08)" font-size="22"><tspan font-style="italic">P</tspan><tspan> = 7.3x10</tspan><tspan font-size="15" dy="-8.61">-11</tspan></text>
<text transform="translate(997.2,496.1) scale(1,1.08)" font-size="31" font-weight="bold" >f</text>
<line x1="1141" y1="557.9" x2="1141" y2="823.8" stroke="#000" stroke-width="3.0" />
<line x1="1139.8" y1="822.6" x2="1470.4" y2="822.6" stroke="#000" stroke-width="3.0" />
<line x1="1135.5" y1="822.6" x2="1141" y2="822.6" stroke="#000" stroke-width="3.0" />
<text transform="translate(1125.8,832.2) scale(1,1.08)" font-size="27" text-anchor="end" >0</text>
<line x1="1135.5" y1="690.5" x2="1141" y2="690.5" stroke="#000" stroke-width="3.0" />
<text transform="translate(1125.8,700.1) scale(1,1.08)" font-size="27" text-anchor="end" >5</text>
<line x1="1135.5" y1="558.4" x2="1141" y2="558.4" stroke="#000" stroke-width="3.0" />
<text transform="translate(1125.8,568) scale(1,1.08)" font-size="27" text-anchor="end" >10</text>
<text transform="translate(1210.8,851.8) scale(1,1.08)" font-size="27" text-anchor="middle" >3</text>
<text transform="translate(1318.3,851.8) scale(1,1.08)" font-size="27" text-anchor="middle" >4</text>
<text transform="translate(1424.2,851.8) scale(1,1.08)" font-size="27" text-anchor="middle" >5</text>
<text transform="translate(1319,890.3) scale(1,1.08)" font-size="27.1" text-anchor="middle" >Age (weeks)</text>
<text transform="translate(1073.9,689.5) rotate(-90) scale(1,1.08)" font-size="27" text-anchor="middle">LVIDd (mm)</text>
<path d="M1175.6,822.6 V751.2 H1205.3 V822.6" fill="#fff" stroke="#0808ff" stroke-width="2.7"/>
<path d="M1190.45,746 V756 M1181.95,746 H1198.95 M1181.95,756 H1198.95" fill="none" stroke="#0808ff" stroke-width="2.6"/>
<path d="M1216.8,822.6 V702.5 H1246.9 V822.6" fill="#fff" stroke="#ff140a" stroke-width="2.7"/>
<path d="M1231.85,675.8 V728.1 M1223.35,675.8 H1240.35 M1223.35,728.1 H1240.35" fill="none" stroke="#ff140a" stroke-width="2.6"/>
<circle cx="1179.9" cy="739.6" r="5.0" fill="#fff" stroke="#000" stroke-width="3.1"/>
<circle cx="1201.9" cy="738.8" r="5.0" fill="#fff" stroke="#000" stroke-width="3.1"/>
<circle cx="1196.4" cy="742.4" r="5.0" fill="#fff" stroke="#000" stroke-width="3.1"/>
<circle cx="1188.2" cy="745.2" r="5.0" fill="#fff" stroke="#000" stroke-width="3.1"/>
<circle cx="1178.5" cy="752" r="5.0" fill="#fff" stroke="#000" stroke-width="3.1"/>
<circle cx="1193.7" cy="748.5" r="5.0" fill="#fff" stroke="#000" stroke-width="3.1"/>
<circle cx="1199.2" cy="752" r="5.0" fill="#fff" stroke="#000" stroke-width="3.1"/>
<circle cx="1188.2" cy="754.2" r="5.0" fill="#fff" stroke="#000" stroke-width="3.1"/>
<circle cx="1182.7" cy="763" r="5.0" fill="#fff" stroke="#000" stroke-width="3.1"/>
<circle cx="1192.3" cy="761.7" r="5.0" fill="#fff" stroke="#000" stroke-width="3.1"/>
<circle cx="1199.2" cy="761.7" r="5.0" fill="#fff" stroke="#000" stroke-width="3.1"/>
<circle cx="1228.1" cy="667.5" r="5.0" fill="#fff" stroke="#000" stroke-width="3.1"/>
<circle cx="1235" cy="667.5" r="5.0" fill="#fff" stroke="#000" stroke-width="3.1"/>
<circle cx="1236.3" cy="684" r="5.0" fill="#fff" stroke="#000" stroke-width="3.1"/>
<circle cx="1244" cy="688.7" r="5.0" fill="#fff" stroke="#000" stroke-width="3.1"/>
<circle cx="1228.1" cy="692.3" r="5.0" fill="#fff" stroke="#000" stroke-width="3.1"/>
<circle cx="1219.8" cy="697.8" r="5.0" fill="#fff" stroke="#000" stroke-width="3.1"/>
<circle cx="1235.8" cy="696.2" r="5.0" fill="#fff" stroke="#000" stroke-width="3.1"/>
<circle cx="1227.5" cy="703.3" r="5.0" fill="#fff" stroke="#000" stroke-width="3.1"/>
<circle cx="1235.8" cy="710.7" r="5.0" fill="#fff" stroke="#000" stroke-width="3.1"/>
<circle cx="1231.4" cy="726.4" r="5.0" fill="#fff" stroke="#000" stroke-width="3.1"/>
<circle cx="1236.3" cy="741.8" r="5.0" fill="#fff" stroke="#000" stroke-width="3.1"/>
<circle cx="1228.1" cy="748.5" r="5.0" fill="#fff" stroke="#000" stroke-width="3.1"/>
<path d="M1190.4,639.2 V626.8 H1235 V639.2" fill="none" stroke="#000" stroke-width="2.8"/>
<text transform="translate(1153.4,613.1) scale(1,1.08)" font-size="22"><tspan font-style="italic">P</tspan><tspan> = 4.1x10</tspan><tspan font-size="15" dy="-8.61">-6</tspan></text>
<path d="M1283,822.6 V740.3 H1312.9 V822.6" fill="#fff" stroke="#0808ff" stroke-width="2.7"/>
<path d="M1297.95,736 V745 M1289.45,736 H1306.45 M1289.45,745 H1306.45" fill="none" stroke="#0808ff" stroke-width="2.6"/>
<path d="M1324.4,822.6 V693 H1354.3 V822.6" fill="#fff" stroke="#ff140a" stroke-width="2.7"/>
<path d="M1339.35,666 V716.9 M1330.85,666 H1347.85 M1330.85,716.9 H1347.85" fill="none" stroke="#ff140a" stroke-width="2.6"/>
<circle cx="1285.5" cy="735.6" r="5.0" fill="#fff" stroke="#000" stroke-width="3.1"/>
<circle cx="1293.8" cy="732.9" r="5.0" fill="#fff" stroke="#000" stroke-width="3.1"/>
<circle cx="1298.7" cy="731.2" r="5.0" fill="#fff" stroke="#000" stroke-width="3.1"/>
<circle cx="1303.4" cy="734" r="5.0" fill="#fff" stroke="#000" stroke-width="3.1"/>
<circle cx="1291" cy="741.1" r="5.0" fill="#fff" stroke="#000" stroke-width="3.1"/>
<circle cx="1298.7" cy="740.3" r="5.0" fill="#fff" stroke="#000" stroke-width="3.1"/>
<circle cx="1310.3" cy="741.1" r="5.0" fill="#fff" stroke="#000" stroke-width="3.1"/>
<circle cx="1303.4" cy="749.4" r="5.0" fill="#fff" stroke="#000" stroke-width="3.1"/>
<circle cx="1293.8" cy="754.9" r="5.0" fill="#fff" stroke="#000" stroke-width="3.1"/>
<circle cx="1351" cy="653.6" r="5.0" fill="#fff" stroke="#000" stroke-width="3.1"/>
<circle cx="1339.2" cy="661.8" r="5.0" fill="#fff" stroke="#000" stroke-width="3.1"/>
<circle cx="1328.2" cy="665.4" r="5.0" fill="#fff" stroke="#000" stroke-width="3.1"/>
<circle cx="1328.2" cy="680.3" r="5.0" fill="#fff" stroke="#000" stroke-width="3.1"/>
<circle cx="1339.2" cy="680.3" r="5.0" fill="#fff" stroke="#000" stroke-width="3.1"/>
<circle cx="1351" cy="686.6" r="5.0" fill="#fff" stroke="#000" stroke-width="3.1"/>
<circle cx="1328.2" cy="693" r="5.0" fill="#fff" stroke="#000" stroke-width="3.1"/>
<circle cx="1339.2" cy="695.4" r="5.0" fill="#fff" stroke="#000" stroke-width="3.1"/>
<circle cx="1328.2" cy="709.5" r="5.0" fill="#fff" stroke="#000" stroke-width="3.1"/>
<circle cx="1351" cy="712.8" r="5.0" fill="#fff" stroke="#000" stroke-width="3.1"/>
<circle cx="1339.2" cy="716.3" r="5.0" fill="#fff" stroke="#000" stroke-width="3.1"/>
<circle cx="1339.2" cy="740.3" r="5.0" fill="#fff" stroke="#000" stroke-width="3.1"/>
<path d="M1297,597.3 V584.3 H1340.8 V597.3" fill="none" stroke="#000" stroke-width="2.8"/>
<text transform="translate(1259.2,569.2) scale(1,1.08)" font-size="22"><tspan font-style="italic">P</tspan><tspan> = 1.7x10</tspan><tspan font-size="15" dy="-8.61">-6</tspan></text>
<path d="M1390.8,822.6 V738.4 H1420.8 V822.6" fill="#fff" stroke="#0808ff" stroke-width="2.7"/>
<path d="M1405.8,733 V743 M1397.3,733 H1414.3 M1397.3,743 H1414.3" fill="none" stroke="#0808ff" stroke-width="2.6"/>
<path d="M1431.8,822.6 V677.4 H1462 V822.6" fill="#fff" stroke="#ff140a" stroke-width="2.7"/>
<path d="M1446.9,655.7 V697.3 M1438.4,655.7 H1455.4 M1438.4,697.3 H1455.4" fill="none" stroke="#ff140a" stroke-width="2.6"/>
<circle cx="1406.1" cy="716.7" r="5.0" fill="#fff" stroke="#000" stroke-width="3.1"/>
<circle cx="1395.7" cy="728.5" r="5.0" fill="#fff" stroke="#000" stroke-width="3.1"/>
<circle cx="1416.5" cy="724.1" r="5.0" fill="#fff" stroke="#000" stroke-width="3.1"/>
<circle cx="1403.1" cy="732.4" r="5.0" fill="#fff" stroke="#000" stroke-width="3.1"/>
<circle cx="1392.7" cy="735.4" r="5.0" fill="#fff" stroke="#000" stroke-width="3.1"/>
<circle cx="1418" cy="734.8" r="5.0" fill="#fff" stroke="#000" stroke-width="3.1"/>
<circle cx="1398.6" cy="731.8" r="5.0" fill="#fff" stroke="#000" stroke-width="3.1"/>
<circle cx="1412" cy="741.3" r="5.0" fill="#fff" stroke="#000" stroke-width="3.1"/>
<circle cx="1407.6" cy="728" r="5.0" fill="#fff" stroke="#000" stroke-width="3.1"/>
<circle cx="1446.8" cy="634.9" r="5.0" fill="#fff" stroke="#000" stroke-width="3.1"/>
<circle cx="1446.8" cy="649.8" r="5.0" fill="#fff" stroke="#000" stroke-width="3.1"/>
<circle cx="1434.9" cy="671.5" r="5.0" fill="#fff" stroke="#000" stroke-width="3.1"/>
<circle cx="1446.8" cy="669.4" r="5.0" fill="#fff" stroke="#000" stroke-width="3.1"/>
<circle cx="1452.7" cy="672.4" r="5.0" fill="#fff" stroke="#000" stroke-width="3.1"/>
<circle cx="1459.6" cy="671.5" r="5.0" fill="#fff" stroke="#000" stroke-width="3.1"/>
<circle cx="1440.9" cy="678.3" r="5.0" fill="#fff" stroke="#000" stroke-width="3.1"/>
<circle cx="1446.8" cy="680.4" r="5.0" fill="#fff" stroke="#000" stroke-width="3.1"/>
<circle cx="1440.9" cy="689.3" r="5.0" fill="#fff" stroke="#000" stroke-width="3.1"/>
<circle cx="1452.7" cy="693.2" r="5.0" fill="#fff" stroke="#000" stroke-width="3.1"/>
<circle cx="1446.8" cy="697.3" r="5.0" fill="#fff" stroke="#000" stroke-width="3.1"/>
<circle cx="1446.8" cy="712.2" r="5.0" fill="#fff" stroke="#000" stroke-width="3.1"/>
<path d="M1404,623.5 V611 H1447.1 V623.5" fill="none" stroke="#000" stroke-width="2.8"/>
<text transform="translate(1365.8,596.9) scale(1,1.08)" font-size="22"><tspan font-style="italic">P</tspan><tspan> = 2.0x10</tspan><tspan font-size="15" dy="-8.61">-8</tspan></text>
</svg></body></html>
